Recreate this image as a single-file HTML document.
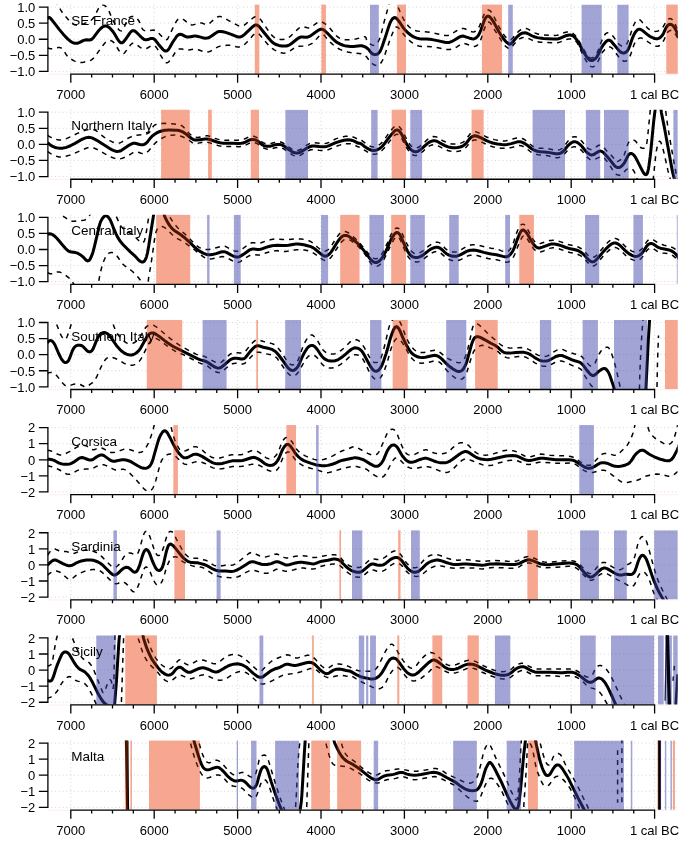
<!DOCTYPE html><html><head><meta charset="utf-8"><style>html,body{margin:0;padding:0;background:#fff}svg{display:block;will-change:transform}text{font-family:"Liberation Sans",sans-serif;font-size:13px;fill:#000}</style></head><body>
<svg width="685" height="842" viewBox="0 0 685 842">
<rect width="685" height="842" fill="#fff"/>
<g>
<g transform="translate(0 0.00)">
<clipPath id="c0"><rect x="47.6" y="4.5" width="630.2" height="69.5"/></clipPath>
<rect x="254.8" y="4.5" width="4.5" height="69.5" fill="#fbd0c3"/>
<rect x="321.4" y="4.5" width="4.5" height="69.5" fill="#fbd0c3"/>
<rect x="396.9" y="4.5" width="9.1" height="69.5" fill="#fbd0c3"/>
<rect x="481.9" y="4.5" width="20.1" height="69.5" fill="#fbd0c3"/>
<rect x="666.3" y="4.5" width="11.5" height="69.5" fill="#fbd0c3"/>
<path d="M47.6 7.07H677.8M47.6 23.15H677.8M47.6 39.23H677.8M47.6 55.31H677.8M47.6 71.39H677.8M70.80 4.5V74.0M154.20 4.5V74.0M237.60 4.5V74.0M321.00 4.5V74.0M404.40 4.5V74.0M487.80 4.5V74.0M571.20 4.5V74.0M654.60 4.5V74.0" stroke="#d3d3d3" stroke-width="1" stroke-dasharray="0.95 2.81" fill="none"/>
<g clip-path="url(#c0)">
<path d="M55.1 -0.0L60.8 10.1L62.3 12.5L63.7 14.4L65.8 16.8L69.6 21.0L71.0 22.4L71.9 23.1L72.8 23.8L73.9 24.4L74.6 24.7L75.7 24.9L77.3 25.0L78.9 24.9L80.8 24.5L83.9 23.6L87.3 22.3L89.5 21.3L90.8 20.5L92.3 19.2L93.1 18.3L93.7 17.3L95.0 15.3L98.1 9.2L98.9 7.9L99.8 6.6L100.6 5.7L101.6 5.2L102.2 4.9L103.3 5.0L104.3 5.3L105.6 6.2L106.7 7.3L107.6 8.6L108.4 10.0L109.1 11.4L112.2 18.8L114.0 22.4L116.1 25.8L117.6 28.2L118.9 29.7L119.4 30.2L120.0 30.6L121.0 30.9L121.6 30.8L122.5 30.3L123.2 29.5L123.8 28.5L124.2 27.4L126.0 22.9L126.8 21.1L127.5 19.7L128.5 18.4L129.7 17.4L131.1 16.7L131.8 16.5L132.6 16.4L133.7 16.5L134.8 16.8L135.5 17.2L136.1 17.6L137.3 18.7L138.2 20.0L139.1 21.3L139.8 22.7L141.3 26.9L141.8 27.9L142.6 29.2L143.4 30.0L144.0 30.4L144.7 30.6L146.3 30.9L147.5 30.9L149.4 30.7L153.7 30.1L154.8 30.2L155.5 30.4L156.5 31.0L157.7 32.0L162.4 37.0L164.4 38.9L165.3 39.5L165.9 39.7L166.2 39.7L166.8 39.6L167.3 39.3L167.7 38.7L168.1 38.1L170.3 33.4L173.8 26.2L175.0 23.7L176.2 21.6L177.1 20.3L177.9 19.4L178.8 18.8L179.5 18.5L180.2 18.4L181.3 18.5L182.0 18.8L183.0 19.3L184.4 20.1L185.3 20.9L188.5 23.8L189.5 24.4L190.6 24.8L191.7 24.9L193.3 24.8L194.8 24.4L198.6 23.1L199.8 22.9L200.5 22.9L201.3 22.9L202.1 23.1L204.9 24.2L205.7 24.4L206.4 24.5L207.1 24.4L207.9 24.2L209.2 23.5L210.8 22.3L214.6 18.8L216.6 17.4L217.6 16.9L218.8 16.6L219.5 16.5L220.7 16.6L222.2 17.0L224.0 17.8L228.8 20.6L237.3 25.2L239.1 25.9L240.3 26.1L241.0 26.2L241.8 26.1L242.6 25.9L243.3 25.7L244.3 25.1L245.9 23.9L249.5 20.7L253.6 17.5L254.9 16.8L255.6 16.6L256.3 16.5L257.0 16.6L258.1 17.1L259.0 17.8L260.0 18.9L261.5 20.8L269.7 32.7L270.9 34.2L272.0 35.4L273.4 36.8L274.8 37.7L276.2 38.4L278.1 39.0L280.4 39.4L282.8 39.5L284.8 39.2L286.7 38.7L288.4 37.8L290.0 36.6L291.5 35.3L298.1 28.9L299.4 27.8L300.3 27.2L301.0 26.9L301.8 26.7L302.9 26.6L304.4 26.9L307.4 27.8L308.6 27.9L309.7 27.8L310.8 27.4L311.8 26.8L315.9 23.6L317.9 22.3L318.6 22.0L319.3 21.7L320.4 21.6L321.5 21.8L323.0 22.5L324.6 23.5L326.5 25.0L328.3 26.6L329.7 28.0L334.0 33.3L335.9 35.4L337.1 36.4L338.0 37.2L339.3 38.0L340.4 38.6L342.3 39.2L344.2 39.6L346.6 39.8L349.4 39.7L352.6 39.4L355.8 38.9L358.5 38.3L363.1 37.0L364.2 36.8L364.9 36.8L365.4 37.0L365.8 37.3L366.1 37.8L366.4 39.5L366.8 40.5L367.5 41.5L368.6 42.6L370.1 43.8L371.8 44.9L372.5 45.2L373.2 45.3L374.3 45.4L375.0 45.2L375.7 44.8L376.3 44.3L377.0 43.5L378.3 41.5L379.7 38.6L380.5 36.3L381.2 34.0L383.4 24.7L384.8 19.3L389.4 3.1L390.3 0.9L391.3 -0.8L391.7 -1.4L392.3 -1.8L392.8 -2.0L393.1 -2.1L393.7 -2.0L394.2 -1.6L394.6 -1.1L395.2 -0.1L398.0 6.9L400.8 13.6L403.4 18.9L405.5 22.4L406.6 24.0L407.7 25.2L409.0 26.7L410.2 27.8L411.5 28.7L412.5 29.4L413.5 29.9L415.0 30.4L417.0 30.9L420.1 31.4L422.5 31.6L427.3 32.0L430.1 32.3L437.9 33.9L443.4 35.2L444.9 35.5L446.1 35.6L447.3 35.6L448.5 35.4L449.2 35.2L450.3 34.7L451.7 34.0L455.4 31.5L458.8 29.4L460.2 28.8L461.7 28.4L462.5 28.4L463.2 28.4L464.7 28.8L470.6 31.3L472.1 31.8L473.2 31.9L474.3 31.8L475.4 31.3L476.6 30.4L477.6 29.2L478.9 27.2L479.6 25.7L480.4 23.9L483.5 15.7L484.4 13.9L485.2 12.5L486.1 11.3L487.0 10.5L487.9 10.1L488.6 10.1L489.6 10.4L490.4 11.1L491.2 12.0L492.3 13.6L494.4 17.5L497.7 24.3L499.2 27.1L501.4 30.9L503.3 34.0L504.7 35.9L506.1 37.4L507.3 38.5L508.6 39.3L509.6 39.7L510.3 39.7L510.9 39.6L511.5 39.3L512.6 38.3L516.6 33.3L517.7 32.2L518.9 31.1L520.1 30.1L521.5 29.3L522.9 28.7L524.1 28.4L524.8 28.3L525.6 28.4L526.4 28.5L527.5 28.9L528.5 29.4L531.6 31.3L533.0 32.1L534.8 32.9L537.1 33.7L538.6 34.2L540.2 34.5L543.3 34.9L554.5 35.4L556.9 35.3L558.1 35.1L559.6 34.7L564.0 32.8L565.9 32.2L567.1 32.0L568.3 32.0L569.4 32.0L570.2 32.2L571.7 32.7L573.0 33.5L574.5 34.8L575.8 36.3L577.5 38.5L578.8 40.6L583.2 48.7L585.0 51.7L586.5 54.1L588.0 56.0L589.1 57.1L590.0 57.7L591.1 58.0L591.8 58.0L592.4 57.8L593.1 57.5L593.7 57.0L595.1 55.6L596.5 53.7L597.3 52.3L598.0 50.9L600.8 43.0L601.9 40.4L603.4 37.1L604.4 35.4L605.0 34.4L605.8 33.6L606.7 33.0L607.8 32.8L608.8 32.9L609.5 33.2L610.2 33.6L611.5 34.5L612.6 35.7L613.6 36.9L616.5 41.2L617.6 42.8L619.0 44.3L620.2 45.2L621.6 46.0L622.3 46.2L623.1 46.3L624.1 46.1L624.8 45.8L625.4 45.4L626.2 44.6L626.9 43.6L627.8 41.8L628.6 40.0L629.7 37.0L632.2 29.0L633.0 26.7L634.0 24.5L635.1 22.4L635.9 21.1L636.9 20.0L637.9 19.5L638.5 19.4L639.2 19.5L639.8 19.8L640.4 20.2L641.2 21.1L643.3 23.5L647.1 27.6L648.2 28.7L649.5 29.7L650.8 30.5L651.9 30.9L653.5 31.3L655.1 31.4L656.6 31.2L658.2 30.9L659.6 30.3L660.9 29.4L661.8 28.6L662.8 27.4L665.8 22.2L666.7 20.9L667.5 20.0L668.3 19.2L669.3 18.7L670.0 18.6L671.0 18.7L671.9 19.3L673.0 20.4L673.9 21.7L674.8 23.4L676.0 26.0L677.7 30.5L680.1 37.7" fill="none" stroke="#000" stroke-width="1.5" stroke-linejoin="round" stroke-linecap="butt" stroke-dasharray="4.9 4.9"/>
<path d="M47.5 47.7L49.4 48.5L50.5 48.7L51.3 48.8L52.8 48.7L56.7 47.8L58.3 47.6L59.9 47.6L60.6 47.8L61.3 48.1L62.3 48.7L63.3 49.8L64.2 51.1L65.7 53.9L66.9 55.5L68.0 56.7L69.5 58.0L70.8 58.9L72.5 60.0L74.2 60.9L75.7 61.6L77.2 62.1L78.4 62.3L79.5 62.5L80.7 62.5L81.9 62.4L83.5 62.2L88.6 61.1L90.4 60.4L91.1 60.1L92.1 59.4L93.6 58.1L94.9 56.6L99.8 49.7L103.1 45.2L104.3 43.7L105.4 42.5L106.4 41.8L107.7 41.0L108.8 40.6L109.9 40.5L111.0 40.7L112.1 41.1L113.3 42.1L114.1 43.0L115.0 44.2L118.6 50.0L119.9 52.0L120.7 52.9L121.3 53.3L121.9 53.7L122.5 53.8L122.9 53.8L123.5 53.6L124.1 53.3L124.6 52.8L127.4 49.3L129.9 45.7L130.6 44.8L131.7 43.7L132.7 43.3L133.7 43.2L134.4 43.3L135.1 43.6L136.4 44.4L139.2 46.7L140.5 47.6L142.2 48.5L143.8 48.8L144.9 48.9L146.4 48.5L147.5 48.0L150.2 46.4L151.3 45.9L152.4 45.5L153.5 45.5L154.2 45.6L154.8 45.9L155.4 46.4L156.2 47.2L157.5 49.2L160.2 54.6L163.7 60.4L164.4 61.3L165.2 62.2L166.1 62.7L166.7 62.8L167.4 62.7L168.0 62.4L168.6 62.0L169.4 61.1L172.5 56.9L175.2 52.5L176.1 51.2L176.8 50.3L177.4 49.8L178.1 49.4L178.8 49.1L179.9 48.9L181.0 48.9L182.2 49.1L185.3 49.9L187.2 50.1L188.8 50.0L193.5 49.1L194.7 49.1L195.9 49.1L197.1 49.3L198.2 49.7L203.8 51.7L205.4 52.0L207.0 52.1L208.5 51.9L210.4 51.3L212.1 50.3L216.2 47.8L218.0 46.9L220.2 46.1L223.0 45.6L226.6 45.3L228.6 45.2L230.2 45.3L232.5 45.7L236.4 46.8L237.5 47.0L239.1 47.1L240.2 47.0L241.0 46.8L242.1 46.3L243.1 45.7L244.3 44.7L246.6 42.5L248.6 40.5L252.4 35.9L253.5 34.8L254.7 33.8L255.4 33.4L256.1 33.2L256.8 33.1L257.8 33.3L258.5 33.7L259.4 34.4L260.4 35.6L263.6 39.6L267.9 44.4L270.5 46.9L272.6 48.7L273.9 49.6L275.3 50.4L278.2 51.8L279.7 52.4L281.2 52.8L282.4 53.1L283.5 53.2L284.7 53.1L285.9 52.9L287.0 52.5L288.1 52.0L290.5 50.6L294.7 47.6L295.8 47.1L296.9 46.6L298.0 46.3L299.2 46.2L303.2 46.1L305.1 46.0L307.5 45.4L309.0 44.9L310.1 44.4L312.2 43.3L314.0 41.8L315.4 40.3L318.5 36.7L319.9 35.3L320.5 34.9L321.2 34.5L322.2 34.4L323.2 34.6L324.1 35.2L324.9 36.1L327.6 39.5L330.2 42.1L332.8 44.5L334.7 46.0L336.6 47.5L338.3 48.5L340.4 49.6L342.7 50.5L345.3 51.4L347.6 52.0L350.4 52.5L354.3 53.1L361.5 53.8L362.7 54.0L363.4 54.3L364.4 54.8L365.6 55.8L366.9 57.3L369.8 61.1L370.9 62.3L371.8 63.1L373.4 64.3L374.7 65.0L375.8 65.4L376.9 65.6L377.7 65.5L378.4 65.2L379.0 64.9L379.9 64.1L381.2 62.6L382.6 60.2L383.4 58.4L384.5 55.8L390.3 38.8L392.5 33.2L393.7 30.2L394.6 28.5L395.3 27.6L396.1 27.1L396.8 27.0L397.4 27.2L398.0 27.5L398.8 28.2L400.6 30.4L404.0 34.8L405.0 36.1L406.9 38.1L409.5 40.6L411.4 42.1L413.0 43.3L414.7 44.3L416.5 45.2L418.7 46.0L421.1 46.5L423.0 46.6L427.4 46.5L431.4 46.8L435.0 47.3L438.1 47.8L445.6 49.4L447.1 49.6L448.7 49.6L449.9 49.5L451.5 49.2L453.0 48.7L454.5 48.1L457.0 46.8L461.0 44.2L462.0 43.7L463.2 43.5L464.3 43.5L465.4 43.7L470.3 45.5L472.2 46.1L473.3 46.3L474.5 46.4L475.2 46.3L475.9 46.0L476.9 45.5L477.8 44.7L478.8 43.5L479.7 42.2L480.4 40.7L481.4 38.1L483.9 30.1L485.1 27.2L486.2 24.6L486.8 23.6L487.5 22.7L488.3 22.2L488.9 22.1L489.4 22.2L490.0 22.6L490.9 23.7L493.1 27.5L498.4 36.0L501.9 41.4L504.0 44.3L505.2 45.9L506.7 47.2L508.0 48.1L509.0 48.5L509.7 48.6L510.4 48.5L510.7 48.4L511.2 48.0L511.9 47.2L513.2 45.2L514.4 43.7L516.6 41.3L518.4 39.7L519.7 38.8L520.7 38.2L522.2 37.7L523.3 37.4L524.9 37.3L525.7 37.4L526.8 37.7L528.3 38.3L531.5 39.9L532.9 40.5L535.2 41.3L537.5 41.8L540.3 42.2L543.1 42.4L553.9 42.9L556.7 42.8L558.6 42.5L560.5 41.9L564.9 40.0L566.5 39.6L568.4 39.1L570.0 38.9L571.2 38.8L572.3 38.9L573.4 39.3L574.5 39.8L575.3 40.5L576.4 41.7L577.5 43.4L579.1 46.6L582.1 53.2L583.5 56.0L585.4 59.5L587.1 62.3L588.5 64.2L589.9 65.7L590.4 66.2L591.1 66.6L592.1 66.9L593.1 66.8L594.1 66.3L595.2 65.3L596.4 63.8L597.5 62.1L598.5 60.4L601.8 53.5L602.6 52.1L603.6 50.9L604.9 49.4L606.4 48.1L607.8 47.3L608.8 47.0L609.9 46.9L610.6 47.1L611.2 47.5L612.1 48.2L613.6 50.0L619.1 57.4L620.5 58.9L621.7 59.9L623.0 60.8L624.0 61.2L625.1 61.2L625.8 61.1L626.5 60.8L627.4 60.1L628.2 59.2L629.0 57.9L629.8 56.5L631.0 53.6L633.7 45.6L634.4 43.8L635.2 42.3L636.2 40.7L637.3 39.5L638.5 38.6L639.6 38.1L640.3 38.0L641.0 38.0L641.8 38.1L642.8 38.5L645.2 39.9L650.5 43.5L652.6 44.7L654.4 45.6L655.5 46.0L656.3 46.2L657.4 46.3L658.2 46.2L659.2 45.8L660.2 45.2L661.3 44.1L662.5 42.5L663.9 40.1L666.5 34.2L667.1 33.2L667.7 32.2L668.5 31.4L669.5 30.8L670.5 30.5L671.2 30.5L672.2 30.9L672.9 31.3L673.4 31.8L674.5 33.0L675.9 34.9L677.1 37.0L678.0 38.8L680.1 44.0" fill="none" stroke="#000" stroke-width="1.5" stroke-linejoin="round" stroke-linecap="butt" stroke-dasharray="4.9 4.9"/>
<path d="M47.5 18.8L48.2 17.8L48.7 17.5L48.9 17.4L49.2 17.4L49.7 17.6L50.5 18.3L52.3 20.4L59.4 29.6L63.0 33.9L65.4 36.6L67.9 39.1L70.0 40.9L72.0 42.2L73.1 42.8L73.8 43.0L75.4 43.3L76.1 43.3L77.3 43.2L79.2 42.6L83.1 40.6L84.6 40.1L86.1 39.8L89.6 40.0L90.7 39.8L91.4 39.5L92.3 38.8L93.4 37.7L97.9 31.6L99.2 30.0L100.9 28.4L102.1 27.3L103.4 26.5L104.1 26.2L104.9 26.0L106.0 26.0L107.1 26.2L108.4 27.0L110.0 28.2L111.6 30.0L113.1 31.8L114.3 33.5L117.5 39.0L118.6 40.6L119.6 41.8L120.2 42.3L120.8 42.7L121.4 42.8L122.1 42.8L122.7 42.5L123.3 42.1L123.8 41.5L124.6 40.6L127.6 36.4L129.8 33.1L130.8 31.9L131.7 31.1L132.3 30.8L133.0 30.6L133.7 30.7L134.7 31.0L136.0 31.9L137.1 33.0L139.9 35.8L142.2 38.0L143.5 39.0L144.5 39.6L145.5 39.8L146.6 39.8L147.8 39.6L150.4 38.6L151.5 38.4L152.6 38.4L153.3 38.7L154.0 39.0L154.9 39.7L155.7 40.6L158.6 44.4L163.0 49.5L163.9 50.3L164.5 50.7L165.2 51.0L165.9 51.1L166.5 50.9L167.2 50.7L167.7 50.2L168.3 49.7L169.6 47.7L172.5 42.5L175.9 37.5L176.8 36.2L177.6 35.4L178.6 34.7L179.2 34.4L180.3 34.2L181.4 34.4L182.4 34.9L185.2 36.4L186.3 36.8L187.1 37.0L187.8 37.0L189.0 37.0L193.3 36.2L194.5 36.1L195.7 36.1L196.9 36.2L198.0 36.4L202.3 37.6L203.8 38.0L205.4 38.2L206.6 38.1L208.1 37.9L208.8 37.6L209.9 37.1L211.6 36.0L215.4 33.2L217.1 32.2L218.2 31.7L219.0 31.6L219.8 31.4L221.0 31.4L222.9 31.7L225.6 32.4L231.3 34.4L235.7 36.2L237.2 36.8L238.7 37.0L239.9 37.0L240.6 36.8L241.4 36.6L242.1 36.2L243.0 35.6L244.6 34.3L247.5 31.6L253.0 26.4L254.0 25.7L254.6 25.3L255.3 25.1L256.0 25.0L256.8 25.1L257.8 25.5L258.4 25.9L259.3 26.7L260.3 27.9L263.3 31.7L269.1 38.8L270.7 40.6L272.1 42.0L273.7 43.2L275.0 44.0L276.9 44.8L278.8 45.4L281.9 45.9L284.3 46.1L286.3 46.0L288.2 45.5L289.6 44.8L290.9 44.0L297.5 38.8L298.5 38.1L299.5 37.5L300.6 37.1L301.8 37.0L303.0 37.0L305.3 37.2L306.5 37.2L307.7 37.1L308.8 36.7L309.8 36.2L310.9 35.6L315.1 32.5L318.7 30.1L320.1 29.4L320.8 29.3L321.6 29.2L322.3 29.3L323.0 29.6L323.7 29.9L324.7 30.6L325.8 31.7L328.4 34.2L332.8 38.8L334.6 40.5L335.8 41.5L337.1 42.4L338.5 43.2L340.3 44.1L342.5 45.0L344.4 45.6L346.3 46.1L348.3 46.3L350.7 46.5L353.5 46.4L360.2 45.8L361.8 45.8L363.3 46.2L364.5 46.6L365.5 47.1L366.9 48.0L367.8 48.7L368.9 49.8L371.0 52.7L372.2 53.7L373.2 54.2L373.9 54.4L374.7 54.6L375.8 54.5L376.6 54.3L377.3 54.1L378.0 53.7L378.6 53.2L379.6 52.1L380.4 50.7L381.4 48.5L382.5 45.5L385.8 35.7L388.6 26.9L390.0 23.1L391.2 20.6L392.3 19.0L392.9 18.5L393.5 18.0L394.1 17.7L394.7 17.6L395.4 17.7L396.0 18.0L396.6 18.5L397.4 19.3L399.8 22.5L403.6 28.1L404.9 29.7L406.5 31.4L408.5 33.3L410.4 34.8L412.4 36.2L414.2 37.1L416.8 38.1L419.5 38.7L421.9 39.0L426.6 38.9L429.4 39.2L432.2 39.6L437.3 40.6L444.7 42.3L446.3 42.5L447.5 42.6L448.6 42.5L449.4 42.4L451.3 41.7L454.5 40.0L459.2 37.1L460.6 36.5L461.8 36.2L462.9 36.1L464.1 36.3L469.7 38.2L472.0 38.8L473.2 38.9L474.3 38.7L475.0 38.4L476.0 37.9L476.9 37.1L478.0 35.9L478.9 34.6L479.6 33.2L480.8 30.3L483.7 21.9L484.4 20.1L485.3 18.3L486.0 17.3L486.7 16.6L487.6 16.2L488.3 16.2L489.2 16.5L490.1 17.2L491.1 18.4L492.3 20.0L494.4 23.4L497.8 29.8L499.2 32.2L501.3 35.6L503.4 38.5L505.1 40.7L506.5 42.2L507.7 43.2L508.3 43.7L508.9 44.0L509.6 44.2L510.3 44.1L510.9 43.9L511.4 43.5L516.2 37.7L517.6 36.3L519.1 35.0L520.4 34.1L521.4 33.5L522.5 33.1L523.7 32.9L525.2 32.8L526.8 33.2L528.2 33.8L531.3 35.5L532.8 36.2L535.0 37.0L537.4 37.6L540.1 38.1L543.3 38.5L553.3 39.1L556.1 39.1L558.0 38.9L559.9 38.3L564.3 36.3L566.5 35.5L568.1 35.2L569.3 35.0L570.4 35.0L571.2 35.2L572.3 35.5L573.6 36.3L574.8 37.4L575.8 38.6L577.0 40.2L578.1 41.9L583.1 51.0L585.1 54.4L586.7 56.8L587.9 58.3L589.0 59.5L589.6 59.9L590.2 60.3L591.3 60.5L592.4 60.4L593.1 60.2L593.8 59.8L595.0 58.9L596.4 57.4L597.1 56.5L597.9 55.1L598.7 53.7L601.0 48.6L602.0 46.9L603.1 45.2L604.8 43.0L606.1 41.5L607.3 40.6L608.3 40.2L609.0 40.2L609.7 40.3L610.3 40.6L611.2 41.3L614.3 44.9L618.3 49.9L619.5 51.1L620.7 52.1L622.0 52.8L623.1 53.0L624.2 53.0L624.9 52.8L625.6 52.4L626.5 51.7L627.3 50.8L628.0 49.9L628.7 48.5L629.9 45.5L632.6 37.6L633.6 35.4L634.5 33.6L635.6 31.9L636.6 30.7L637.1 30.2L637.7 29.7L638.7 29.3L639.4 29.2L640.1 29.3L640.8 29.6L641.5 29.9L644.1 31.8L648.4 35.3L649.7 36.2L651.5 37.2L653.3 38.0L654.8 38.5L656.4 38.7L657.5 38.7L658.6 38.4L659.7 37.9L660.9 36.9L661.9 35.8L662.9 34.5L663.6 33.1L665.6 28.7L666.3 27.3L667.0 26.3L667.7 25.4L668.6 24.7L669.3 24.4L670.0 24.3L671.0 24.4L672.0 24.9L672.9 25.6L673.9 26.8L674.8 28.1L675.9 30.2L677.6 33.9L680.1 40.2" fill="none" stroke="#000" stroke-width="3" stroke-linejoin="round" stroke-linecap="butt"/>
<rect x="254.8" y="4.5" width="4.5" height="69.5" fill="#ee4a18" fill-opacity="0.3"/>
<rect x="321.4" y="4.5" width="4.5" height="69.5" fill="#ee4a18" fill-opacity="0.3"/>
<rect x="370.0" y="4.5" width="8.8" height="69.5" fill="#3a40a5" fill-opacity="0.48"/>
<rect x="396.9" y="4.5" width="9.1" height="69.5" fill="#ee4a18" fill-opacity="0.3"/>
<rect x="481.9" y="4.5" width="20.1" height="69.5" fill="#ee4a18" fill-opacity="0.3"/>
<rect x="508.2" y="4.5" width="4.6" height="69.5" fill="#3a40a5" fill-opacity="0.48"/>
<rect x="581.6" y="4.5" width="20.1" height="69.5" fill="#3a40a5" fill-opacity="0.48"/>
<rect x="617.3" y="4.5" width="11.3" height="69.5" fill="#3a40a5" fill-opacity="0.48"/>
<rect x="666.3" y="4.5" width="11.5" height="69.5" fill="#ee4a18" fill-opacity="0.3"/>
</g>
<path d="M47.6 74.25H677.8" stroke="#fcefec" stroke-width="1"/>
<path d="M47.9 7.07V71.39M39.5 7.07H47.9M39.5 23.15H47.9M39.5 39.23H47.9M39.5 55.31H47.9M39.5 71.39H47.9M70.80 74.10H654.60M70.80 74.10V82.10M154.20 74.10V82.10M237.60 74.10V82.10M321.00 74.10V82.10M404.40 74.10V82.10M487.80 74.10V82.10M571.20 74.10V82.10M654.60 74.10V82.10M91.65 74.10V76.90M112.50 74.10V76.90M133.35 74.10V76.90M175.05 74.10V76.90M195.90 74.10V76.90M216.75 74.10V76.90M258.45 74.10V76.90M279.30 74.10V76.90M300.15 74.10V76.90M341.85 74.10V76.90M362.70 74.10V76.90M383.55 74.10V76.90M425.25 74.10V76.90M446.10 74.10V76.90M466.95 74.10V76.90M508.65 74.10V76.90M529.50 74.10V76.90M550.35 74.10V76.90M592.05 74.10V76.90M612.90 74.10V76.90M633.75 74.10V76.90" stroke="#000" stroke-width="1.3" fill="none" stroke-linecap="square"/>
<text x="35.3" y="11.87" text-anchor="end">1.0</text>
<text x="35.3" y="27.95" text-anchor="end">0.5</text>
<text x="35.3" y="44.03" text-anchor="end">0.0</text>
<text x="35.3" y="60.11" text-anchor="end">−0.5</text>
<text x="35.3" y="76.19" text-anchor="end">−1.0</text>
<text x="70.80" y="98.70" text-anchor="middle">7000</text>
<text x="154.20" y="98.70" text-anchor="middle">6000</text>
<text x="237.60" y="98.70" text-anchor="middle">5000</text>
<text x="321.00" y="98.70" text-anchor="middle">4000</text>
<text x="404.40" y="98.70" text-anchor="middle">3000</text>
<text x="487.80" y="98.70" text-anchor="middle">2000</text>
<text x="571.20" y="98.70" text-anchor="middle">1000</text>
<text x="654.60" y="98.70" text-anchor="middle">1 cal BC</text>
<text x="71.3" y="25.1" style="font-size:13.5px">SE France</text>
</g>
<g transform="translate(0 105.14)">
<clipPath id="c1"><rect x="47.6" y="4.5" width="630.2" height="69.5"/></clipPath>
<rect x="161.1" y="4.5" width="28.6" height="69.5" fill="#fbd0c3"/>
<rect x="208.1" y="4.5" width="3.7" height="69.5" fill="#fbd0c3"/>
<rect x="250.8" y="4.5" width="8.2" height="69.5" fill="#fbd0c3"/>
<rect x="391.7" y="4.5" width="14.3" height="69.5" fill="#fbd0c3"/>
<rect x="471.6" y="4.5" width="12.0" height="69.5" fill="#fbd0c3"/>
<path d="M47.6 7.07H677.8M47.6 23.15H677.8M47.6 39.23H677.8M47.6 55.31H677.8M47.6 71.39H677.8M70.80 4.5V74.0M154.20 4.5V74.0M237.60 4.5V74.0M321.00 4.5V74.0M404.40 4.5V74.0M487.80 4.5V74.0M571.20 4.5V74.0M654.60 4.5V74.0" stroke="#d3d3d3" stroke-width="1" stroke-dasharray="0.95 2.81" fill="none"/>
<g clip-path="url(#c1)">
<path d="M47.5 30.0L49.1 31.2L50.5 32.0L52.3 32.9L54.5 33.7L56.8 34.4L58.8 34.8L60.4 34.9L61.9 34.9L63.9 34.5L66.5 33.5L72.3 30.8L78.4 27.8L81.0 26.7L83.6 25.7L85.9 25.0L88.2 24.5L90.2 24.2L92.2 24.3L93.3 24.5L94.5 24.8L95.6 25.3L96.6 25.9L98.2 27.0L102.1 30.5L104.0 31.9L106.7 33.7L109.8 35.5L112.3 36.8L114.5 37.6L116.5 38.0L118.0 38.1L119.6 37.8L121.0 37.2L122.4 36.4L125.8 34.3L127.6 33.4L130.8 31.8L133.0 30.9L134.6 30.5L136.1 30.2L141.7 29.7L144.5 29.2L146.4 28.8L147.9 28.2L148.9 27.6L150.0 26.5L150.8 25.2L152.6 22.1L153.6 20.9L154.8 19.9L156.2 19.2L158.1 18.7L160.9 18.4L164.9 18.2L168.5 18.3L172.1 18.6L177.7 19.2L179.6 19.6L181.4 20.4L182.4 21.0L183.6 22.0L184.7 23.2L187.5 26.6L188.6 27.7L190.1 29.1L191.6 30.3L193.0 31.1L194.4 31.8L195.5 32.1L197.1 32.3L198.7 32.2L200.7 31.8L205.3 30.8L206.5 30.7L207.7 30.7L209.6 31.1L215.2 33.3L217.5 34.0L219.4 34.5L221.4 34.8L223.4 35.1L225.4 35.2L228.2 35.2L238.2 35.0L241.3 34.7L242.9 34.4L244.0 34.0L245.5 33.4L248.4 32.0L249.9 31.5L251.8 31.2L253.4 31.2L254.6 31.4L255.3 31.7L256.0 32.0L257.1 32.5L258.3 33.5L260.6 35.7L261.8 36.7L263.2 37.6L264.6 38.2L266.5 38.6L267.7 38.7L268.9 38.7L270.9 38.4L274.3 37.4L276.3 37.0L278.6 36.8L280.6 36.9L282.1 37.4L283.5 38.1L289.0 42.0L291.1 43.4L292.4 44.2L293.5 44.7L294.6 45.1L295.8 45.3L296.9 45.4L298.5 45.2L299.2 44.9L300.3 44.4L301.6 43.6L304.9 41.3L307.6 39.5L309.7 38.4L311.2 37.9L312.3 37.6L313.9 37.5L322.7 38.3L324.7 38.3L326.2 38.1L327.4 37.8L328.9 37.2L334.6 34.3L336.4 33.5L338.3 32.9L341.0 32.1L343.3 31.5L345.7 31.1L347.7 31.0L350.0 31.0L352.0 31.4L353.1 31.8L354.2 32.2L358.0 34.2L358.9 34.4L360.2 34.5L360.9 34.7L361.7 35.2L364.5 37.4L366.4 38.8L369.1 40.5L370.9 41.3L372.1 41.7L373.2 41.9L374.4 41.8L375.5 41.6L377.0 41.1L378.4 40.3L380.0 39.1L381.5 37.8L383.4 35.7L388.0 29.2L393.0 22.9L394.1 21.8L395.0 21.1L396.0 20.5L397.0 20.4L398.0 20.6L398.9 21.2L399.7 22.0L400.9 23.6L403.0 27.0L406.2 33.1L407.7 35.9L409.2 38.2L410.3 39.9L411.4 41.0L412.3 41.8L413.7 42.5L414.8 42.8L415.5 42.9L416.7 42.8L417.8 42.4L418.8 41.9L420.4 40.7L422.6 39.0L424.1 37.6L426.9 34.8L428.5 33.6L429.8 32.7L430.9 32.2L432.4 31.7L433.5 31.4L435.1 31.5L436.6 31.9L438.0 32.6L441.3 34.8L443.4 35.9L446.7 37.4L449.3 38.3L452.1 38.8L454.5 38.9L457.3 38.7L460.0 38.2L461.5 37.7L462.6 37.2L463.9 36.4L464.8 35.6L466.4 33.8L469.7 29.3L470.5 28.4L471.4 27.7L472.4 27.1L473.1 26.8L474.2 26.5L475.0 26.5L476.1 26.7L477.6 27.2L485.4 31.3L487.2 32.1L489.1 32.8L491.7 33.7L494.4 34.5L496.8 35.0L499.5 35.4L503.1 35.8L504.7 35.8L505.9 35.7L508.3 35.2L513.6 33.6L516.7 32.8L518.7 32.7L519.5 32.7L520.6 32.9L521.8 33.2L522.9 33.6L525.0 34.8L526.9 36.2L530.2 39.1L531.7 40.4L533.8 41.6L536.0 42.5L537.5 42.9L539.1 43.1L540.7 43.1L544.3 43.1L546.3 43.2L548.2 43.5L554.5 44.8L556.1 45.0L557.7 45.0L558.8 44.8L560.0 44.5L561.4 43.8L562.4 43.1L563.3 42.4L564.3 41.2L566.8 37.5L567.7 36.3L568.8 35.1L570.0 34.0L571.2 33.0L572.5 32.1L573.2 31.8L574.0 31.6L575.1 31.6L576.2 31.8L577.3 32.3L578.3 32.9L579.5 33.9L581.0 35.3L582.1 36.4L585.3 40.5L586.6 42.0L588.1 43.3L589.1 43.9L589.8 44.1L590.6 44.3L591.3 44.4L592.1 44.3L593.1 43.9L594.5 43.1L597.3 40.9L598.7 40.2L599.4 40.1L600.1 40.0L600.9 40.2L601.9 40.6L602.5 41.0L603.4 41.8L607.3 46.4L612.4 51.4L613.5 53.0L614.6 55.5L615.2 56.3L615.6 56.6L615.9 56.6L616.5 56.6L617.2 56.4L618.3 56.0L620.7 54.6L621.9 53.6L622.9 52.4L623.7 51.0L624.4 49.2L625.6 45.8L627.1 40.8L628.0 38.6L628.5 37.5L629.2 36.6L630.1 35.8L630.7 35.3L631.7 34.9L632.8 34.8L633.9 35.0L634.9 35.5L635.5 36.0L636.3 36.9L638.5 40.2L639.5 41.4L640.7 42.4L641.7 42.9L642.4 43.1L643.2 43.2L643.9 43.2L644.5 43.0L645.4 42.4L645.8 41.9L646.1 41.2L646.4 40.1L646.8 38.1L647.6 32.2L650.1 6.7L651.3 -11.3L651.7 -15.7L652.2 -20.0L654.4 -35.9L655.8 -44.6L656.4 -47.3L656.8 -48.8L657.1 -49.5L657.4 -49.9L657.8 -50.2L658.0 -50.2L658.3 -50.1L658.8 -49.3L659.2 -48.3L659.6 -46.8L660.6 -41.3L661.9 -32.6L663.6 -19.9L664.1 -15.5L664.6 -9.9L665.3 1.7L665.9 7.2L666.7 14.0L668.0 22.7L672.5 49.1L678.4 80.6" fill="none" stroke="#000" stroke-width="1.5" stroke-linejoin="round" stroke-linecap="butt" stroke-dasharray="4.9 4.9"/>
<path d="M47.5 46.3L49.5 47.7L51.2 48.7L53.7 50.0L55.9 50.9L57.4 51.4L59.0 51.8L60.6 51.9L62.2 51.9L64.1 51.6L66.1 51.1L68.0 50.5L70.3 49.8L73.6 48.5L80.2 45.6L85.0 43.6L86.9 42.9L88.0 42.5L89.2 42.3L90.4 42.2L91.2 42.3L92.3 42.4L93.9 42.9L97.2 44.3L100.0 45.8L104.5 48.4L108.0 50.3L110.5 51.6L112.3 52.4L114.6 53.2L116.5 53.6L118.1 53.8L119.7 53.7L120.8 53.5L122.4 53.1L123.9 52.5L125.7 51.8L128.2 50.5L132.6 47.7L134.0 47.0L135.1 46.7L136.2 46.6L137.4 46.7L138.5 47.1L141.1 48.1L142.6 48.5L143.7 48.6L144.5 48.4L145.2 48.2L145.9 47.9L146.9 47.2L148.7 45.6L150.0 44.1L153.2 40.1L155.4 37.8L157.9 35.7L160.2 34.1L161.9 33.1L163.7 32.2L165.5 31.4L167.0 30.9L168.6 30.5L170.5 30.2L172.1 30.0L174.1 29.9L176.5 30.0L178.5 30.4L180.4 30.9L183.0 31.9L185.2 32.9L187.3 34.0L189.0 35.1L192.5 37.7L193.6 38.2L194.3 38.5L195.0 38.6L196.2 38.6L200.4 37.5L203.2 37.1L205.2 37.0L207.1 37.1L208.3 37.3L209.9 37.7L214.4 39.3L217.8 40.3L220.6 41.0L222.9 41.3L226.1 41.4L232.9 41.3L238.9 41.6L241.3 41.4L242.9 41.1L244.4 40.6L245.4 40.1L248.6 38.4L250.0 37.8L250.8 37.6L252.0 37.4L253.1 37.4L254.3 37.5L255.8 37.9L257.6 38.8L258.6 39.4L261.5 41.6L263.2 42.6L265.0 43.4L266.9 44.0L268.5 44.2L270.0 44.1L271.2 43.8L275.0 42.7L277.4 42.4L279.4 42.3L280.5 42.5L281.3 42.6L282.4 43.1L283.8 43.8L288.7 47.3L291.0 48.8L292.4 49.7L293.4 50.2L294.6 50.6L295.7 50.8L296.5 50.9L297.3 50.9L298.4 50.7L300.3 50.1L301.7 49.3L305.2 47.3L307.6 46.0L309.4 45.1L310.9 44.7L312.1 44.5L313.7 44.4L318.8 45.0L322.0 45.3L324.0 45.3L326.0 45.1L327.2 44.9L328.7 44.4L335.3 41.5L339.8 40.0L342.1 39.3L344.1 38.9L346.0 38.6L348.0 38.5L350.4 38.6L352.4 39.0L354.2 39.7L358.0 41.7L358.9 41.9L360.1 42.0L360.9 42.2L361.7 42.8L364.4 45.0L366.1 46.1L368.5 47.6L370.6 48.6L371.8 48.9L372.9 49.1L374.1 49.2L375.3 49.0L376.8 48.6L378.6 47.7L380.2 46.6L381.8 45.4L382.9 44.3L384.3 42.8L392.5 32.5L393.8 31.0L394.7 30.2L395.6 29.5L396.3 29.2L397.0 29.1L398.0 29.3L398.9 29.9L399.7 30.7L400.7 32.0L401.8 33.6L402.6 35.0L405.3 40.4L406.3 42.1L407.8 44.5L409.5 46.7L410.8 48.1L412.4 49.4L413.8 50.1L414.5 50.3L415.2 50.4L416.0 50.4L417.1 50.2L418.2 49.7L419.2 49.1L420.8 47.9L423.0 46.2L427.4 42.1L429.0 41.0L430.1 40.5L431.2 40.0L433.1 39.7L434.3 39.6L435.1 39.7L435.9 39.8L437.0 40.2L438.1 40.7L442.0 42.7L445.6 44.4L447.8 45.3L449.7 45.9L452.1 46.3L454.5 46.4L456.8 46.3L459.6 45.8L461.1 45.3L462.2 44.9L463.3 44.3L464.3 43.7L465.2 42.9L466.1 42.1L469.4 38.1L471.1 36.5L472.1 35.8L473.1 35.2L474.2 34.9L475.0 34.8L475.7 34.8L476.9 34.9L478.8 35.5L481.3 36.7L486.7 39.4L488.5 40.2L490.4 40.9L492.7 41.6L494.6 42.1L496.6 42.5L498.6 42.8L501.0 43.0L503.4 43.1L505.8 43.0L508.1 42.9L510.5 42.5L512.5 42.1L517.8 40.4L519.3 40.3L520.9 40.5L522.7 41.1L524.9 42.2L526.8 43.6L529.9 46.1L531.2 47.1L532.6 47.9L534.4 48.6L536.3 49.2L538.3 49.6L540.2 49.8L544.2 50.0L546.2 50.3L548.2 50.7L553.2 52.1L555.9 52.5L557.5 52.6L558.7 52.4L559.8 52.0L561.2 51.4L562.6 50.5L563.8 49.5L567.3 45.6L568.4 44.6L569.7 43.6L571.0 42.7L572.4 42.0L573.9 41.6L575.1 41.6L576.2 41.8L577.7 42.4L579.0 43.2L580.3 44.2L581.2 45.0L582.3 46.1L585.7 50.5L587.1 52.0L588.9 53.5L589.9 54.2L590.6 54.5L591.3 54.7L592.1 54.8L592.8 54.8L593.6 54.7L595.1 54.1L599.0 52.2L600.5 51.7L601.2 51.6L601.9 51.7L602.6 51.9L603.3 52.2L604.2 52.9L605.1 53.8L606.3 55.3L607.8 57.2L609.8 60.2L613.6 66.3L614.6 67.6L615.4 68.4L616.0 68.9L617.3 69.7L618.4 70.0L619.5 70.0L620.6 69.8L621.7 69.3L622.3 68.8L623.2 68.1L625.2 65.6L626.0 64.8L627.0 64.1L627.6 63.8L628.4 63.6L629.1 63.4L630.3 63.4L631.4 63.7L632.4 64.2L633.3 65.0L633.9 65.9L634.6 67.3L635.7 69.9L636.9 73.3L638.0 78.4L638.6 80.3L639.6 82.9L641.2 86.6L642.3 88.7L643.2 90.0L643.7 90.5L644.2 90.9L644.8 91.2L645.2 91.2L645.8 91.1L646.7 90.6L647.4 89.7L648.4 88.5L649.5 86.4L650.9 83.5L651.9 81.3L652.5 79.4L652.8 77.8L653.0 76.2L655.4 53.2L655.8 49.2L656.3 46.0L657.1 42.1L658.1 38.2L658.5 37.2L658.9 36.6L659.2 36.2L659.6 36.1L659.8 36.1L660.2 36.4L660.6 36.8L661.0 37.5L661.8 39.7L662.6 42.4L664.3 49.0L668.0 65.8L670.4 74.2L672.2 81.6" fill="none" stroke="#000" stroke-width="1.5" stroke-linejoin="round" stroke-linecap="butt" stroke-dasharray="4.9 4.9"/>
<path d="M47.5 37.5L49.7 39.3L51.3 40.5L52.7 41.3L54.5 42.1L56.4 42.6L58.8 43.0L60.8 43.1L62.8 43.0L64.3 42.7L66.3 42.2L68.2 41.5L70.4 40.6L74.0 38.8L80.5 35.0L83.0 33.8L84.9 33.0L86.4 32.5L87.6 32.3L88.7 32.2L89.9 32.3L91.1 32.5L92.5 33.0L94.4 33.9L96.8 35.2L99.9 37.1L109.3 43.1L112.1 44.7L114.0 45.5L115.8 46.1L117.4 46.3L118.6 46.2L120.1 45.9L121.5 45.2L129.8 39.6L131.2 38.9L132.3 38.4L133.4 38.2L135.0 38.2L136.1 38.4L139.6 39.3L141.6 39.6L143.1 39.5L143.9 39.4L144.6 39.1L145.6 38.5L146.8 37.5L147.8 36.3L150.5 32.8L152.1 31.0L154.3 29.3L156.3 28.0L157.7 27.2L159.2 26.6L160.7 26.1L162.6 25.6L164.6 25.2L166.2 25.0L168.2 24.9L170.2 24.9L175.7 25.1L177.7 25.2L179.7 25.6L181.6 26.2L183.7 27.3L186.0 28.8L187.6 30.1L190.3 32.4L191.6 33.4L192.9 34.2L194.0 34.6L195.2 34.8L196.8 34.8L199.9 34.5L205.1 33.9L206.3 33.8L207.5 33.9L208.7 34.1L209.8 34.4L214.7 36.1L217.8 37.1L220.1 37.6L222.5 38.0L225.6 38.2L232.8 38.1L238.8 38.3L241.2 38.2L242.8 37.9L244.3 37.4L245.4 36.9L248.6 35.3L250.1 34.7L251.2 34.5L252.4 34.4L253.6 34.4L254.4 34.5L255.9 34.9L257.3 35.6L258.6 36.5L261.3 38.9L262.6 39.8L264.0 40.5L265.9 41.0L267.9 41.2L269.9 41.1L271.4 40.7L274.8 39.7L277.6 39.3L279.6 39.3L280.7 39.5L281.5 39.7L282.6 40.1L284.0 40.9L288.2 44.0L291.9 46.4L292.9 46.9L294.0 47.4L295.1 47.7L295.9 47.8L296.7 47.9L297.9 47.8L299.0 47.5L300.1 47.1L301.5 46.4L305.2 44.0L308.0 42.4L309.8 41.6L311.3 41.1L312.5 40.9L314.1 40.8L319.2 41.3L322.8 41.5L324.8 41.5L326.4 41.3L327.5 41.0L329.0 40.5L335.2 37.8L339.8 36.2L342.1 35.6L344.1 35.1L346.0 34.9L348.0 34.7L350.4 34.8L352.3 35.3L354.2 36.0L358.0 37.9L358.9 38.2L360.1 38.2L360.6 38.4L361.7 39.0L364.1 41.0L365.7 42.1L367.1 43.0L368.8 44.0L370.2 44.6L371.7 45.2L372.9 45.4L374.1 45.4L375.6 45.2L377.5 44.5L379.2 43.6L381.1 42.2L382.3 41.1L383.6 39.6L388.2 33.5L391.9 28.8L393.5 27.0L394.6 25.9L395.6 25.2L396.6 24.9L397.3 24.9L397.9 25.0L398.9 25.6L399.7 26.4L400.9 28.0L402.0 29.7L402.7 31.1L405.1 36.1L406.2 38.3L407.7 40.6L409.1 42.5L410.7 44.3L412.3 45.5L413.7 46.3L414.4 46.5L415.1 46.7L415.9 46.7L417.0 46.5L417.7 46.2L418.8 45.6L420.1 44.7L422.3 43.0L427.0 38.7L428.6 37.5L430.0 36.7L431.1 36.2L432.2 35.9L433.4 35.7L434.5 35.6L435.3 35.7L436.8 36.1L438.2 36.8L442.1 39.0L444.9 40.4L447.5 41.5L449.8 42.2L452.6 42.6L455.0 42.7L457.7 42.4L460.1 41.9L461.6 41.4L462.7 40.9L464.0 40.1L464.9 39.3L466.6 37.6L469.5 33.8L470.3 32.9L471.2 32.1L472.2 31.5L472.9 31.2L474.0 30.8L474.7 30.7L476.3 30.9L478.2 31.4L481.1 32.8L486.4 35.5L488.3 36.3L490.1 37.0L492.8 37.8L495.1 38.4L497.5 38.9L499.9 39.2L501.8 39.4L503.8 39.5L505.4 39.5L507.0 39.4L509.0 39.0L511.3 38.5L517.4 36.7L519.0 36.5L520.5 36.6L522.4 37.2L523.5 37.7L524.9 38.5L526.9 39.8L530.0 42.4L531.6 43.6L533.6 44.7L535.9 45.6L537.4 46.1L538.9 46.4L540.5 46.6L544.5 46.8L546.5 47.0L549.7 47.5L555.6 48.6L556.7 48.7L558.3 48.7L559.4 48.4L560.5 48.0L561.9 47.2L562.9 46.5L563.7 45.7L564.8 44.5L567.5 41.0L568.6 39.9L570.1 38.6L571.4 37.6L572.8 36.9L573.5 36.7L574.3 36.6L575.4 36.7L576.5 37.0L577.5 37.5L578.5 38.2L579.8 39.2L580.9 40.2L582.0 41.4L585.5 45.8L586.9 47.2L588.4 48.5L589.4 49.1L590.1 49.5L591.2 49.8L591.9 49.8L592.7 49.7L593.4 49.5L594.8 48.7L597.8 46.8L598.8 46.2L599.5 46.0L600.2 45.9L600.9 46.0L601.6 46.2L602.3 46.6L603.2 47.3L604.1 48.1L606.8 51.1L609.9 54.7L614.4 60.3L615.2 61.2L615.8 61.6L616.9 62.2L617.6 62.4L618.7 62.4L619.4 62.3L620.1 62.0L620.7 61.6L621.7 60.9L623.1 59.4L623.8 58.5L624.7 57.2L625.6 55.4L627.7 51.1L628.3 50.1L629.1 49.2L629.9 48.6L630.6 48.4L631.2 48.3L632.2 48.7L633.2 49.3L634.0 50.1L635.0 51.4L635.8 52.7L637.1 55.2L640.5 62.0L642.5 65.9L643.5 67.6L644.2 68.5L644.7 69.0L645.3 69.4L645.8 69.5L646.3 69.4L646.6 69.2L647.0 68.8L647.5 67.8L647.9 66.3L648.4 63.9L648.9 60.8L650.2 51.3L651.0 44.1L653.6 17.0L655.0 5.5L656.2 -12.9L657.2 -25.6L657.6 -28.6L657.8 -29.4L658.0 -29.6L658.1 -29.6L658.3 -29.3L658.5 -28.5L658.8 -25.4L659.8 -13.4L660.6 0.6L661.0 4.1L661.4 7.3L662.0 10.5L664.3 21.8L671.9 63.5L672.7 67.5L674.4 74.0L676.3 84.7" fill="none" stroke="#000" stroke-width="3" stroke-linejoin="round" stroke-linecap="butt"/>
<rect x="161.1" y="4.5" width="28.6" height="69.5" fill="#ee4a18" fill-opacity="0.3"/>
<rect x="208.1" y="4.5" width="3.7" height="69.5" fill="#ee4a18" fill-opacity="0.3"/>
<rect x="250.8" y="4.5" width="8.2" height="69.5" fill="#ee4a18" fill-opacity="0.3"/>
<rect x="285.4" y="4.5" width="22.6" height="69.5" fill="#3a40a5" fill-opacity="0.48"/>
<rect x="371.2" y="4.5" width="6.4" height="69.5" fill="#3a40a5" fill-opacity="0.48"/>
<rect x="391.7" y="4.5" width="14.3" height="69.5" fill="#ee4a18" fill-opacity="0.3"/>
<rect x="410.3" y="4.5" width="11.8" height="69.5" fill="#3a40a5" fill-opacity="0.48"/>
<rect x="471.6" y="4.5" width="12.0" height="69.5" fill="#ee4a18" fill-opacity="0.3"/>
<rect x="532.6" y="4.5" width="32.4" height="69.5" fill="#3a40a5" fill-opacity="0.48"/>
<rect x="585.9" y="4.5" width="14.3" height="69.5" fill="#3a40a5" fill-opacity="0.48"/>
<rect x="604.0" y="4.5" width="24.7" height="69.5" fill="#3a40a5" fill-opacity="0.48"/>
<rect x="673.4" y="4.5" width="4.4" height="69.5" fill="#3a40a5" fill-opacity="0.48"/>
</g>
<path d="M47.6 74.25H677.8" stroke="#fcefec" stroke-width="1"/>
<path d="M47.9 7.07V71.39M39.5 7.07H47.9M39.5 23.15H47.9M39.5 39.23H47.9M39.5 55.31H47.9M39.5 71.39H47.9M70.80 74.10H654.60M70.80 74.10V82.10M154.20 74.10V82.10M237.60 74.10V82.10M321.00 74.10V82.10M404.40 74.10V82.10M487.80 74.10V82.10M571.20 74.10V82.10M654.60 74.10V82.10M91.65 74.10V76.90M112.50 74.10V76.90M133.35 74.10V76.90M175.05 74.10V76.90M195.90 74.10V76.90M216.75 74.10V76.90M258.45 74.10V76.90M279.30 74.10V76.90M300.15 74.10V76.90M341.85 74.10V76.90M362.70 74.10V76.90M383.55 74.10V76.90M425.25 74.10V76.90M446.10 74.10V76.90M466.95 74.10V76.90M508.65 74.10V76.90M529.50 74.10V76.90M550.35 74.10V76.90M592.05 74.10V76.90M612.90 74.10V76.90M633.75 74.10V76.90" stroke="#000" stroke-width="1.3" fill="none" stroke-linecap="square"/>
<text x="35.3" y="11.87" text-anchor="end">1.0</text>
<text x="35.3" y="27.95" text-anchor="end">0.5</text>
<text x="35.3" y="44.03" text-anchor="end">0.0</text>
<text x="35.3" y="60.11" text-anchor="end">−0.5</text>
<text x="35.3" y="76.19" text-anchor="end">−1.0</text>
<text x="70.80" y="98.70" text-anchor="middle">7000</text>
<text x="154.20" y="98.70" text-anchor="middle">6000</text>
<text x="237.60" y="98.70" text-anchor="middle">5000</text>
<text x="321.00" y="98.70" text-anchor="middle">4000</text>
<text x="404.40" y="98.70" text-anchor="middle">3000</text>
<text x="487.80" y="98.70" text-anchor="middle">2000</text>
<text x="571.20" y="98.70" text-anchor="middle">1000</text>
<text x="654.60" y="98.70" text-anchor="middle">1 cal BC</text>
<text x="71.3" y="25.1" style="font-size:13.5px">Northern Italy</text>
</g>
<g transform="translate(0 210.28)">
<clipPath id="c2"><rect x="47.6" y="4.5" width="630.2" height="69.5"/></clipPath>
<rect x="156.2" y="4.5" width="34.0" height="69.5" fill="#fbd0c3"/>
<rect x="340.2" y="4.5" width="19.3" height="69.5" fill="#fbd0c3"/>
<rect x="391.2" y="4.5" width="14.8" height="69.5" fill="#fbd0c3"/>
<rect x="519.3" y="4.5" width="14.6" height="69.5" fill="#fbd0c3"/>
<path d="M47.6 7.07H677.8M47.6 23.15H677.8M47.6 39.23H677.8M47.6 55.31H677.8M47.6 71.39H677.8M70.80 4.5V74.0M154.20 4.5V74.0M237.60 4.5V74.0M321.00 4.5V74.0M404.40 4.5V74.0M487.80 4.5V74.0M571.20 4.5V74.0M654.60 4.5V74.0" stroke="#d3d3d3" stroke-width="1" stroke-dasharray="0.95 2.81" fill="none"/>
<g clip-path="url(#c2)">
<path d="M58.8 -2.8L60.1 1.0L60.8 2.9L61.6 4.3L62.6 5.5L64.2 6.7L67.9 9.2L69.3 10.0L70.3 10.5L71.1 10.7L71.9 10.9L73.0 11.0L74.2 10.9L77.8 10.4L81.8 10.3L83.4 10.1L84.9 9.7L86.3 8.9L87.2 8.2L88.3 7.0L89.2 5.7L90.1 4.4L90.8 2.9L91.4 1.4L92.8 -2.8" fill="none" stroke="#000" stroke-width="1.5" stroke-linejoin="round" stroke-linecap="butt" stroke-dasharray="4.9 4.9"/>
<path d="M112.9 -2.8L114.6 2.1L115.8 5.1L118.3 10.6L119.8 14.2L120.4 15.2L121.2 16.2L123.1 18.2L125.1 20.1L126.8 21.2L130.7 23.2L132.7 24.5L134.3 25.8L135.7 27.2L139.8 31.5L140.4 32.0L141.0 32.4L142.0 32.6L142.4 32.5L143.0 32.3L143.5 31.9L144.0 31.3L144.6 29.9L145.3 27.2L146.4 21.3L148.5 8.2L149.1 3.0L149.8 -3.8" fill="none" stroke="#000" stroke-width="1.5" stroke-linejoin="round" stroke-linecap="butt" stroke-dasharray="4.9 4.9"/>
<path d="M167.9 -2.6L168.3 1.0L168.8 3.3L169.4 5.2L170.1 7.0L171.5 9.5L173.1 11.8L175.5 15.0L178.1 18.0L180.1 20.0L183.6 22.6L185.1 23.9L193.6 32.5L196.2 34.9L197.7 36.2L199.4 37.3L201.6 38.2L203.9 38.9L206.3 39.3L208.2 39.3L210.6 39.0L215.3 37.8L220.6 36.2L222.2 35.9L223.3 35.8L224.9 36.0L226.3 36.6L230.9 39.1L233.8 40.4L235.7 40.9L236.9 41.0L237.6 40.9L238.7 40.7L240.2 40.0L242.5 38.5L249.0 33.8L250.3 33.0L251.8 32.5L252.6 32.4L253.8 32.4L257.7 33.0L258.9 33.0L259.7 32.9L261.2 32.5L265.3 30.9L267.9 30.0L271.4 29.2L274.6 28.7L277.4 28.7L283.4 29.2L285.8 29.3L288.6 29.2L294.5 28.7L297.7 28.6L301.3 28.8L304.5 29.2L307.2 29.9L309.5 30.7L311.2 31.6L312.9 32.7L317.6 37.0L319.5 38.5L321.1 39.7L322.1 40.3L323.2 40.7L324.3 40.9L325.1 40.8L326.2 40.5L327.5 39.8L328.8 38.8L330.1 37.3L331.8 35.1L334.7 30.3L336.2 27.9L338.1 25.3L339.6 23.5L340.8 22.5L341.8 21.8L342.5 21.5L343.2 21.3L344.4 21.2L345.1 21.3L345.9 21.5L346.6 21.7L347.7 22.2L350.0 23.8L353.1 26.3L356.4 29.2L358.9 31.8L360.5 33.6L367.6 42.3L369.2 44.1L370.6 45.5L372.4 47.0L373.7 47.9L374.4 48.2L375.2 48.4L376.3 48.4L377.0 48.2L377.7 47.9L379.0 47.0L380.4 45.6L381.6 44.0L383.0 41.7L384.7 38.5L387.1 33.4L390.2 26.0L391.1 24.2L392.1 22.5L393.6 20.2L394.9 18.7L395.5 18.2L396.1 17.9L397.1 17.7L398.1 17.9L399.1 18.5L400.1 19.6L401.0 20.9L402.3 23.4L404.8 29.3L406.2 32.2L408.6 36.8L410.3 39.5L411.5 41.1L412.7 42.1L414.0 43.0L415.1 43.3L416.2 43.5L417.4 43.4L418.5 43.0L419.9 42.4L421.7 41.4L423.3 40.3L428.5 35.9L431.5 33.8L432.8 33.0L434.3 32.4L435.4 32.0L436.6 31.9L437.7 32.0L438.5 32.1L439.6 32.6L440.6 33.2L442.0 34.5L445.2 38.1L446.4 39.1L447.4 39.8L448.8 40.5L450.3 41.1L451.8 41.5L453.0 41.7L455.0 41.8L456.2 41.6L457.3 41.3L459.2 40.5L460.9 39.6L465.7 36.7L467.8 35.6L469.3 35.1L470.9 34.7L472.4 34.5L474.0 34.4L476.0 34.5L477.6 34.7L485.0 36.6L489.3 37.6L491.2 38.0L494.8 38.4L496.4 38.6L498.3 39.2L501.6 40.6L503.1 41.1L504.7 41.4L506.2 41.5L507.3 41.3L508.0 41.0L508.6 40.6L509.8 39.5L510.9 37.9L512.0 35.8L513.0 33.6L513.7 31.7L515.8 24.8L517.4 20.7L518.5 18.1L519.4 16.4L520.1 15.4L520.7 14.9L521.2 14.4L521.9 14.1L522.9 13.9L523.5 14.0L524.2 14.4L524.7 14.8L525.5 15.7L526.6 17.3L528.2 20.1L531.5 26.5L532.9 28.9L533.8 30.2L534.9 31.4L536.1 32.4L537.1 33.0L537.8 33.3L538.5 33.4L539.3 33.4L540.4 33.2L548.0 30.7L549.6 30.3L551.1 30.1L552.7 30.0L554.3 30.0L555.9 30.3L557.8 30.7L560.9 31.6L566.1 33.6L568.0 34.3L570.3 34.8L575.4 35.8L577.3 36.3L578.8 37.0L580.9 38.2L583.1 39.8L584.6 41.2L587.5 44.5L588.7 45.5L589.6 46.2L590.3 46.6L591.0 46.9L591.8 47.1L592.9 47.1L593.6 47.0L594.6 46.5L595.6 45.8L596.8 44.8L597.9 43.6L604.0 36.3L606.7 33.3L608.7 31.3L610.3 30.0L611.9 28.9L613.3 28.3L614.1 28.2L614.8 28.1L616.0 28.3L617.1 28.7L618.1 29.2L619.4 30.2L621.2 31.8L625.6 36.4L627.4 38.0L629.3 39.4L631.0 40.4L632.8 41.3L634.3 41.8L635.5 41.9L636.6 41.9L637.4 41.7L638.1 41.4L639.5 40.6L641.0 39.4L642.1 38.2L643.1 36.9L646.6 31.6L647.3 30.7L648.2 29.9L649.1 29.3L650.2 28.9L650.9 28.8L652.0 29.0L652.8 29.3L653.8 29.8L657.4 32.3L658.8 33.0L660.3 33.6L662.2 34.3L664.1 34.9L668.4 35.8L669.9 36.2L671.8 36.9L673.6 37.8L674.9 38.7L675.9 39.9L680.1 46.2" fill="none" stroke="#000" stroke-width="1.5" stroke-linejoin="round" stroke-linecap="butt" stroke-dasharray="4.9 4.9"/>
<path d="M47.5 62.5L50.2 63.4L51.4 63.5L52.1 63.5L52.9 63.4L53.6 63.2L56.4 61.8L57.5 61.6L58.3 61.6L59.4 61.8L60.6 62.1L63.1 63.4L65.1 64.6L67.3 66.3L69.2 67.9L70.8 69.6L72.0 71.2L73.6 73.6L75.0 76.0L76.4 78.9" fill="none" stroke="#000" stroke-width="1.5" stroke-linejoin="round" stroke-linecap="butt" stroke-dasharray="4.9 4.9"/>
<path d="M96.5 80.1L97.6 76.7L98.3 74.0L99.7 65.3L100.7 61.0L102.1 55.6L103.5 51.4L104.4 49.2L105.3 47.4L106.3 45.7L107.2 44.4L108.0 43.5L109.0 42.8L110.0 42.4L111.1 42.2L112.2 42.3L113.3 42.6L114.4 43.1L115.6 44.1L116.4 44.9L117.4 46.2L121.0 51.5L121.9 52.8L122.7 53.7L123.6 54.5L124.5 55.3L128.4 58.0L130.7 59.7L132.8 61.5L135.1 63.7L138.1 67.0L142.5 72.6L143.2 73.5L144.4 75.5L144.8 76.0L145.2 76.4L145.8 76.5L146.3 76.4L146.8 76.0L147.2 75.4L147.5 74.7L147.8 73.6L148.1 72.5L148.7 66.9L150.7 55.9L152.0 47.2L154.2 31.3L155.0 26.2L155.7 23.1L156.1 21.5L156.5 20.4L157.0 19.3L157.6 18.3L158.4 17.5L159.3 16.8L160.4 16.4L161.1 16.2L161.9 16.3L163.0 16.5L163.7 16.8L164.7 17.4L165.6 18.1L167.1 19.5L172.3 24.5L175.0 26.8L177.4 28.3L182.7 31.1L186.4 33.5L194.7 39.7L198.7 43.0L200.6 44.5L203.5 46.6L205.6 47.8L207.1 48.4L208.2 48.7L209.4 48.8L210.6 48.7L212.1 48.5L214.9 48.0L221.1 46.5L222.7 46.3L223.8 46.4L225.0 46.6L226.5 47.2L231.0 49.7L233.8 51.2L235.3 51.8L236.8 52.2L237.5 52.2L238.3 52.1L239.7 51.6L240.7 51.0L244.0 48.7L248.1 46.1L249.8 45.2L250.9 44.8L251.7 44.6L253.3 44.4L257.6 44.8L259.6 44.7L261.5 44.2L265.6 42.8L269.1 41.7L271.8 41.0L274.2 40.6L275.7 40.5L277.3 40.5L282.9 41.1L285.7 41.1L288.5 40.8L294.8 39.7L296.4 39.5L298.4 39.4L301.6 39.5L304.7 39.8L307.9 40.5L310.5 41.4L312.7 42.3L314.4 43.3L319.9 47.3L322.9 49.3L324.0 49.8L324.7 50.1L325.8 50.2L326.6 50.1L327.7 49.7L329.0 48.9L330.2 47.9L331.5 46.4L333.4 43.8L336.5 38.7L338.3 36.1L340.4 33.1L341.9 31.3L343.1 30.2L344.4 29.4L345.5 29.0L346.6 28.9L347.4 28.9L348.5 29.2L349.6 29.6L350.6 30.2L353.9 32.5L357.6 35.6L359.3 37.2L361.0 39.0L362.6 40.8L364.3 43.0L366.6 46.2L369.9 51.7L371.3 53.6L372.2 54.4L372.8 54.9L374.2 55.7L374.9 55.9L375.7 56.0L376.8 55.9L377.5 55.7L378.3 55.4L379.6 54.6L381.0 53.3L382.5 51.4L384.0 49.0L386.0 45.1L387.4 42.2L390.6 35.3L391.9 32.8L393.4 30.0L394.5 28.4L395.2 27.5L396.1 26.8L396.7 26.6L397.0 26.6L397.6 26.7L398.5 27.2L399.3 28.0L400.3 29.7L401.4 31.8L403.8 37.8L405.1 40.7L407.0 44.6L408.5 47.0L409.7 48.5L411.2 49.8L412.9 50.9L414.8 51.5L416.3 51.8L417.5 51.7L418.6 51.5L420.1 50.9L421.9 50.0L423.5 48.9L428.2 45.1L431.2 43.1L432.6 42.4L434.0 41.7L435.2 41.4L436.3 41.3L437.1 41.3L438.2 41.6L439.3 42.0L440.4 42.6L441.9 43.8L445.5 47.0L446.4 47.7L447.8 48.5L449.2 49.2L450.7 49.8L452.2 50.3L453.4 50.5L454.6 50.6L455.8 50.6L457.0 50.5L458.1 50.2L459.6 49.7L461.1 49.1L462.5 48.4L465.6 46.6L467.8 45.6L469.0 45.3L470.5 45.0L472.1 44.9L473.7 44.9L475.7 45.0L477.3 45.3L483.4 47.0L488.1 48.2L491.2 48.8L496.8 49.5L499.1 50.1L504.9 51.7L506.0 51.9L507.2 51.9L507.9 51.8L508.6 51.5L509.3 51.2L510.2 50.5L511.9 48.8L513.3 46.8L514.1 45.4L514.8 44.0L517.5 36.9L520.0 31.0L521.2 28.5L522.0 27.1L522.6 26.2L523.4 25.6L524.0 25.4L524.6 25.4L525.1 25.7L525.7 26.2L526.1 26.8L529.1 31.5L531.8 36.0L533.4 38.2L534.5 39.4L535.4 40.2L536.3 40.9L537.0 41.3L538.1 41.6L538.8 41.8L540.0 41.7L541.1 41.5L542.7 41.0L544.5 40.3L549.7 38.1L551.6 37.6L552.8 37.5L554.3 37.5L555.9 37.8L557.5 38.1L560.9 39.2L565.8 41.0L567.6 41.7L570.0 42.3L574.3 43.0L575.9 43.4L577.4 43.9L579.2 44.7L581.2 45.9L583.4 47.6L584.9 49.0L588.1 52.6L590.1 54.5L591.4 55.4L592.4 55.8L593.1 55.8L594.1 55.5L595.1 54.9L596.0 54.2L598.2 51.8L602.0 47.2L603.8 45.1L606.6 42.2L609.0 40.1L610.9 38.6L612.2 37.8L613.7 37.3L614.8 37.2L615.6 37.3L616.7 37.6L617.7 38.1L619.1 39.0L621.2 40.7L624.3 43.8L625.8 45.2L627.4 46.4L629.4 47.8L631.1 48.8L632.9 49.6L634.4 50.1L635.9 50.4L637.1 50.3L638.2 50.0L639.3 49.5L640.6 48.6L641.7 47.5L643.0 46.0L643.9 44.7L646.3 41.0L647.0 40.1L647.8 39.2L648.7 38.5L649.7 37.9L650.8 37.7L651.9 37.8L652.6 38.0L653.3 38.4L657.0 40.8L658.0 41.3L659.1 41.7L661.1 42.3L663.0 42.8L668.9 43.5L670.4 44.0L671.9 44.7L672.9 45.3L674.1 46.3L675.9 47.9L677.6 50.1L680.1 53.7" fill="none" stroke="#000" stroke-width="1.5" stroke-linejoin="round" stroke-linecap="butt" stroke-dasharray="4.9 4.9"/>
<path d="M47.5 23.6L49.5 23.5L51.0 23.7L51.8 24.0L52.8 24.5L54.4 25.7L55.9 27.0L57.3 28.5L61.9 34.0L65.6 38.2L67.0 39.6L68.2 40.6L69.3 41.2L70.4 41.5L71.5 41.8L75.5 42.3L76.6 42.6L78.1 43.2L80.2 44.4L82.4 46.1L83.6 47.2L85.7 49.5L86.6 50.2L87.5 50.6L87.8 50.6L88.4 50.5L89.0 50.2L89.5 49.7L89.9 49.1L90.5 48.1L91.8 45.2L93.1 41.4L94.4 36.4L99.0 16.9L99.8 13.8L100.6 11.5L101.3 10.1L102.1 8.7L103.0 7.4L103.8 6.5L104.6 5.8L105.3 5.6L105.9 5.5L106.6 5.6L107.5 6.2L108.3 6.9L109.3 8.2L110.2 9.5L111.3 12.1L114.4 19.9L116.0 23.6L117.2 26.1L118.4 28.1L119.7 30.2L120.9 31.8L122.7 33.9L126.9 38.2L130.3 41.6L134.8 45.6L135.9 46.7L138.0 49.1L139.1 50.2L140.1 51.0L141.1 51.5L142.1 51.8L142.8 51.8L143.4 51.5L144.3 50.9L144.7 50.3L145.3 49.3L146.0 47.9L146.5 46.3L147.5 42.5L148.7 35.8L151.7 16.4L153.6 4.6L155.0 -5.0" fill="none" stroke="#000" stroke-width="3" stroke-linejoin="round" stroke-linecap="butt"/>
<path d="M163.0 -2.6L163.5 1.0L163.9 3.3L164.4 5.2L165.1 7.1L166.9 10.7L168.9 14.1L170.3 16.1L172.1 18.2L173.6 19.6L175.1 20.8L180.5 24.3L182.4 25.7L184.3 27.2L189.1 31.5L194.8 37.1L196.6 38.7L198.2 39.9L200.9 41.6L203.7 43.1L205.9 43.9L207.1 44.2L208.3 44.4L209.5 44.5L210.7 44.4L213.4 44.0L216.1 43.3L221.0 41.7L222.6 41.4L223.8 41.4L224.9 41.6L226.4 42.1L230.9 44.6L232.7 45.5L234.2 46.1L236.1 46.7L237.2 46.7L238.0 46.7L239.5 46.3L240.9 45.6L244.3 43.4L249.2 39.9L250.5 39.2L251.7 38.9L252.4 38.7L253.6 38.7L257.5 39.2L258.7 39.3L259.9 39.1L261.4 38.8L265.9 37.1L269.0 36.2L272.1 35.4L274.5 35.1L277.2 34.9L282.8 35.3L285.6 35.3L288.4 35.0L294.3 33.9L295.9 33.8L297.5 33.7L300.3 33.9L303.8 34.5L308.5 35.7L310.0 36.1L311.5 36.7L313.3 37.6L314.9 38.7L320.8 43.6L322.7 45.0L323.7 45.5L324.4 45.8L325.1 45.9L325.9 45.8L327.0 45.5L328.3 44.7L329.5 43.6L330.8 42.1L332.6 39.5L335.7 34.4L337.2 32.0L339.3 29.1L340.9 27.3L342.0 26.2L343.4 25.4L344.5 25.1L345.6 25.1L346.3 25.2L347.5 25.5L348.5 26.0L349.6 26.6L352.5 28.7L355.9 31.5L358.5 33.9L360.9 36.6L364.9 41.6L369.2 47.4L371.0 49.6L372.5 50.9L373.8 51.7L374.5 52.0L375.2 52.2L376.4 52.2L377.1 52.0L377.8 51.7L379.1 50.9L380.0 50.1L380.8 49.2L382.3 47.3L383.9 44.6L386.0 40.7L387.3 37.8L390.3 30.8L391.2 29.0L392.4 26.9L393.7 24.9L394.9 23.4L395.5 22.9L396.1 22.5L397.0 22.2L397.3 22.3L398.0 22.5L398.8 23.1L399.6 24.0L400.4 25.3L401.6 27.8L404.1 33.7L405.6 37.0L407.6 40.9L409.1 43.3L410.3 44.8L411.5 45.8L412.9 46.6L414.4 47.1L416.0 47.3L417.1 47.2L418.7 46.9L420.2 46.4L421.6 45.6L423.3 44.6L424.5 43.6L428.3 40.6L430.9 38.8L432.3 38.1L433.8 37.5L435.3 37.1L436.5 37.0L437.7 37.0L438.4 37.2L439.5 37.6L440.5 38.2L442.1 39.4L445.2 42.5L446.5 43.4L447.5 44.1L448.9 44.8L450.4 45.3L452.0 45.8L453.1 46.0L455.1 46.0L456.3 45.9L457.4 45.6L458.9 45.1L460.8 44.3L465.7 41.6L467.5 40.7L468.6 40.4L470.2 40.0L471.7 39.9L473.3 39.8L475.3 40.0L476.9 40.2L478.8 40.7L483.8 42.1L488.5 43.2L491.3 43.7L496.4 44.4L498.4 44.9L503.0 46.1L504.9 46.5L506.1 46.5L506.9 46.4L507.6 46.2L508.3 45.9L509.2 45.2L510.6 43.8L512.3 41.6L513.2 39.8L514.2 37.7L517.2 29.4L518.9 25.3L520.0 22.7L520.8 21.4L521.5 20.5L522.3 19.9L522.9 19.7L523.5 19.8L524.1 20.1L525.0 20.8L525.8 21.6L527.0 23.2L528.3 25.2L531.6 31.2L533.1 33.5L534.1 34.8L535.2 35.9L536.1 36.7L537.1 37.3L537.8 37.5L538.5 37.7L539.3 37.7L540.4 37.5L542.3 36.9L548.7 34.5L550.2 34.1L551.4 33.8L552.6 33.7L554.1 33.8L555.7 34.0L558.1 34.5L561.1 35.4L566.0 37.2L568.3 37.9L570.3 38.4L574.2 39.2L576.1 39.7L577.6 40.2L579.1 40.9L581.5 42.3L583.3 43.8L584.7 45.2L587.6 48.6L589.0 49.9L590.6 51.0L591.3 51.4L592.0 51.5L592.8 51.6L593.8 51.4L594.8 50.8L596.0 49.8L598.2 47.5L602.3 42.6L604.4 40.2L607.2 37.3L609.2 35.4L610.8 34.2L612.2 33.3L613.6 32.8L614.7 32.7L615.5 32.7L616.6 33.0L617.7 33.5L619.0 34.4L621.1 36.2L624.5 39.6L625.9 41.0L627.8 42.5L629.7 43.9L631.5 44.9L632.9 45.6L634.4 46.0L635.6 46.2L636.7 46.1L637.8 45.8L638.9 45.3L640.2 44.5L641.4 43.4L642.7 41.9L643.9 40.3L646.2 36.6L646.9 35.6L647.7 34.7L648.6 34.0L649.6 33.4L650.7 33.2L651.8 33.3L652.5 33.5L653.2 33.8L656.8 36.3L657.8 36.9L658.9 37.4L660.4 37.9L662.0 38.3L669.0 39.7L670.9 40.4L672.6 41.3L674.6 42.7L676.0 44.1L677.4 46.0L680.1 50.0" fill="none" stroke="#000" stroke-width="3" stroke-linejoin="round" stroke-linecap="butt"/>
<rect x="156.2" y="4.5" width="34.0" height="69.5" fill="#ee4a18" fill-opacity="0.3"/>
<rect x="207.1" y="4.5" width="2.4" height="69.5" fill="#3a40a5" fill-opacity="0.48"/>
<rect x="233.9" y="4.5" width="6.8" height="69.5" fill="#3a40a5" fill-opacity="0.48"/>
<rect x="321.1" y="4.5" width="7.0" height="69.5" fill="#3a40a5" fill-opacity="0.48"/>
<rect x="340.2" y="4.5" width="19.3" height="69.5" fill="#ee4a18" fill-opacity="0.3"/>
<rect x="369.4" y="4.5" width="14.5" height="69.5" fill="#3a40a5" fill-opacity="0.48"/>
<rect x="391.2" y="4.5" width="14.8" height="69.5" fill="#ee4a18" fill-opacity="0.3"/>
<rect x="410.3" y="4.5" width="14.5" height="69.5" fill="#3a40a5" fill-opacity="0.48"/>
<rect x="449.2" y="4.5" width="9.5" height="69.5" fill="#3a40a5" fill-opacity="0.48"/>
<rect x="505.2" y="4.5" width="4.8" height="69.5" fill="#3a40a5" fill-opacity="0.48"/>
<rect x="519.3" y="4.5" width="14.6" height="69.5" fill="#ee4a18" fill-opacity="0.3"/>
<rect x="585.1" y="4.5" width="14.1" height="69.5" fill="#3a40a5" fill-opacity="0.48"/>
<rect x="633.4" y="4.5" width="9.5" height="69.5" fill="#3a40a5" fill-opacity="0.48"/>
<rect x="676.8" y="4.5" width="1.0" height="69.5" fill="#3a40a5" fill-opacity="0.48"/>
</g>
<path d="M47.6 74.25H677.8" stroke="#fcefec" stroke-width="1"/>
<path d="M47.9 7.07V71.39M39.5 7.07H47.9M39.5 23.15H47.9M39.5 39.23H47.9M39.5 55.31H47.9M39.5 71.39H47.9M70.80 74.10H654.60M70.80 74.10V82.10M154.20 74.10V82.10M237.60 74.10V82.10M321.00 74.10V82.10M404.40 74.10V82.10M487.80 74.10V82.10M571.20 74.10V82.10M654.60 74.10V82.10M91.65 74.10V76.90M112.50 74.10V76.90M133.35 74.10V76.90M175.05 74.10V76.90M195.90 74.10V76.90M216.75 74.10V76.90M258.45 74.10V76.90M279.30 74.10V76.90M300.15 74.10V76.90M341.85 74.10V76.90M362.70 74.10V76.90M383.55 74.10V76.90M425.25 74.10V76.90M446.10 74.10V76.90M466.95 74.10V76.90M508.65 74.10V76.90M529.50 74.10V76.90M550.35 74.10V76.90M592.05 74.10V76.90M612.90 74.10V76.90M633.75 74.10V76.90" stroke="#000" stroke-width="1.3" fill="none" stroke-linecap="square"/>
<text x="35.3" y="11.87" text-anchor="end">1.0</text>
<text x="35.3" y="27.95" text-anchor="end">0.5</text>
<text x="35.3" y="44.03" text-anchor="end">0.0</text>
<text x="35.3" y="60.11" text-anchor="end">−0.5</text>
<text x="35.3" y="76.19" text-anchor="end">−1.0</text>
<text x="70.80" y="98.70" text-anchor="middle">7000</text>
<text x="154.20" y="98.70" text-anchor="middle">6000</text>
<text x="237.60" y="98.70" text-anchor="middle">5000</text>
<text x="321.00" y="98.70" text-anchor="middle">4000</text>
<text x="404.40" y="98.70" text-anchor="middle">3000</text>
<text x="487.80" y="98.70" text-anchor="middle">2000</text>
<text x="571.20" y="98.70" text-anchor="middle">1000</text>
<text x="654.60" y="98.70" text-anchor="middle">1 cal BC</text>
<text x="71.3" y="25.1" style="font-size:13.5px">Central Italy</text>
</g>
<g transform="translate(0 315.42)">
<clipPath id="c3"><rect x="47.6" y="4.5" width="630.2" height="69.5"/></clipPath>
<rect x="146.8" y="4.5" width="35.4" height="69.5" fill="#fbd0c3"/>
<rect x="256.3" y="4.5" width="1.7" height="69.5" fill="#fbd0c3"/>
<rect x="392.7" y="4.5" width="15.0" height="69.5" fill="#fbd0c3"/>
<rect x="475.1" y="4.5" width="22.6" height="69.5" fill="#fbd0c3"/>
<rect x="665.0" y="4.5" width="12.8" height="69.5" fill="#fbd0c3"/>
<path d="M47.6 7.07H677.8M47.6 23.15H677.8M47.6 39.23H677.8M47.6 55.31H677.8M47.6 71.39H677.8M70.80 4.5V74.0M154.20 4.5V74.0M237.60 4.5V74.0M321.00 4.5V74.0M404.40 4.5V74.0M487.80 4.5V74.0M571.20 4.5V74.0M654.60 4.5V74.0" stroke="#d3d3d3" stroke-width="1" stroke-dasharray="0.95 2.81" fill="none"/>
<g clip-path="url(#c3)">
<path d="M54.2 -0.4L54.8 3.1L55.5 5.8L56.5 8.5L59.9 17.5L61.1 20.0L62.6 22.4L63.5 23.5L64.1 23.9L64.6 24.0L64.9 24.0L65.4 23.8L66.1 23.1L67.0 21.4L67.9 19.2L69.3 15.0L72.1 5.8L72.7 3.5L73.3 0.7" fill="none" stroke="#000" stroke-width="1.5" stroke-linejoin="round" stroke-linecap="butt" stroke-dasharray="4.9 4.9"/>
<path d="M110.7 -0.4L111.7 4.3L113.0 8.5L115.1 14.1L115.8 15.5L116.8 17.3L118.1 19.3L119.5 21.2L121.1 23.0L122.5 24.4L124.0 25.7L125.6 26.9L127.0 27.7L128.1 28.1L128.8 28.2L130.0 28.3L131.2 28.2L132.3 28.0L133.5 27.6L134.5 27.1L136.2 26.0L137.1 25.2L138.2 24.1L140.1 21.5L141.5 19.1L144.2 14.2L145.1 12.9L145.8 12.0L147.3 10.6L148.7 9.9L150.1 9.4L150.9 9.3L151.7 9.4L152.8 9.6L153.9 10.0L154.9 10.6L156.3 11.4L158.5 13.2L167.9 21.2L171.3 24.0L177.2 28.2L179.8 30.0L182.6 31.6L189.2 35.3L196.0 38.7L198.2 39.6L202.3 40.4L205.3 41.4L207.8 42.6L213.7 46.0L215.5 46.8L217.0 47.4L218.1 47.6L219.3 47.6L220.4 47.3L221.4 46.7L222.3 46.0L223.8 44.7L229.6 39.2L230.9 38.3L231.9 37.8L233.4 37.4L235.0 37.2L237.0 37.3L240.6 37.6L241.7 37.6L242.9 37.4L243.9 37.0L244.9 36.3L245.7 35.5L249.9 30.2L251.8 28.1L253.5 26.4L254.7 25.4L255.7 24.8L256.8 24.5L257.9 24.4L259.4 24.7L263.5 26.1L269.0 27.4L272.1 28.2L273.6 28.8L274.9 29.5L276.1 30.5L277.3 31.7L280.0 35.1L282.6 38.7L286.4 44.8L287.9 46.7L289.0 47.8L290.2 48.8L291.2 49.3L292.3 49.5L293.4 49.4L294.1 49.1L294.7 48.7L295.4 48.3L296.2 47.4L297.3 45.8L298.3 44.1L299.2 41.9L301.8 34.3L302.8 31.7L303.9 29.1L305.3 26.2L306.9 23.5L308.5 21.2L309.3 20.4L309.9 19.9L310.6 19.7L311.3 19.6L312.3 19.7L313.3 20.3L314.4 21.3L315.7 22.8L316.7 24.1L317.8 25.8L321.7 32.7L322.9 34.3L324.0 35.5L325.5 36.8L326.9 37.6L328.7 38.3L330.7 38.6L332.6 38.7L333.8 38.5L335.0 38.3L336.9 37.7L339.0 36.6L341.2 34.9L344.3 32.4L346.0 30.7L348.8 27.8L349.9 26.7L351.2 25.8L352.2 25.2L353.7 24.6L355.2 24.3L356.4 24.4L357.9 24.8L358.9 25.4L360.1 26.4L361.2 27.5L362.4 29.1L364.5 32.5L369.6 42.0L370.9 44.1L371.8 45.3L372.7 46.1L373.3 46.6L374.0 46.9L374.7 47.1L375.4 47.2L376.2 47.2L376.9 47.0L377.6 46.7L378.3 46.3L378.9 45.9L379.9 44.7L380.5 43.6L381.0 42.6L381.9 39.9L383.3 35.3L385.3 27.6L388.6 13.2L389.4 10.5L390.1 8.6L391.1 6.5L391.8 5.4L392.5 4.5L393.3 3.7L393.9 3.3L394.6 3.0L395.3 3.0L396.4 3.1L397.0 3.4L397.7 3.9L398.8 5.0L399.7 6.3L400.7 8.0L401.5 9.8L405.2 19.5L407.1 23.9L408.7 27.1L410.2 29.5L411.9 31.8L413.8 33.8L415.6 35.3L417.3 36.3L418.8 36.8L420.4 37.1L422.4 37.2L424.0 37.1L425.5 36.8L431.7 35.3L433.3 35.0L434.9 34.9L436.4 35.2L437.9 35.7L439.6 36.7L441.5 38.2L444.6 40.7L446.2 41.9L448.2 43.2L450.3 44.3L453.2 45.6L456.6 46.9L457.7 47.2L458.5 47.3L459.3 47.3L460.0 47.2L460.7 46.9L461.4 46.6L462.0 46.1L462.9 45.3L463.6 44.4L464.3 43.4L465.5 40.9L466.6 37.9L467.8 33.6L469.8 25.1L471.8 15.3L472.7 11.8L473.5 10.0L473.9 9.3L474.3 8.8L474.9 8.4L475.5 8.1L476.5 8.2L477.2 8.4L477.9 8.7L478.9 9.4L480.1 10.4L482.1 12.3L486.6 16.9L488.9 19.1L500.1 28.8L501.4 29.8L502.4 30.4L503.4 31.0L504.5 31.4L506.1 31.9L507.6 32.2L509.6 32.5L511.2 32.7L513.2 32.7L518.7 32.3L521.1 32.2L523.1 32.3L525.1 32.7L527.4 33.4L529.5 34.4L531.2 35.5L534.8 38.0L536.2 38.8L538.0 39.7L539.5 40.3L540.6 40.6L542.1 41.0L543.3 41.1L544.9 41.0L546.1 40.8L547.2 40.5L548.3 40.1L550.1 39.1L553.0 37.0L554.7 35.9L556.4 35.0L557.9 34.3L559.0 34.0L560.1 33.8L560.9 33.7L562.1 33.9L563.6 34.4L566.8 35.9L569.4 36.9L574.0 38.3L578.7 39.5L579.8 39.9L580.5 40.3L581.4 40.9L582.6 42.0L586.4 46.6L588.8 49.3L590.0 50.3L591.0 50.6L592.0 50.6L593.0 50.2L593.8 49.5L594.5 48.6L595.1 47.5L595.6 46.5L597.4 42.0L598.6 39.5L599.6 37.8L600.7 36.1L601.7 34.8L602.4 33.9L603.3 33.1L604.0 32.7L605.4 32.1L606.4 31.9L607.1 31.8L607.7 31.9L608.2 32.1L608.7 32.5L609.3 33.3L610.2 35.0L611.2 37.2L612.6 41.0L614.1 45.9L616.2 53.6L618.5 64.2L622.5 81.3" fill="none" stroke="#000" stroke-width="1.5" stroke-linejoin="round" stroke-linecap="butt" stroke-dasharray="4.9 4.9"/>
<path d="M639.2 83.7L639.9 57.2L640.5 42.4L641.7 21.2L642.4 11.3L643.0 3.7L643.5 -3.9" fill="none" stroke="#000" stroke-width="1.5" stroke-linejoin="round" stroke-linecap="butt" stroke-dasharray="4.9 4.9"/>
<path d="M47.0 58.0L48.1 57.5L49.2 57.2L50.8 57.0L51.5 57.1L52.7 57.4L53.4 57.7L54.4 58.2L55.7 59.2L56.8 60.3L58.3 62.2L61.4 66.3L63.3 68.4L64.7 69.7L65.4 70.1L66.1 70.4L67.2 70.6L68.0 70.6L68.7 70.5L69.9 70.2L72.5 69.2L73.6 68.9L75.6 68.6L77.2 68.5L78.7 68.7L80.2 69.1L81.7 69.8L84.1 71.1L84.8 71.4L85.9 71.5L86.5 71.4L87.2 71.1L87.9 70.7L90.0 69.0L92.6 67.2L93.5 66.4L94.5 65.2L95.6 63.5L97.0 60.7L100.9 51.9L102.7 48.3L103.9 46.2L105.1 44.6L106.1 43.4L107.0 42.6L108.0 42.0L109.1 41.7L110.2 41.6L111.7 41.8L114.8 42.8L118.1 44.2L120.2 45.3L124.2 47.9L125.3 48.4L126.8 49.0L129.1 49.6L131.1 49.8L132.3 49.8L133.1 49.7L133.8 49.5L134.9 49.1L136.4 48.4L138.0 47.2L139.3 45.8L140.5 44.2L141.6 42.5L142.9 40.0L145.0 35.7L148.0 29.6L149.0 27.9L150.1 26.2L151.4 24.7L152.6 23.8L153.3 23.4L154.0 23.1L155.1 23.0L155.8 23.0L156.9 23.4L159.0 24.5L161.3 26.1L166.1 29.7L170.1 32.4L173.1 34.4L175.5 35.9L178.0 37.1L183.2 39.2L185.7 40.4L198.8 47.2L200.7 48.0L204.5 49.2L206.0 49.8L208.0 51.0L211.8 53.9L213.8 55.3L215.9 56.4L217.0 56.8L217.7 57.0L218.9 57.1L219.6 57.1L220.4 56.9L221.4 56.4L223.4 55.0L229.5 49.9L230.8 49.0L232.3 48.4L233.8 48.0L235.8 47.9L238.2 48.0L240.9 48.5L242.1 48.6L243.2 48.5L244.3 48.1L245.3 47.5L246.4 46.5L250.2 42.4L252.7 39.8L254.2 38.4L255.1 37.7L255.8 37.3L256.9 36.9L257.6 36.8L258.4 36.8L259.6 36.9L263.4 37.9L271.7 39.5L273.6 40.1L274.9 40.9L276.1 41.9L277.7 43.7L285.5 54.8L287.8 57.6L289.2 59.0L290.4 60.0L291.1 60.4L291.8 60.6L292.9 60.8L294.0 60.6L294.7 60.3L295.3 59.9L296.5 58.9L297.6 57.7L298.6 56.4L299.4 55.1L302.9 48.8L305.0 45.4L306.3 43.3L307.2 42.1L308.3 41.0L309.3 40.3L310.3 39.8L311.5 39.5L312.6 39.5L313.7 39.8L315.1 40.5L316.3 41.4L317.4 42.6L321.5 48.0L322.6 49.2L323.8 50.3L325.4 51.4L326.8 52.1L328.3 52.5L330.3 52.7L331.9 52.6L333.8 52.2L335.7 51.6L337.9 50.6L340.6 48.9L343.5 46.8L345.7 45.0L349.1 41.7L350.7 40.5L351.7 39.9L352.8 39.5L354.0 39.3L355.6 39.3L357.5 39.5L359.0 40.0L360.4 40.8L361.5 41.8L362.7 43.4L363.9 45.5L369.4 56.6L370.6 58.7L371.7 60.3L373.2 62.2L374.4 63.2L375.0 63.6L375.7 63.9L376.5 64.1L377.2 64.1L377.9 63.9L378.6 63.7L379.3 63.3L380.1 62.5L380.9 61.6L381.6 60.6L383.0 58.2L383.8 56.4L384.8 53.8L387.0 47.7L388.1 43.9L390.5 35.0L391.3 32.7L392.1 30.5L393.6 27.2L394.9 24.8L395.7 23.9L396.2 23.4L396.8 23.1L397.4 22.9L397.7 23.0L398.3 23.2L399.2 23.8L400.3 24.9L401.6 26.4L403.2 28.7L404.7 31.0L405.9 33.1L408.5 38.1L409.9 40.5L411.1 42.1L412.5 43.6L413.9 44.9L415.2 45.9L416.9 46.9L418.4 47.4L420.0 47.7L421.9 47.8L423.9 47.7L426.3 47.4L429.1 46.8L432.9 45.8L434.5 45.5L435.7 45.5L436.4 45.6L437.2 45.7L438.3 46.1L439.7 46.9L441.2 48.2L442.5 49.7L445.0 52.8L446.5 54.6L449.0 57.2L451.6 59.7L453.5 61.3L455.1 62.4L456.8 63.4L458.3 64.0L459.4 64.2L460.2 64.2L460.9 64.0L462.0 63.6L462.9 63.0L463.8 62.2L464.5 61.3L465.4 59.9L466.3 58.1L467.0 56.3L471.1 42.9L472.2 39.5L473.5 36.5L474.1 35.5L474.7 34.5L475.5 33.6L476.7 32.5L477.9 31.6L479.0 31.0L480.1 30.5L481.2 30.1L482.3 29.9L483.5 30.0L484.7 30.2L486.2 30.7L490.2 32.5L494.3 34.0L495.7 34.7L496.7 35.3L498.0 36.2L501.2 39.3L502.7 40.5L504.4 41.5L506.7 42.2L508.7 42.5L510.2 42.6L511.3 42.4L513.5 41.8L514.7 41.6L518.3 41.2L521.4 41.0L523.0 41.1L524.2 41.3L526.1 41.9L528.6 43.2L530.6 44.4L534.9 47.4L538.1 49.1L539.5 49.7L541.0 50.3L542.6 50.6L544.2 50.8L545.4 50.9L546.5 50.8L548.5 50.4L550.3 49.6L554.5 47.3L557.1 46.2L558.2 45.8L559.4 45.6L560.5 45.5L561.3 45.6L562.5 45.8L563.6 46.2L573.1 50.4L578.7 52.5L579.7 53.1L580.4 53.5L581.0 54.0L581.8 54.9L582.6 56.2L584.7 60.1L587.0 63.9L588.4 66.2L589.8 68.2L591.0 69.8L592.1 71.0L595.2 73.5L596.3 74.6L597.6 76.5L599.7 80.0" fill="none" stroke="#000" stroke-width="1.5" stroke-linejoin="round" stroke-linecap="butt" stroke-dasharray="4.9 4.9"/>
<path d="M656.9 81.3L657.0 71.3L657.5 46.9L658.5 20.0" fill="none" stroke="#000" stroke-width="1.5" stroke-linejoin="round" stroke-linecap="butt" stroke-dasharray="4.9 4.9"/>
<path d="M47.0 27.6L47.7 26.7L48.5 25.9L49.1 25.5L49.8 25.2L50.5 25.1L51.1 25.2L51.8 25.5L52.7 26.2L53.9 27.7L55.1 29.8L58.9 38.6L60.7 42.2L61.9 44.3L62.8 45.5L63.9 46.6L64.8 47.1L65.5 47.2L65.8 47.2L66.4 47.0L67.3 46.4L67.9 45.9L68.6 44.9L69.6 42.8L71.8 36.8L72.4 35.3L73.1 33.9L73.9 32.5L74.7 31.6L75.5 30.8L76.5 30.2L77.6 29.9L78.8 29.7L79.9 29.8L81.1 30.0L82.1 30.5L83.4 31.5L84.2 32.3L86.6 34.9L87.5 35.7L88.1 36.1L89.2 36.4L89.8 36.4L90.5 36.3L91.4 35.7L92.0 35.2L92.4 34.5L93.2 33.2L96.7 24.7L97.8 22.5L98.5 21.1L99.4 19.8L100.5 18.6L101.4 17.9L102.4 17.4L103.1 17.2L103.9 17.1L104.6 17.1L105.4 17.3L106.1 17.6L107.1 18.1L108.7 19.3L109.8 20.5L110.8 21.7L115.0 28.0L116.4 30.0L120.6 34.8L122.1 36.1L124.0 37.4L126.5 38.7L127.7 39.1L128.8 39.4L130.0 39.6L130.8 39.6L131.9 39.5L132.7 39.4L133.5 39.1L134.5 38.6L136.2 37.6L138.0 36.0L139.3 34.5L140.5 32.9L145.7 23.5L147.0 21.4L147.9 20.1L149.0 18.9L150.2 18.0L150.9 17.7L151.6 17.5L152.7 17.5L153.5 17.6L154.6 18.0L156.6 19.2L159.2 21.0L164.6 25.2L167.5 27.3L171.2 29.8L174.3 31.6L197.9 43.4L200.5 44.4L204.7 45.6L206.6 46.3L208.3 47.3L211.9 49.9L213.6 50.9L215.7 52.0L217.2 52.5L218.4 52.7L219.1 52.6L220.2 52.4L221.3 51.8L222.5 50.9L229.2 45.1L230.8 44.0L232.2 43.4L234.2 42.9L236.5 42.8L238.5 43.0L241.2 43.6L242.4 43.6L243.5 43.4L244.2 43.1L245.1 42.4L245.9 41.6L250.1 36.2L252.5 33.6L253.9 32.2L254.8 31.4L255.8 30.8L256.9 30.4L258.0 30.4L259.5 30.6L263.3 31.8L268.0 32.9L270.3 33.5L271.8 34.0L272.9 34.5L274.6 35.5L275.5 36.3L276.7 37.4L279.0 40.1L282.2 44.3L286.3 50.2L288.0 52.4L289.2 53.5L290.4 54.4L291.5 54.8L292.6 55.0L293.7 54.9L294.4 54.6L295.0 54.2L296.2 53.2L297.5 51.7L298.3 50.3L299.3 48.6L301.9 42.3L302.9 40.1L304.2 37.6L305.4 35.6L306.7 33.5L307.9 32.0L309.1 31.0L309.8 30.6L310.5 30.2L311.5 30.0L312.6 30.1L313.7 30.5L314.9 31.4L316.0 32.6L317.3 34.1L320.6 39.1L321.8 40.7L323.1 42.2L324.3 43.2L326.0 44.3L327.5 44.9L329.0 45.4L330.9 45.6L332.9 45.6L334.9 45.3L336.4 44.9L338.3 44.1L340.3 42.9L343.2 40.8L345.7 38.7L349.6 35.3L351.5 33.8L352.8 33.1L353.9 32.6L355.1 32.4L356.2 32.5L357.8 32.8L359.2 33.5L360.4 34.4L361.6 35.5L362.8 37.1L364.0 39.1L369.5 49.4L370.5 51.1L371.7 52.7L372.6 54.0L373.8 55.0L374.4 55.4L375.1 55.7L376.2 55.8L376.9 55.6L377.6 55.4L378.2 55.0L379.1 54.2L379.9 53.3L380.6 52.3L381.4 50.9L382.1 49.5L383.7 45.4L386.1 38.2L387.5 33.6L390.4 22.8L392.1 17.9L393.3 14.9L394.4 12.8L394.8 12.2L395.3 11.7L395.9 11.4L396.5 11.2L397.0 11.4L397.8 12.0L398.5 12.8L399.1 13.8L400.2 16.0L402.7 21.9L404.0 24.8L406.7 30.2L408.7 33.6L409.8 35.3L411.0 36.9L412.4 38.3L413.7 39.3L415.7 40.5L417.5 41.4L419.4 41.9L421.8 42.2L423.4 42.2L425.4 41.9L432.0 40.3L433.5 40.0L434.7 39.9L435.5 40.0L437.0 40.3L437.7 40.6L438.8 41.2L440.7 42.6L442.2 44.0L446.4 48.2L448.8 50.4L451.0 52.1L452.6 53.3L454.3 54.3L455.7 55.1L457.1 55.7L458.3 56.0L459.0 56.0L459.8 56.0L460.8 55.6L461.8 55.1L462.7 54.3L463.4 53.4L464.3 52.0L465.6 49.5L466.7 46.6L471.5 29.2L472.3 26.9L473.0 25.1L473.5 24.0L474.1 23.0L474.6 22.4L475.2 21.9L475.8 21.6L476.5 21.3L477.3 21.2L478.0 21.3L479.5 21.7L481.3 22.5L484.9 24.4L490.4 27.6L495.4 30.1L496.7 31.0L497.7 31.7L500.8 34.8L502.0 35.8L503.4 36.6L504.1 36.9L505.2 37.3L507.6 37.6L509.9 37.7L515.8 37.0L521.0 36.8L523.4 36.9L525.4 37.2L527.3 37.7L529.5 38.7L531.2 39.7L535.5 42.7L537.2 43.6L538.6 44.4L540.1 45.0L541.3 45.3L542.8 45.6L544.0 45.7L545.2 45.7L546.4 45.6L547.5 45.4L548.7 45.0L550.1 44.3L554.6 41.8L556.8 40.8L558.3 40.3L559.5 40.0L560.6 40.0L561.8 40.1L562.9 40.4L567.7 42.5L572.1 44.4L574.8 45.3L578.6 46.4L579.7 46.8L580.7 47.4L581.6 48.2L582.7 49.3L586.1 53.8L589.4 57.8L590.2 58.6L591.1 59.4L591.8 59.8L592.4 60.0L593.5 60.1L594.1 59.9L594.8 59.5L595.7 58.8L597.7 56.9L598.9 55.8L600.5 54.7L602.2 53.6L603.2 53.2L603.9 53.0L604.6 53.0L605.2 53.2L605.8 53.6L606.4 54.1L607.6 55.6L608.7 57.3L609.8 59.9L612.0 66.3L613.6 71.2L614.8 75.5L616.1 81.3" fill="none" stroke="#000" stroke-width="3" stroke-linejoin="round" stroke-linecap="butt"/>
<path d="M645.4 83.7L648.3 24.9L650.2 -5.1" fill="none" stroke="#000" stroke-width="3" stroke-linejoin="round" stroke-linecap="butt"/>
<rect x="146.8" y="4.5" width="35.4" height="69.5" fill="#ee4a18" fill-opacity="0.3"/>
<rect x="202.6" y="4.5" width="24.0" height="69.5" fill="#3a40a5" fill-opacity="0.48"/>
<rect x="256.3" y="4.5" width="1.7" height="69.5" fill="#ee4a18" fill-opacity="0.3"/>
<rect x="285.2" y="4.5" width="15.8" height="69.5" fill="#3a40a5" fill-opacity="0.48"/>
<rect x="370.1" y="4.5" width="11.3" height="69.5" fill="#3a40a5" fill-opacity="0.48"/>
<rect x="392.7" y="4.5" width="15.0" height="69.5" fill="#ee4a18" fill-opacity="0.3"/>
<rect x="446.2" y="4.5" width="20.1" height="69.5" fill="#3a40a5" fill-opacity="0.48"/>
<rect x="475.1" y="4.5" width="22.6" height="69.5" fill="#ee4a18" fill-opacity="0.3"/>
<rect x="539.9" y="4.5" width="11.3" height="69.5" fill="#3a40a5" fill-opacity="0.48"/>
<rect x="582.6" y="4.5" width="15.3" height="69.5" fill="#3a40a5" fill-opacity="0.48"/>
<rect x="614.0" y="4.5" width="33.3" height="69.5" fill="#3a40a5" fill-opacity="0.48"/>
<rect x="665.0" y="4.5" width="12.8" height="69.5" fill="#ee4a18" fill-opacity="0.3"/>
</g>
<path d="M47.6 74.25H677.8" stroke="#fcefec" stroke-width="1"/>
<path d="M47.9 7.07V71.39M39.5 7.07H47.9M39.5 23.15H47.9M39.5 39.23H47.9M39.5 55.31H47.9M39.5 71.39H47.9M70.80 74.10H654.60M70.80 74.10V82.10M154.20 74.10V82.10M237.60 74.10V82.10M321.00 74.10V82.10M404.40 74.10V82.10M487.80 74.10V82.10M571.20 74.10V82.10M654.60 74.10V82.10M91.65 74.10V76.90M112.50 74.10V76.90M133.35 74.10V76.90M175.05 74.10V76.90M195.90 74.10V76.90M216.75 74.10V76.90M258.45 74.10V76.90M279.30 74.10V76.90M300.15 74.10V76.90M341.85 74.10V76.90M362.70 74.10V76.90M383.55 74.10V76.90M425.25 74.10V76.90M446.10 74.10V76.90M466.95 74.10V76.90M508.65 74.10V76.90M529.50 74.10V76.90M550.35 74.10V76.90M592.05 74.10V76.90M612.90 74.10V76.90M633.75 74.10V76.90" stroke="#000" stroke-width="1.3" fill="none" stroke-linecap="square"/>
<text x="35.3" y="11.87" text-anchor="end">1.0</text>
<text x="35.3" y="27.95" text-anchor="end">0.5</text>
<text x="35.3" y="44.03" text-anchor="end">0.0</text>
<text x="35.3" y="60.11" text-anchor="end">−0.5</text>
<text x="35.3" y="76.19" text-anchor="end">−1.0</text>
<text x="70.80" y="98.70" text-anchor="middle">7000</text>
<text x="154.20" y="98.70" text-anchor="middle">6000</text>
<text x="237.60" y="98.70" text-anchor="middle">5000</text>
<text x="321.00" y="98.70" text-anchor="middle">4000</text>
<text x="404.40" y="98.70" text-anchor="middle">3000</text>
<text x="487.80" y="98.70" text-anchor="middle">2000</text>
<text x="571.20" y="98.70" text-anchor="middle">1000</text>
<text x="654.60" y="98.70" text-anchor="middle">1 cal BC</text>
<text x="71.3" y="25.1" style="font-size:13.5px">Southern Italy</text>
</g>
<g transform="translate(0 420.56)">
<clipPath id="c4"><rect x="47.6" y="4.5" width="630.2" height="69.5"/></clipPath>
<rect x="173.4" y="4.5" width="4.5" height="69.5" fill="#fbd0c3"/>
<rect x="286.4" y="4.5" width="9.6" height="69.5" fill="#fbd0c3"/>
<path d="M47.6 7.07H677.8M47.6 23.15H677.8M47.6 39.23H677.8M47.6 55.31H677.8M47.6 71.39H677.8M70.80 4.5V74.0M154.20 4.5V74.0M237.60 4.5V74.0M321.00 4.5V74.0M404.40 4.5V74.0M487.80 4.5V74.0M571.20 4.5V74.0M654.60 4.5V74.0" stroke="#d3d3d3" stroke-width="1" stroke-dasharray="0.95 2.81" fill="none"/>
<g clip-path="url(#c4)">
<path d="M47.5 29.6L50.3 30.2L52.2 30.8L54.0 31.6L57.1 33.4L58.5 34.0L60.1 34.4L61.6 34.4L62.8 34.1L63.9 33.8L65.4 33.2L67.5 32.1L70.0 30.8L76.1 27.0L79.0 25.5L80.8 24.9L81.6 24.7L82.8 24.7L84.7 24.9L85.9 25.2L87.0 25.6L88.7 26.6L91.1 28.5L92.2 29.0L92.9 29.2L93.6 29.2L94.7 29.0L97.6 27.7L98.7 27.4L99.5 27.3L100.3 27.3L101.8 27.5L102.9 27.9L104.3 28.6L107.7 30.7L108.7 31.3L109.8 31.7L111.0 32.0L112.5 32.0L114.9 31.6L118.4 30.7L123.6 28.8L125.2 28.5L126.4 28.5L128.3 28.7L130.3 29.2L132.5 29.9L135.8 31.3L137.3 31.8L138.5 32.0L139.3 32.0L140.8 31.8L141.9 31.4L142.9 30.7L143.7 30.0L144.8 28.7L145.9 27.1L146.9 25.4L148.0 23.3L149.0 21.1L150.0 18.5L151.1 15.4L152.4 11.3L153.3 8.2L154.7 2.7L156.1 -4.3" fill="none" stroke="#000" stroke-width="1.5" stroke-linejoin="round" stroke-linecap="butt" stroke-dasharray="4.9 4.9"/>
<path d="M169.1 -3.1L170.4 3.2L171.9 9.8L173.0 14.1L174.5 18.7L175.8 22.0L177.2 24.9L178.8 27.6L179.5 28.6L180.3 29.4L181.2 30.1L182.3 30.6L183.0 30.7L184.1 30.6L185.6 30.2L187.4 29.4L189.2 28.5L192.0 26.9L193.0 26.4L193.8 26.2L194.5 26.1L195.3 26.1L196.5 26.3L198.3 26.9L199.3 27.5L200.7 28.4L202.3 29.6L206.1 33.1L208.0 34.6L209.7 35.6L211.1 36.4L212.5 37.0L213.7 37.3L215.2 37.6L217.6 37.7L220.0 37.4L228.4 35.0L230.4 34.5L232.0 34.3L234.3 34.1L239.5 34.2L240.7 34.1L241.9 33.9L243.1 33.6L244.2 33.2L250.8 30.4L252.3 29.9L253.5 29.8L254.6 29.9L255.8 30.2L256.9 30.6L258.3 31.3L260.9 33.1L264.9 36.4L265.9 37.1L266.6 37.4L268.1 37.9L269.2 38.1L270.8 38.1L271.9 37.8L273.0 37.4L274.3 36.5L275.5 35.4L276.7 33.9L277.8 32.2L278.7 30.4L281.3 23.3L282.0 21.8L282.7 20.4L283.6 19.1L284.6 17.9L285.5 17.3L286.5 17.0L287.2 17.0L288.2 17.4L289.2 18.1L290.3 19.2L291.3 20.4L292.5 22.0L295.3 26.9L296.4 28.5L298.0 30.3L300.1 32.1L301.7 33.3L303.4 34.3L305.2 35.3L307.0 36.1L309.5 37.2L312.2 38.2L314.1 38.8L316.0 39.3L318.4 39.6L320.8 39.4L323.5 38.9L326.6 38.0L329.2 37.0L332.4 35.5L334.5 34.3L338.7 31.9L340.8 30.9L343.1 30.0L348.0 28.4L352.4 26.4L353.9 26.1L354.6 26.1L355.4 26.2L356.8 26.7L364.8 31.3L367.7 32.8L369.8 33.7L371.3 34.2L372.5 34.5L373.7 34.6L374.8 34.6L375.9 34.2L376.9 33.7L378.0 32.6L378.9 31.3L379.8 29.5L380.8 27.3L383.2 21.9L386.2 14.9L387.1 13.1L387.9 11.7L388.9 10.5L390.0 9.4L391.0 8.9L392.1 8.6L393.1 8.8L393.8 9.1L394.4 9.5L395.4 10.6L396.3 12.0L397.1 13.4L397.7 14.8L400.2 21.6L401.5 24.5L403.5 28.9L404.9 31.3L405.9 32.5L407.1 33.6L408.1 34.1L409.5 34.6L410.3 34.7L411.5 34.7L412.7 34.5L413.8 34.2L415.3 33.6L419.1 31.5L421.3 30.5L423.5 29.6L424.7 29.4L425.5 29.3L426.6 29.3L427.8 29.6L428.8 30.0L431.3 31.3L432.8 32.0L434.3 32.5L436.2 32.9L438.2 33.2L440.2 33.3L442.6 33.1L444.5 32.8L445.7 32.5L446.8 32.0L447.9 31.5L448.9 30.9L450.4 29.6L452.9 27.0L454.1 26.0L456.0 24.5L457.7 23.4L459.1 22.7L460.2 22.3L461.3 22.1L462.5 22.1L463.7 22.3L464.8 22.6L465.9 23.0L466.9 23.6L468.5 24.8L471.2 27.7L473.3 29.7L474.7 31.0L476.0 32.0L477.3 32.8L478.4 33.4L479.9 33.9L481.4 34.3L483.4 34.5L485.4 34.6L487.0 34.5L489.0 34.3L490.9 33.9L493.3 33.3L499.7 31.2L503.2 30.3L505.2 29.9L506.8 29.7L508.4 29.7L510.3 29.8L513.5 30.3L515.0 30.7L516.2 31.1L517.6 31.7L521.5 33.8L524.7 35.4L526.6 36.1L528.1 36.4L529.3 36.5L530.8 36.2L538.0 33.9L539.6 33.6L540.8 33.5L542.7 33.6L547.1 34.4L549.8 34.7L555.8 35.1L564.6 35.3L568.2 35.6L570.6 36.0L572.5 36.5L574.3 37.2L575.7 38.1L579.9 41.1L582.0 42.3L583.8 43.2L585.2 43.9L586.7 44.4L587.9 44.7L589.0 44.8L590.1 44.6L590.9 44.4L591.5 44.0L592.5 43.3L593.9 41.9L599.5 35.7L600.6 34.6L601.9 33.7L603.0 33.3L604.2 33.0L605.3 32.9L606.5 33.0L608.5 33.2L610.1 33.5L614.2 34.8L615.4 34.8L616.1 34.7L617.1 34.3L618.4 33.5L621.3 30.7L624.8 27.4L626.7 25.4L627.6 24.1L628.4 22.7L630.3 19.2L632.1 15.1L633.0 12.5L633.7 9.8L636.6 -3.1" fill="none" stroke="#000" stroke-width="1.5" stroke-linejoin="round" stroke-linecap="butt" stroke-dasharray="4.9 4.9"/>
<path d="M645.7 -3.1L647.0 3.2L648.4 8.2L648.9 9.7L649.6 11.2L650.2 12.2L651.1 13.5L652.4 15.1L653.8 16.5L655.7 18.0L657.3 19.2L664.5 23.5L666.0 24.1L667.1 24.3L667.8 24.2L668.9 23.9L669.6 23.6L670.6 22.9L671.4 22.1L672.2 21.2L672.8 20.2L673.5 18.7L674.8 15.3L676.6 9.2L677.7 4.1L678.8 -1.8" fill="none" stroke="#000" stroke-width="1.5" stroke-linejoin="round" stroke-linecap="butt" stroke-dasharray="4.9 4.9"/>
<path d="M47.5 45.2L51.8 46.1L53.4 46.6L54.9 47.1L56.7 47.9L59.2 49.2L60.9 50.2L64.0 52.1L65.4 52.9L66.8 53.4L68.4 53.7L69.9 53.7L70.7 53.5L71.8 53.1L73.2 52.4L76.6 50.3L77.7 49.8L78.8 49.4L80.7 49.0L83.5 48.6L85.9 48.5L89.5 48.5L90.7 48.4L91.4 48.3L93.3 47.6L96.4 45.9L97.9 45.2L99.8 44.6L101.7 44.3L102.9 44.2L103.7 44.3L104.5 44.4L105.6 44.8L107.0 45.4L110.2 47.1L112.7 48.3L114.2 48.9L115.7 49.4L116.9 49.5L118.1 49.4L121.9 48.7L123.1 48.7L123.8 48.8L125.3 49.3L126.7 50.1L128.3 51.3L130.1 52.9L132.3 55.2L135.6 58.7L140.1 63.8L143.2 67.5L144.6 68.9L145.5 69.6L146.6 70.1L147.7 70.4L148.4 70.5L149.2 70.4L149.9 70.3L150.6 69.9L151.5 69.3L152.0 68.7L152.7 67.8L153.3 66.7L154.0 65.3L154.9 63.1L155.8 60.0L160.0 44.2L160.9 41.5L162.1 39.0L163.0 37.7L163.7 36.7L164.5 35.9L165.5 35.1L166.5 34.5L167.5 34.0L168.7 33.7L169.8 33.5L171.0 33.5L172.1 33.8L173.2 34.1L174.3 34.7L175.8 35.9L179.2 39.3L182.2 42.0L183.1 42.7L184.1 43.3L184.8 43.6L185.6 43.8L186.7 43.9L187.8 43.8L189.0 43.4L192.3 42.1L195.4 41.3L197.4 41.0L199.3 41.1L201.7 41.7L205.0 42.9L206.8 43.8L210.9 46.3L213.1 47.3L214.6 47.8L216.1 48.1L217.7 48.3L219.3 48.4L221.3 48.3L223.7 47.9L226.0 47.5L230.3 46.4L232.3 46.0L234.6 45.9L239.8 45.9L242.2 45.8L245.0 45.3L251.6 43.8L253.2 43.6L254.8 43.6L255.9 43.7L257.1 44.0L258.2 44.4L259.7 45.0L261.8 46.1L265.8 48.7L268.0 49.7L270.2 50.5L271.4 50.7L272.6 50.8L274.1 50.7L275.6 50.2L276.6 49.6L277.7 48.5L278.4 47.5L279.1 46.1L282.4 38.4L283.4 36.2L284.6 34.1L285.5 32.8L286.3 32.0L287.2 31.5L287.9 31.3L288.2 31.4L288.8 31.5L289.5 31.9L290.0 32.4L290.9 33.2L292.6 35.4L295.4 39.3L297.0 41.0L298.8 42.6L301.2 44.1L303.3 45.2L305.9 46.3L310.5 47.7L317.8 49.6L323.4 51.6L325.0 52.0L326.2 52.1L327.4 52.1L328.9 51.9L330.9 51.5L333.2 50.9L340.8 48.4L345.9 47.2L349.4 46.5L352.2 46.1L354.2 46.0L356.2 46.0L357.7 46.3L359.3 46.6L364.3 47.9L365.8 48.4L367.5 49.4L371.8 52.9L374.8 54.9L376.2 55.6L377.7 56.3L379.2 56.7L380.4 56.9L381.5 56.8L382.6 56.5L383.6 55.9L384.7 54.8L385.9 52.8L391.4 42.6L393.0 39.8L394.0 38.6L394.8 37.8L395.8 37.4L396.5 37.3L397.5 37.4L398.2 37.7L398.8 38.2L399.7 38.9L403.0 42.4L406.0 45.1L406.9 45.8L407.9 46.5L409.7 47.3L410.8 47.6L412.0 47.7L413.6 47.8L415.2 47.7L418.0 47.4L421.8 46.4L423.4 46.1L425.4 46.0L427.4 46.1L429.3 46.5L431.2 47.0L433.1 47.7L442.0 51.3L443.5 51.8L445.1 52.0L446.2 52.0L447.8 51.7L449.3 51.1L451.0 50.1L452.3 49.2L453.5 48.1L457.6 43.8L459.9 41.6L461.4 40.3L462.4 39.6L463.4 39.0L464.5 38.6L465.2 38.5L466.8 38.5L469.1 39.1L472.1 40.2L479.1 43.0L482.2 44.1L484.5 44.6L487.3 44.9L489.7 44.9L492.0 44.6L494.3 44.0L499.6 42.1L503.9 41.0L506.6 40.4L509.0 40.0L511.4 39.8L513.4 39.6L515.4 39.7L516.9 40.1L518.0 40.5L522.0 42.2L524.6 43.2L526.5 43.8L528.1 44.0L529.3 44.0L530.4 43.8L534.3 42.7L537.0 42.1L539.0 41.8L540.6 41.7L543.0 41.7L551.8 42.4L557.4 42.7L565.0 42.6L570.1 42.4L571.7 42.5L573.3 42.8L574.0 43.1L575.1 43.6L576.8 44.6L582.6 48.9L584.3 50.0L586.4 51.1L587.5 51.5L588.6 51.8L589.8 52.0L591.0 52.1L593.0 51.9L594.5 51.5L598.3 50.3L599.8 49.9L601.4 49.7L602.6 49.6L603.8 49.7L604.5 49.8L605.7 50.2L607.4 51.1L609.8 52.6L612.3 54.5L616.7 58.0L620.2 60.6L621.3 61.2L622.3 61.7L623.5 62.0L624.6 62.2L625.8 62.1L627.4 61.9L635.2 60.2L637.1 59.7L638.6 59.2L639.7 58.7L644.0 56.5L646.2 55.5L647.7 55.1L649.6 54.6L653.6 53.9L656.8 53.5L659.5 53.6L661.1 53.8L662.7 54.1L667.3 55.4L668.5 55.7L669.6 55.7L670.8 55.6L671.5 55.4L672.6 54.9L673.6 54.3L674.9 53.4L676.4 52.1L680.1 48.4" fill="none" stroke="#000" stroke-width="1.5" stroke-linejoin="round" stroke-linecap="butt" stroke-dasharray="4.9 4.9"/>
<path d="M47.5 38.4L51.1 39.0L53.4 39.6L55.2 40.4L59.1 42.5L60.2 42.9L61.3 43.3L62.5 43.5L64.1 43.7L65.7 43.8L67.2 43.8L69.6 43.4L70.7 43.1L71.8 42.6L73.6 41.6L78.8 38.0L79.8 37.4L80.9 37.1L82.0 36.9L83.2 37.1L84.3 37.5L87.2 38.7L88.7 39.2L89.9 39.4L91.0 39.4L92.1 39.2L93.2 38.7L96.8 36.2L98.9 35.1L100.4 34.5L101.1 34.4L101.9 34.4L103.0 34.6L104.0 35.1L109.8 39.3L111.2 40.1L112.3 40.5L113.4 40.7L114.9 40.7L119.6 39.6L122.0 39.3L124.0 39.2L125.9 39.5L128.6 40.2L130.8 41.1L132.6 42.1L137.7 45.2L139.8 46.3L141.3 47.0L142.8 47.5L143.9 47.7L145.1 47.8L146.3 47.6L147.0 47.4L147.7 47.1L149.0 46.2L149.6 45.7L150.3 44.8L151.3 43.1L152.1 41.3L153.0 38.6L157.9 21.3L158.8 18.6L159.5 16.8L160.7 14.3L161.6 12.9L162.2 11.9L163.0 11.1L163.6 10.6L164.2 10.3L164.8 10.2L165.4 10.4L166.2 11.0L167.0 11.8L167.7 12.8L169.8 16.6L173.0 23.1L174.3 25.5L176.1 28.6L177.9 31.3L179.6 33.5L181.5 35.5L182.7 36.5L183.4 36.9L184.1 37.2L184.8 37.3L185.6 37.3L186.3 37.2L187.1 37.0L188.9 36.2L192.4 34.4L193.9 33.8L195.0 33.6L196.6 33.7L197.7 34.0L198.8 34.4L202.5 36.1L204.5 37.3L209.9 40.7L212.4 42.0L213.9 42.6L215.4 43.0L217.0 43.2L218.6 43.3L220.2 43.2L222.1 42.9L225.3 42.1L229.9 40.8L232.2 40.3L234.6 40.1L240.2 40.2L242.5 39.9L245.2 39.2L251.3 37.2L252.8 36.9L254.0 36.8L254.8 37.0L255.9 37.3L258.1 38.3L260.8 40.0L264.6 42.9L266.3 43.9L268.1 44.6L269.3 44.8L270.1 44.9L271.3 44.8L272.0 44.7L273.5 44.2L274.8 43.3L276.2 41.9L277.4 40.3L278.6 38.3L279.6 36.1L282.0 30.2L282.9 28.4L283.8 27.0L284.7 25.7L285.7 24.6L286.7 24.0L287.6 23.8L288.3 23.9L289.0 24.2L289.5 24.7L290.4 25.5L292.3 28.0L295.1 32.4L296.3 34.0L298.2 36.0L299.4 37.1L300.7 38.1L303.4 39.8L306.3 41.1L311.2 42.8L315.4 44.1L318.9 44.8L322.1 45.1L324.9 45.2L327.7 44.8L330.4 44.2L333.1 43.4L334.9 42.7L339.7 40.6L342.7 39.6L352.1 37.6L354.0 37.3L355.6 37.2L357.2 37.4L358.8 37.7L360.7 38.3L362.6 38.9L364.7 39.9L370.2 43.3L373.0 44.8L374.1 45.3L375.2 45.7L376.3 45.8L377.1 45.7L378.1 45.4L379.1 44.8L380.3 43.8L381.4 42.6L382.3 41.3L383.3 39.6L384.1 37.8L386.7 31.5L387.6 29.7L388.5 28.4L389.9 26.4L391.0 25.3L391.6 24.9L392.3 24.6L393.4 24.4L394.1 24.4L395.1 24.8L396.0 25.5L397.1 26.6L398.5 28.6L401.0 33.1L402.0 34.8L403.5 36.8L405.0 38.5L406.5 39.9L407.8 40.8L409.2 41.5L410.3 41.7L411.9 41.7L413.8 41.3L416.5 40.4L420.2 38.9L422.1 38.3L424.0 37.8L425.6 37.7L426.7 37.8L427.9 38.1L433.8 40.4L436.5 41.3L438.4 41.8L440.4 42.1L442.4 42.3L444.4 42.3L445.9 42.1L447.1 41.8L448.2 41.4L449.3 40.9L450.3 40.3L452.3 39.0L459.4 33.7L461.4 32.4L462.8 31.7L463.9 31.3L465.0 31.0L465.8 31.0L466.9 31.2L468.4 31.7L474.0 35.5L475.7 36.5L477.5 37.3L479.0 37.9L481.0 38.4L482.9 38.8L484.9 39.0L487.7 39.1L491.3 38.7L494.8 38.0L502.6 36.2L506.1 35.5L509.3 35.1L512.5 34.9L514.9 35.1L516.8 35.5L518.3 36.1L525.2 39.2L527.1 39.8L528.6 40.0L529.8 40.0L531.4 39.8L538.8 38.0L540.3 37.8L541.5 37.7L543.5 37.8L549.5 38.5L555.8 39.1L559.0 39.2L568.6 39.2L571.4 39.4L573.3 39.8L575.2 40.6L576.5 41.4L582.9 45.5L585.0 46.7L586.1 47.1L587.2 47.5L588.4 47.7L589.6 47.7L591.1 47.5L592.6 46.9L594.7 45.8L598.4 43.5L599.5 42.9L600.9 42.4L602.1 42.1L603.3 42.1L604.4 42.2L606.8 42.6L608.7 43.3L613.1 45.2L614.6 45.6L616.2 45.8L618.1 45.9L620.5 45.6L622.9 45.2L625.6 44.4L627.0 43.8L628.1 43.3L629.1 42.6L629.9 41.8L631.2 40.3L634.4 35.3L635.7 33.7L637.1 32.3L638.3 31.3L639.6 30.4L640.7 29.9L641.8 29.6L642.9 29.7L643.6 29.9L644.3 30.2L645.3 30.8L648.2 33.0L650.2 34.2L654.2 36.2L658.2 37.9L661.6 39.0L665.1 39.9L667.5 40.2L668.6 40.2L669.4 40.1L670.4 39.6L671.1 39.2L671.7 38.7L672.7 37.5L674.0 35.5L675.3 33.1L677.1 29.5L678.5 26.2L680.1 22.1" fill="none" stroke="#000" stroke-width="3" stroke-linejoin="round" stroke-linecap="butt"/>
<rect x="173.4" y="4.5" width="4.5" height="69.5" fill="#ee4a18" fill-opacity="0.3"/>
<rect x="286.4" y="4.5" width="9.6" height="69.5" fill="#ee4a18" fill-opacity="0.3"/>
<rect x="316.1" y="4.5" width="2.5" height="69.5" fill="#3a40a5" fill-opacity="0.48"/>
<rect x="579.3" y="4.5" width="14.6" height="69.5" fill="#3a40a5" fill-opacity="0.48"/>
</g>
<path d="M47.6 74.25H677.8" stroke="#fcefec" stroke-width="1"/>
<path d="M47.9 7.07V71.39M39.5 7.07H47.9M39.5 23.15H47.9M39.5 39.23H47.9M39.5 55.31H47.9M39.5 71.39H47.9M70.80 74.10H654.60M70.80 74.10V82.10M154.20 74.10V82.10M237.60 74.10V82.10M321.00 74.10V82.10M404.40 74.10V82.10M487.80 74.10V82.10M571.20 74.10V82.10M654.60 74.10V82.10M91.65 74.10V76.90M112.50 74.10V76.90M133.35 74.10V76.90M175.05 74.10V76.90M195.90 74.10V76.90M216.75 74.10V76.90M258.45 74.10V76.90M279.30 74.10V76.90M300.15 74.10V76.90M341.85 74.10V76.90M362.70 74.10V76.90M383.55 74.10V76.90M425.25 74.10V76.90M446.10 74.10V76.90M466.95 74.10V76.90M508.65 74.10V76.90M529.50 74.10V76.90M550.35 74.10V76.90M592.05 74.10V76.90M612.90 74.10V76.90M633.75 74.10V76.90" stroke="#000" stroke-width="1.3" fill="none" stroke-linecap="square"/>
<text x="35.3" y="11.87" text-anchor="end">2</text>
<text x="35.3" y="27.95" text-anchor="end">1</text>
<text x="35.3" y="44.03" text-anchor="end">0</text>
<text x="35.3" y="60.11" text-anchor="end">−1</text>
<text x="35.3" y="76.19" text-anchor="end">−2</text>
<text x="70.80" y="98.70" text-anchor="middle">7000</text>
<text x="154.20" y="98.70" text-anchor="middle">6000</text>
<text x="237.60" y="98.70" text-anchor="middle">5000</text>
<text x="321.00" y="98.70" text-anchor="middle">4000</text>
<text x="404.40" y="98.70" text-anchor="middle">3000</text>
<text x="487.80" y="98.70" text-anchor="middle">2000</text>
<text x="571.20" y="98.70" text-anchor="middle">1000</text>
<text x="654.60" y="98.70" text-anchor="middle">1 cal BC</text>
<text x="71.3" y="25.1" style="font-size:13.5px">Corsica</text>
</g>
<g transform="translate(0 525.70)">
<clipPath id="c5"><rect x="47.6" y="4.5" width="630.2" height="69.5"/></clipPath>
<rect x="174.4" y="4.5" width="10.6" height="69.5" fill="#fbd0c3"/>
<rect x="339.4" y="4.5" width="1.6" height="69.5" fill="#fbd0c3"/>
<rect x="398.2" y="4.5" width="2.3" height="69.5" fill="#fbd0c3"/>
<rect x="527.4" y="4.5" width="10.5" height="69.5" fill="#fbd0c3"/>
<path d="M47.6 7.07H677.8M47.6 23.15H677.8M47.6 39.23H677.8M47.6 55.31H677.8M47.6 71.39H677.8M70.80 4.5V74.0M154.20 4.5V74.0M237.60 4.5V74.0M321.00 4.5V74.0M404.40 4.5V74.0M487.80 4.5V74.0M571.20 4.5V74.0M654.60 4.5V74.0" stroke="#d3d3d3" stroke-width="1" stroke-dasharray="0.95 2.81" fill="none"/>
<g clip-path="url(#c5)">
<path d="M47.5 29.5L49.6 26.5L50.9 25.0L51.8 24.3L52.5 23.9L53.2 23.6L53.9 23.5L54.7 23.4L55.8 23.6L56.8 24.1L59.0 25.1L60.5 25.5L62.0 25.7L64.8 25.7L66.4 25.9L67.9 26.3L70.8 27.6L71.9 27.9L72.7 27.9L73.4 27.9L74.6 27.6L77.9 26.2L79.4 25.6L80.9 25.2L82.9 24.8L84.8 24.6L86.8 24.5L88.8 24.6L90.8 24.9L92.7 25.3L94.6 26.0L96.4 26.8L98.4 28.1L100.4 29.6L102.1 31.2L109.4 38.6L111.1 40.3L112.1 41.0L113.1 41.5L114.1 41.8L114.8 41.8L115.5 41.6L116.5 41.1L117.7 40.0L118.8 38.9L120.1 37.3L121.0 36.0L123.9 31.2L124.8 29.9L125.8 28.7L127.1 27.8L127.8 27.5L128.5 27.3L129.2 27.2L130.0 27.3L131.5 27.6L134.4 28.9L135.4 29.2L136.0 29.1L136.3 29.0L136.9 28.7L137.4 28.2L138.0 27.2L138.5 26.2L139.8 22.4L140.7 19.3L142.4 12.7L143.5 9.3L144.1 7.8L144.6 6.8L145.3 6.0L145.8 5.7L146.1 5.6L146.6 5.6L147.4 6.1L148.1 7.0L149.0 8.7L150.2 11.7L152.4 18.6L153.6 22.0L155.0 25.7L156.0 27.8L156.9 29.1L157.7 29.7L158.3 29.8L158.7 29.8L159.6 29.5L160.4 28.7L161.1 27.8L161.8 26.4L162.4 24.9L163.7 21.2L166.1 12.7L166.9 10.4L167.7 8.6L168.4 7.2L169.1 6.3L170.0 5.7L170.6 5.6L171.2 5.7L172.2 6.2L172.7 6.7L173.4 7.6L174.4 9.3L176.5 13.6L180.1 20.3L182.3 24.2L183.6 26.2L185.1 28.0L186.4 29.5L187.9 30.8L188.9 31.5L189.6 31.8L191.1 32.3L192.3 32.4L195.8 32.5L197.4 32.6L199.0 32.9L202.8 34.0L205.8 34.6L206.5 34.9L207.5 35.4L210.7 37.8L212.8 39.0L214.2 39.7L215.3 40.0L216.5 40.3L217.7 40.5L218.9 40.6L220.0 40.5L223.9 39.8L225.5 39.6L226.7 39.6L229.9 39.7L231.1 39.6L232.6 39.3L233.8 39.0L234.8 38.5L235.9 37.9L238.8 35.8L248.8 27.8L249.8 27.3L250.5 27.0L251.3 26.8L252.0 26.8L252.8 26.9L253.8 27.2L257.3 29.1L259.5 30.1L261.4 30.8L262.9 31.2L264.5 31.3L266.4 31.1L268.8 30.4L274.1 28.7L275.2 28.5L276.4 28.4L277.5 28.6L278.6 29.0L282.1 30.9L283.9 31.7L285.4 32.1L286.6 32.3L287.8 32.2L289.0 32.0L293.2 31.0L295.6 30.5L298.4 30.2L301.1 30.0L303.1 30.1L305.1 30.3L307.9 30.7L312.6 31.7L313.8 31.8L314.9 31.8L316.9 31.6L320.8 30.7L323.6 30.2L329.1 29.3L332.7 29.0L333.9 29.0L335.1 29.1L336.2 29.4L337.4 29.7L338.4 30.2L339.4 30.9L340.8 32.2L343.4 35.3L344.8 36.7L347.0 38.5L349.3 40.0L351.5 41.0L353.4 41.5L355.8 41.9L358.1 41.9L359.3 41.8L360.1 41.6L361.2 41.1L362.2 40.5L364.1 39.1L368.6 35.1L369.9 34.2L370.9 33.6L372.0 33.3L373.1 33.1L374.3 33.3L377.0 33.8L378.6 33.8L380.1 33.6L382.1 33.1L383.5 32.5L385.2 31.5L389.5 27.9L391.8 26.3L392.9 25.8L393.6 25.5L394.3 25.3L395.1 25.2L396.2 25.4L397.2 25.8L398.5 26.7L399.7 27.8L400.5 28.7L401.5 29.9L404.1 34.0L405.4 35.9L407.0 37.8L408.4 39.2L409.6 40.2L411.0 41.0L412.4 41.6L413.9 42.0L415.1 42.0L416.2 41.8L417.3 41.4L418.2 40.7L419.6 39.3L424.8 33.2L426.0 32.1L427.2 31.2L428.6 30.4L430.1 29.8L432.0 29.2L433.6 29.0L434.7 28.9L435.9 28.9L437.1 29.1L438.7 29.4L441.0 30.1L445.0 31.8L447.3 32.6L450.7 33.6L453.9 34.2L455.9 34.4L457.4 34.5L463.4 34.1L466.6 34.1L470.2 34.4L480.1 35.5L482.5 35.7L484.9 35.6L490.5 35.0L494.9 34.9L501.3 35.0L507.7 35.6L510.1 35.7L512.5 35.7L514.9 35.5L516.4 35.3L517.9 34.9L519.0 34.4L521.7 32.8L524.6 31.6L526.9 31.0L528.1 30.9L528.9 30.9L530.8 31.2L533.1 32.0L535.3 33.0L538.8 34.9L540.2 35.5L542.1 36.0L544.1 36.3L546.9 36.5L550.1 36.4L562.8 35.2L568.4 34.9L570.0 34.9L571.6 35.0L573.2 35.3L574.4 35.5L575.5 35.9L576.6 36.4L577.6 37.0L578.6 37.7L580.3 39.3L586.1 45.4L587.2 46.5L588.1 47.3L588.8 47.6L589.5 47.8L590.2 47.9L590.9 47.7L591.5 47.4L592.1 47.0L593.0 46.2L594.9 44.2L598.1 40.1L599.5 38.6L600.4 37.9L601.0 37.5L602.5 36.9L603.6 36.7L604.4 36.7L605.1 36.9L605.9 37.1L607.2 37.8L611.9 40.9L614.7 42.5L616.1 43.2L617.2 43.6L618.3 43.9L619.1 44.0L619.9 44.0L620.6 43.8L621.7 43.4L622.6 42.8L624.9 40.6L626.2 39.6L627.2 39.0L629.3 38.0L630.3 37.4L631.5 36.3L632.8 34.8L633.8 33.1L634.6 31.3L635.5 28.2L637.0 21.6L637.6 19.2L638.4 16.6L639.5 14.0L640.3 12.6L640.9 11.7L641.8 11.1L642.4 10.9L642.7 10.9L643.3 11.1L643.9 11.4L644.4 11.9L644.9 12.5L645.9 14.3L646.8 16.5L647.7 19.5L649.5 25.7L652.7 37.7L654.9 45.4L656.6 50.7L658.2 55.2L659.8 58.9L662.4 64.3L667.8 75.0L671.3 82.2" fill="none" stroke="#000" stroke-width="1.5" stroke-linejoin="round" stroke-linecap="butt" stroke-dasharray="4.9 4.9"/>
<path d="M47.5 49.6L50.3 47.2L51.3 46.6L52.3 46.1L53.4 45.7L55.0 45.4L56.2 45.4L57.3 45.5L58.8 46.0L59.5 46.3L60.6 46.9L61.8 47.9L66.6 52.1L67.9 53.0L68.6 53.4L69.3 53.6L70.3 53.6L71.0 53.5L72.1 53.0L75.8 50.0L78.2 48.6L81.4 46.9L84.3 45.7L86.2 45.1L87.8 44.7L90.9 44.1L92.9 43.9L94.5 43.9L96.1 44.0L97.3 44.2L98.4 44.5L99.5 44.9L100.6 45.5L101.9 46.4L105.4 49.6L110.8 55.0L112.6 56.5L114.3 57.5L115.0 57.8L115.8 58.0L116.9 58.0L118.0 57.7L120.4 56.5L121.1 56.3L121.9 56.2L122.6 56.2L123.3 56.4L124.8 57.0L126.0 57.9L127.5 59.3L128.4 60.6L130.5 63.5L131.8 65.0L132.4 65.5L132.9 65.9L133.5 66.1L133.9 66.1L134.2 66.0L134.8 65.8L135.6 65.1L136.5 63.8L137.4 62.1L138.8 58.7L141.4 50.8L143.8 44.0L144.3 42.9L144.9 42.0L145.4 41.6L145.9 41.3L146.5 41.4L147.3 41.8L148.0 42.6L148.9 43.9L150.2 46.4L152.3 51.6L153.3 53.8L154.8 56.6L155.9 58.2L156.4 58.8L157.0 59.3L157.8 59.7L158.1 59.7L158.8 59.6L159.6 59.0L160.4 58.2L161.3 56.9L162.3 55.1L163.1 53.3L164.1 50.3L165.8 44.1L166.7 41.5L167.8 38.5L169.0 35.9L170.2 33.9L171.6 32.5L172.5 31.8L173.2 31.4L173.9 31.2L174.7 31.0L175.8 31.1L176.5 31.3L177.2 31.6L178.1 32.3L180.9 34.6L183.2 36.1L186.0 37.7L188.9 39.0L191.6 39.9L193.9 40.6L196.2 40.9L200.6 41.4L202.1 41.7L203.2 42.1L205.0 43.1L209.9 46.5L211.9 47.8L214.0 49.0L216.2 49.9L218.9 50.7L221.2 51.2L228.4 51.9L231.2 52.0L233.2 52.0L234.8 51.8L236.7 51.4L238.2 51.0L240.4 50.0L244.5 47.5L247.0 46.2L249.2 45.2L251.1 44.8L252.6 44.7L254.6 44.9L257.3 45.6L261.5 46.9L263.4 47.4L265.4 47.6L267.4 47.5L269.0 47.3L270.5 46.8L271.9 46.1L275.3 44.0L276.3 43.6L277.1 43.5L277.9 43.5L279.0 43.7L284.3 45.3L285.5 45.6L286.6 45.6L288.2 45.5L289.8 45.2L294.0 44.1L299.0 42.6L300.2 42.3L301.4 42.2L302.5 42.2L303.7 42.3L307.2 43.1L309.2 43.3L311.2 43.4L312.8 43.4L314.3 43.1L315.5 42.8L320.3 40.9L323.4 40.0L328.9 38.9L331.2 38.5L332.8 38.4L334.8 38.3L336.4 38.5L337.9 38.9L339.0 39.4L340.0 40.0L340.9 40.7L344.5 44.0L346.9 46.1L349.1 47.8L350.7 49.0L352.8 50.1L354.7 50.8L356.6 51.4L358.5 51.6L359.7 51.5L360.5 51.3L361.2 51.1L362.3 50.6L363.9 49.5L367.6 46.4L368.9 45.5L370.3 44.7L371.3 44.3L372.1 44.2L373.2 44.2L374.3 44.5L376.9 45.5L377.7 45.6L378.9 45.8L380.1 45.8L381.2 45.7L383.1 45.2L384.2 44.7L385.2 44.1L386.2 43.3L389.2 40.8L391.9 39.0L393.3 38.2L394.3 37.7L395.5 37.4L396.2 37.3L397.4 37.3L398.5 37.6L399.5 38.1L400.8 39.0L402.5 40.7L405.2 44.2L406.5 45.7L408.2 47.3L409.8 48.5L411.2 49.3L413.1 50.1L415.0 50.5L416.5 50.7L417.7 50.6L418.9 50.4L420.0 50.0L421.0 49.4L423.3 47.8L427.6 44.3L429.3 43.2L431.0 42.2L432.4 41.5L433.9 40.9L435.5 40.5L437.0 40.2L439.0 40.0L441.0 40.2L442.6 40.5L446.0 41.3L448.4 41.8L452.0 42.2L455.2 42.5L458.0 42.4L464.3 42.1L467.5 42.1L474.3 42.4L480.3 43.1L482.3 43.2L484.7 43.0L490.2 42.1L493.4 41.9L500.6 42.0L509.8 42.5L513.4 42.5L516.1 42.3L517.6 41.9L519.0 41.3L520.9 40.0L521.9 39.3L524.0 38.3L525.5 37.7L526.7 37.4L527.8 37.2L528.6 37.2L529.8 37.3L531.3 37.7L537.9 40.5L539.4 41.1L541.3 41.6L543.3 41.8L546.9 42.0L550.9 41.9L556.9 41.5L564.5 40.9L568.5 40.6L570.8 40.7L572.0 40.9L573.2 41.1L574.7 41.6L575.8 42.1L576.8 42.7L577.8 43.4L579.6 45.0L583.4 49.1L587.1 52.7L588.7 53.9L589.7 54.3L590.5 54.5L591.2 54.5L592.3 54.3L593.1 54.0L594.1 53.5L595.8 52.4L599.4 49.3L600.8 48.5L601.8 47.9L602.9 47.5L603.7 47.4L604.4 47.3L605.6 47.5L606.7 47.8L607.7 48.4L616.7 53.6L624.9 57.8L626.3 58.6L629.2 60.6L630.2 61.0L630.9 61.2L631.6 61.1L632.6 60.7L633.5 60.0L634.5 58.8L635.1 57.8L635.8 56.3L637.4 52.2L638.2 50.4L639.0 49.1L640.0 47.8L640.8 47.0L641.7 46.4L642.8 46.2L643.8 46.4L644.8 47.0L645.9 48.1L647.0 49.7L648.1 51.8L649.3 54.3L650.3 56.9L652.8 64.6L653.9 67.5L654.9 69.7L657.9 75.4L661.2 82.2" fill="none" stroke="#000" stroke-width="1.5" stroke-linejoin="round" stroke-linecap="butt" stroke-dasharray="4.9 4.9"/>
<path d="M47.5 39.5L49.8 37.2L51.6 35.6L52.9 34.8L53.6 34.5L54.3 34.3L55.4 34.3L56.2 34.5L56.9 34.8L62.9 37.9L65.8 39.2L67.7 39.8L68.9 40.0L69.7 40.0L70.8 39.9L72.3 39.5L73.4 39.0L76.1 37.3L77.6 36.6L79.4 35.9L81.3 35.3L83.7 34.8L86.4 34.4L88.8 34.2L90.8 34.3L93.2 34.6L95.5 35.3L98.1 36.3L100.2 37.5L101.8 38.7L103.3 40.0L110.6 47.3L112.2 48.5L112.8 48.9L113.6 49.2L114.3 49.3L115.0 49.3L115.7 49.1L116.4 48.7L118.0 47.6L121.8 44.0L123.3 42.8L124.6 42.0L125.4 41.8L126.1 41.6L127.2 41.7L128.0 41.8L128.7 42.1L129.9 43.0L132.6 45.4L133.5 46.1L134.5 46.5L135.1 46.5L135.7 46.3L136.6 45.7L137.3 44.8L138.0 43.4L139.0 41.2L139.8 39.0L142.3 30.5L143.5 27.1L144.3 25.4L145.0 24.5L145.8 23.9L146.3 23.9L146.9 24.0L147.7 24.6L148.4 25.5L149.2 26.9L150.3 29.5L152.2 34.7L153.1 37.0L154.6 40.2L155.7 42.3L156.7 43.6L157.5 44.3L158.5 44.8L159.1 44.8L159.4 44.8L160.4 44.4L161.1 43.6L161.8 42.6L162.5 41.2L163.0 39.7L163.6 37.8L166.0 27.3L166.7 24.6L167.5 22.3L168.2 20.4L168.8 19.4L169.5 18.7L170.1 18.5L170.4 18.4L171.0 18.5L171.6 18.8L172.2 19.2L173.1 19.9L174.7 21.7L180.5 28.9L182.3 31.0L183.7 32.4L185.2 33.7L186.5 34.7L187.8 35.6L189.2 36.2L190.8 36.7L192.3 36.8L195.9 37.0L197.5 37.1L199.8 37.7L204.1 38.8L205.6 39.4L206.6 39.8L211.5 42.6L214.0 43.8L215.5 44.4L217.0 44.8L218.6 45.2L219.8 45.3L225.4 45.4L230.9 45.8L232.5 45.7L234.1 45.4L235.2 45.0L236.7 44.4L240.2 42.5L244.3 40.0L249.3 36.8L250.8 36.2L251.9 36.0L253.0 36.0L254.2 36.2L258.4 37.6L261.4 38.5L263.4 38.8L265.0 38.9L267.0 38.8L269.3 38.4L271.2 37.9L274.2 36.6L275.3 36.2L276.4 36.0L277.6 36.0L278.7 36.3L279.8 36.7L283.8 38.5L284.9 39.0L286.0 39.2L287.2 39.3L289.1 39.0L293.0 37.9L295.3 37.3L298.0 36.8L300.4 36.6L302.0 36.6L303.6 36.7L310.3 37.9L311.9 38.1L313.1 38.2L314.2 38.1L315.8 37.7L319.5 36.2L321.7 35.5L328.0 34.5L332.3 33.5L333.5 33.4L334.7 33.3L336.3 33.5L337.4 33.7L338.5 34.2L339.6 34.7L341.1 36.0L344.2 39.1L346.8 41.6L349.0 43.3L351.0 44.6L352.8 45.4L355.1 46.1L357.1 46.5L359.0 46.6L360.2 46.4L360.9 46.2L361.6 45.8L362.7 45.2L364.2 44.0L368.7 40.1L370.0 39.1L371.0 38.6L372.1 38.3L373.3 38.3L374.4 38.5L377.1 39.3L379.0 39.5L381.0 39.5L382.6 39.3L383.7 38.9L385.1 38.1L386.0 37.4L389.4 34.6L391.7 33.1L393.2 32.4L394.3 32.0L395.4 31.8L396.2 31.7L397.3 31.9L398.4 32.2L399.7 33.0L400.9 34.1L402.5 35.9L405.2 39.8L406.5 41.4L407.8 42.9L409.3 44.2L410.6 45.1L411.6 45.7L413.1 46.3L414.2 46.5L415.4 46.5L416.2 46.4L417.3 46.1L418.4 45.6L419.7 44.7L421.2 43.5L422.4 42.4L425.5 39.3L426.7 38.2L428.0 37.3L429.8 36.3L431.6 35.5L433.5 34.9L435.4 34.5L436.6 34.4L437.8 34.4L439.0 34.6L440.2 34.8L441.7 35.2L446.2 36.8L449.3 37.7L452.4 38.5L454.7 38.9L457.5 38.9L463.5 38.4L466.7 38.3L469.9 38.5L479.5 39.3L481.8 39.5L484.6 39.3L490.1 38.3L493.3 38.2L496.5 38.1L500.5 38.3L510.1 38.9L512.5 38.9L514.9 38.7L516.9 38.4L518.4 38.0L519.5 37.6L523.4 35.6L525.2 34.9L527.1 34.3L528.7 34.1L530.2 34.3L531.8 34.7L534.4 35.7L538.4 37.4L539.9 38.0L542.3 38.5L544.6 38.8L547.4 39.0L550.2 38.9L562.6 37.7L568.2 37.4L569.8 37.4L571.3 37.5L572.9 37.7L574.5 38.1L575.6 38.4L576.7 38.9L577.7 39.6L578.6 40.3L580.0 41.7L582.3 44.5L584.1 46.6L586.0 48.6L587.5 50.0L588.5 50.7L589.1 51.0L589.8 51.3L590.6 51.3L591.3 51.3L592.0 51.1L593.1 50.6L594.1 49.9L595.9 48.4L599.3 45.0L601.2 43.5L602.2 43.0L602.9 42.7L603.6 42.4L604.4 42.3L605.5 42.4L607.0 42.9L608.4 43.7L613.5 46.8L615.2 47.8L617.0 48.6L618.9 49.2L620.1 49.4L621.3 49.4L622.4 49.2L625.1 48.6L626.3 48.5L630.2 48.9L631.3 48.7L632.0 48.5L633.0 47.9L633.8 47.1L634.5 46.1L635.1 45.1L635.9 42.9L638.1 36.0L639.0 33.8L639.9 32.0L640.5 31.0L641.2 30.2L642.1 29.7L642.7 29.6L643.0 29.6L643.6 29.9L644.4 30.6L645.3 31.8L646.5 33.9L647.4 36.2L648.5 39.2L653.2 53.2L654.4 56.2L655.8 59.5L657.4 63.1L658.8 66.0L660.2 68.5L663.8 74.7L665.3 77.5L667.5 82.2" fill="none" stroke="#000" stroke-width="3" stroke-linejoin="round" stroke-linecap="butt"/>
<rect x="113.4" y="4.5" width="3.5" height="69.5" fill="#3a40a5" fill-opacity="0.48"/>
<rect x="174.4" y="4.5" width="10.6" height="69.5" fill="#ee4a18" fill-opacity="0.3"/>
<rect x="216.6" y="4.5" width="4.0" height="69.5" fill="#3a40a5" fill-opacity="0.48"/>
<rect x="339.4" y="4.5" width="1.6" height="69.5" fill="#ee4a18" fill-opacity="0.3"/>
<rect x="352.0" y="4.5" width="10.3" height="69.5" fill="#3a40a5" fill-opacity="0.48"/>
<rect x="398.2" y="4.5" width="2.3" height="69.5" fill="#ee4a18" fill-opacity="0.3"/>
<rect x="411.0" y="4.5" width="8.8" height="69.5" fill="#3a40a5" fill-opacity="0.48"/>
<rect x="527.4" y="4.5" width="10.5" height="69.5" fill="#ee4a18" fill-opacity="0.3"/>
<rect x="580.1" y="4.5" width="18.8" height="69.5" fill="#3a40a5" fill-opacity="0.48"/>
<rect x="614.0" y="4.5" width="12.8" height="69.5" fill="#3a40a5" fill-opacity="0.48"/>
<rect x="654.2" y="4.5" width="23.6" height="69.5" fill="#3a40a5" fill-opacity="0.48"/>
</g>
<path d="M47.6 74.25H677.8" stroke="#fcefec" stroke-width="1"/>
<path d="M47.9 7.07V71.39M39.5 7.07H47.9M39.5 23.15H47.9M39.5 39.23H47.9M39.5 55.31H47.9M39.5 71.39H47.9M70.80 74.10H654.60M70.80 74.10V82.10M154.20 74.10V82.10M237.60 74.10V82.10M321.00 74.10V82.10M404.40 74.10V82.10M487.80 74.10V82.10M571.20 74.10V82.10M654.60 74.10V82.10M91.65 74.10V76.90M112.50 74.10V76.90M133.35 74.10V76.90M175.05 74.10V76.90M195.90 74.10V76.90M216.75 74.10V76.90M258.45 74.10V76.90M279.30 74.10V76.90M300.15 74.10V76.90M341.85 74.10V76.90M362.70 74.10V76.90M383.55 74.10V76.90M425.25 74.10V76.90M446.10 74.10V76.90M466.95 74.10V76.90M508.65 74.10V76.90M529.50 74.10V76.90M550.35 74.10V76.90M592.05 74.10V76.90M612.90 74.10V76.90M633.75 74.10V76.90" stroke="#000" stroke-width="1.3" fill="none" stroke-linecap="square"/>
<text x="35.3" y="11.87" text-anchor="end">2</text>
<text x="35.3" y="27.95" text-anchor="end">1</text>
<text x="35.3" y="44.03" text-anchor="end">0</text>
<text x="35.3" y="60.11" text-anchor="end">−1</text>
<text x="35.3" y="76.19" text-anchor="end">−2</text>
<text x="70.80" y="98.70" text-anchor="middle">7000</text>
<text x="154.20" y="98.70" text-anchor="middle">6000</text>
<text x="237.60" y="98.70" text-anchor="middle">5000</text>
<text x="321.00" y="98.70" text-anchor="middle">4000</text>
<text x="404.40" y="98.70" text-anchor="middle">3000</text>
<text x="487.80" y="98.70" text-anchor="middle">2000</text>
<text x="571.20" y="98.70" text-anchor="middle">1000</text>
<text x="654.60" y="98.70" text-anchor="middle">1 cal BC</text>
<text x="71.3" y="25.1" style="font-size:13.5px">Sardinia</text>
</g>
<g transform="translate(0 630.84)">
<clipPath id="c6"><rect x="47.6" y="4.5" width="630.2" height="69.5"/></clipPath>
<rect x="125.3" y="4.5" width="31.6" height="69.5" fill="#fbd0c3"/>
<rect x="312.1" y="4.5" width="1.7" height="69.5" fill="#fbd0c3"/>
<rect x="397.3" y="4.5" width="2.0" height="69.5" fill="#fbd0c3"/>
<rect x="432.4" y="4.5" width="9.8" height="69.5" fill="#fbd0c3"/>
<rect x="467.5" y="4.5" width="11.3" height="69.5" fill="#fbd0c3"/>
<path d="M47.6 7.07H677.8M47.6 23.15H677.8M47.6 39.23H677.8M47.6 55.31H677.8M47.6 71.39H677.8M70.80 4.5V74.0M154.20 4.5V74.0M237.60 4.5V74.0M321.00 4.5V74.0M404.40 4.5V74.0M487.80 4.5V74.0M571.20 4.5V74.0M654.60 4.5V74.0" stroke="#d3d3d3" stroke-width="1" stroke-dasharray="0.95 2.81" fill="none"/>
<g clip-path="url(#c6)">
<path d="M47.0 35.4L49.6 34.6L50.6 34.1L51.2 33.6L51.6 33.1L51.9 32.4L52.2 31.7L52.7 29.3L54.7 17.1L55.4 13.1L56.4 8.4L57.7 3.5L58.5 -2.0" fill="none" stroke="#000" stroke-width="1.5" stroke-linejoin="round" stroke-linecap="butt" stroke-dasharray="4.9 4.9"/>
<path d="M70.6 -2.0L71.2 3.2L71.6 4.7L71.9 5.9L75.3 14.4L77.0 18.1L78.3 21.0L79.5 23.1L80.5 24.8L81.4 26.1L82.4 27.3L83.3 28.1L83.9 28.6L86.7 30.0L88.3 31.1L89.2 32.0L90.2 33.2L91.2 34.4L92.0 35.8L93.0 37.5L94.0 39.7L97.2 47.9L100.7 56.5L102.0 59.8L102.6 61.1L103.2 61.8L103.6 61.8L104.1 61.7L104.6 60.9L105.2 59.5L106.8 54.6L108.1 51.3L109.0 49.6L109.4 49.1L109.9 48.9L110.3 48.9L110.7 49.2L111.0 49.7L111.3 50.4L112.0 53.0L113.0 58.1" fill="none" stroke="#000" stroke-width="1.5" stroke-linejoin="round" stroke-linecap="butt" stroke-dasharray="4.9 4.9"/>
<path d="M113.1 58.1L113.6 54.2L113.9 50.2L114.5 16.9L115.3 -3.2" fill="none" stroke="#000" stroke-width="1.5" stroke-linejoin="round" stroke-linecap="butt" stroke-dasharray="4.9 4.9"/>
<path d="M145.8 -2.0L146.3 2.0L146.6 4.3L147.1 6.3L147.7 8.6L149.8 14.7L151.0 18.0L152.6 21.7L154.3 24.9L155.7 27.3L157.2 29.2L159.3 31.6L161.5 33.9L163.4 35.4L165.4 36.7L167.1 37.6L168.6 38.0L169.7 38.0L170.4 37.8L171.1 37.4L172.1 36.8L172.9 36.0L174.0 34.8L177.8 30.2L178.6 29.4L179.6 29.0L180.2 29.0L181.2 29.3L182.1 30.0L184.1 31.8L185.3 32.8L186.4 33.4L187.1 33.7L187.8 33.9L188.6 34.1L189.7 34.0L190.4 33.8L191.1 33.5L192.2 32.9L195.5 30.8L197.7 29.7L199.2 29.2L200.7 29.0L202.3 29.1L203.8 29.4L207.6 30.6L212.9 32.6L214.4 32.9L215.6 32.9L216.3 32.8L217.1 32.6L218.4 31.9L219.7 30.9L222.1 28.8L223.3 27.8L225.3 26.5L227.4 25.3L229.2 24.5L231.1 23.9L233.1 23.6L234.7 23.6L236.7 23.8L238.6 24.3L240.4 25.0L242.1 26.1L244.4 27.7L247.2 30.0L253.0 35.4L256.9 38.9L257.9 39.5L258.6 39.9L259.6 40.2L260.4 40.2L261.4 39.9L262.0 39.5L262.6 39.0L265.9 35.5L269.4 32.2L271.5 30.4L273.1 29.2L274.2 28.7L275.6 28.0L280.5 26.2L284.2 24.7L285.7 24.2L287.2 24.0L288.4 24.1L289.5 24.4L290.6 24.9L293.7 26.6L294.9 26.9L296.0 27.1L297.2 27.1L298.7 26.8L304.5 25.1L307.2 24.5L308.4 24.4L309.1 24.5L310.6 24.9L311.4 25.2L312.4 25.8L314.2 27.3L315.9 29.0L319.3 33.0L320.4 34.1L321.9 35.4L323.2 36.4L324.2 37.0L325.2 37.5L325.9 37.7L327.0 37.7L327.8 37.6L328.5 37.3L329.4 36.6L332.3 34.5L333.3 33.9L334.1 33.7L335.2 33.3L336.4 33.2L337.6 33.1L339.2 33.1L340.8 33.3L342.7 33.7L345.0 34.3L346.9 34.9L349.1 35.8L352.6 37.8L354.0 38.5L355.9 39.2L357.8 39.7L359.8 40.1L361.8 40.3L366.2 40.3L369.8 40.5L371.3 40.4L372.9 40.1L374.3 39.4L374.9 39.0L375.8 38.2L377.1 36.7L378.0 35.4L379.0 33.6L384.6 22.1L386.3 19.0L387.5 16.9L388.6 15.2L389.7 14.1L390.6 13.6L391.6 13.4L392.3 13.5L393.2 14.1L394.0 14.9L394.8 15.8L396.0 17.8L399.3 23.8L400.7 26.2L403.0 29.5L405.7 33.0L407.3 34.8L408.7 36.1L410.1 36.9L410.8 37.2L411.5 37.3L412.2 37.3L413.3 37.1L414.0 36.8L415.0 36.1L416.4 34.7L419.0 31.2L420.8 29.1L422.7 27.0L424.4 25.3L426.5 23.5L428.1 22.4L428.8 22.0L429.5 21.8L430.6 21.7L431.8 21.8L432.9 22.2L434.3 22.8L435.7 23.7L437.3 24.9L439.3 26.8L440.7 28.2L443.1 30.9L444.6 32.3L446.2 33.4L447.3 33.9L448.4 34.3L449.9 34.6L451.1 34.7L452.3 34.7L453.5 34.5L455.0 34.1L456.5 33.6L463.6 30.8L466.3 29.9L467.4 29.7L468.6 29.5L469.8 29.4L471.4 29.5L473.7 30.0L476.0 30.8L477.7 31.7L481.9 34.1L484.0 35.2L487.3 36.7L491.4 38.4L494.4 39.5L496.3 40.1L498.2 40.5L500.2 40.8L502.2 40.8L504.6 40.7L506.5 40.4L508.5 39.9L509.9 39.2L510.9 38.6L511.8 37.9L514.5 35.4L515.4 34.7L516.4 34.1L517.9 33.4L519.8 32.8L521.3 32.5L522.5 32.5L523.6 32.6L525.1 33.2L529.6 35.7L532.5 37.1L534.4 37.7L536.4 38.1L538.7 38.2L544.3 38.1L566.3 38.1L570.3 38.2L573.1 38.6L574.3 38.9L575.4 39.3L577.5 40.4L580.6 42.2L584.2 44.8L585.5 45.6L587.0 46.1L588.1 46.2L589.2 46.0L590.3 45.6L591.3 45.0L592.1 44.1L592.6 43.5L593.2 42.5L595.4 37.8L596.1 36.9L596.9 36.0L597.8 35.3L598.8 34.8L599.5 34.7L600.6 34.7L601.7 35.0L603.1 35.8L604.4 36.7L605.6 37.8L606.7 38.9L607.9 40.5L609.1 42.1L610.3 44.2L611.8 47.0L614.1 51.7L620.0 64.8L624.8 74.5L626.3 77.8L628.6 83.3" fill="none" stroke="#000" stroke-width="1.5" stroke-linejoin="round" stroke-linecap="butt" stroke-dasharray="4.9 4.9"/>
<path d="M47.0 67.5L50.0 66.5L51.1 66.1L52.5 65.3L53.7 64.2L55.6 62.2L57.1 60.4L58.2 58.7L60.3 54.8L61.3 53.1L62.7 51.1L64.2 49.2L65.9 47.5L67.5 46.4L68.2 46.0L68.9 45.8L69.6 45.7L70.3 45.8L71.0 46.1L71.7 46.4L74.4 48.7L75.4 49.4L76.1 49.7L77.6 50.3L81.8 51.3L83.7 52.1L84.3 52.5L85.3 53.3L86.6 54.7L87.8 56.3L89.4 59.1L91.3 62.6L93.3 66.6L94.9 70.3L96.1 73.2L96.9 75.5L97.8 78.6" fill="none" stroke="#000" stroke-width="1.5" stroke-linejoin="round" stroke-linecap="butt" stroke-dasharray="4.9 4.9"/>
<path d="M121.1 80.9L123.9 -2.0" fill="none" stroke="#000" stroke-width="1.5" stroke-linejoin="round" stroke-linecap="butt" stroke-dasharray="4.9 4.9"/>
<path d="M136.4 -2.0L137.0 2.8L137.6 5.5L138.1 7.4L139.8 12.3L141.6 18.5L142.6 21.1L143.7 23.7L144.9 26.2L146.2 28.7L148.0 31.3L150.0 33.8L151.9 35.8L154.9 38.5L156.4 39.9L160.4 44.8L162.5 47.2L164.0 48.6L165.2 49.6L166.6 50.3L167.7 50.7L168.4 50.8L169.2 50.8L169.9 50.6L171.0 50.1L172.6 49.0L176.0 46.3L177.3 45.4L178.7 44.7L179.8 44.5L180.6 44.5L181.7 44.7L183.2 45.3L188.3 47.5L189.4 47.8L190.6 47.9L191.7 47.8L192.8 47.5L197.3 45.6L200.7 44.5L202.6 44.1L203.8 44.0L204.6 44.1L206.1 44.4L207.6 45.0L213.4 47.7L216.0 48.7L217.5 49.1L219.1 49.3L220.7 49.3L221.9 49.2L223.8 48.8L225.6 48.0L227.0 47.2L230.4 45.0L232.8 43.6L235.2 42.2L236.6 41.5L237.7 41.1L238.9 40.8L240.1 40.6L241.2 40.6L242.4 40.7L244.0 41.0L245.5 41.5L246.9 42.2L247.9 42.9L249.2 43.8L256.4 50.2L258.6 51.9L259.9 52.7L261.1 53.0L262.2 53.2L263.4 53.1L264.5 52.9L266.1 52.5L269.4 51.2L271.6 50.2L280.1 45.7L281.5 45.0L283.0 44.4L285.7 43.8L294.0 42.6L297.6 41.9L301.0 40.9L309.3 38.0L310.9 37.6L312.0 37.6L312.8 37.6L313.9 37.9L315.7 38.8L317.7 40.1L320.6 42.8L322.5 44.3L323.9 45.1L325.3 45.8L326.4 46.3L327.5 46.6L329.1 46.8L330.7 46.6L337.2 45.0L338.8 44.7L340.0 44.5L341.2 44.5L342.4 44.6L345.9 45.2L347.0 45.3L348.1 45.2L350.0 44.8L351.0 44.9L352.3 45.5L356.3 48.1L359.8 50.1L362.2 51.4L365.4 53.0L374.9 57.4L376.8 57.9L378.3 58.0L379.5 57.9L380.9 57.3L382.2 56.5L383.4 55.4L384.3 54.1L385.2 52.7L388.9 45.2L390.1 43.1L391.2 41.5L392.6 39.6L394.0 38.2L395.3 37.2L396.0 36.9L396.7 36.8L397.4 36.7L398.4 37.0L399.1 37.4L399.9 38.2L401.3 39.6L403.9 43.2L405.7 45.3L407.0 46.8L408.2 47.8L409.5 48.8L410.9 49.5L412.4 49.9L413.6 50.1L415.2 50.0L417.1 49.5L418.9 48.8L421.0 47.5L424.2 45.1L427.9 42.1L429.6 40.4L431.9 37.7L432.7 36.8L433.4 36.4L434.0 36.0L435.1 35.8L435.8 35.8L436.6 35.9L438.4 36.6L440.5 37.7L444.3 40.0L446.8 41.1L448.3 41.7L449.5 42.0L450.7 42.2L451.9 42.3L453.1 42.3L454.6 42.1L456.2 41.8L458.1 41.3L460.8 40.3L466.6 37.8L468.1 37.2L468.9 37.1L470.0 37.0L472.0 37.2L474.0 37.6L476.2 38.4L478.0 39.3L482.3 41.4L484.5 42.4L488.2 44.0L494.2 46.2L496.5 46.9L498.8 47.5L501.2 47.9L503.5 48.1L505.1 48.1L506.3 48.0L507.5 47.7L509.0 47.2L510.1 46.7L511.1 46.1L515.1 42.9L517.9 41.2L519.3 40.5L520.8 39.9L521.9 39.7L523.1 39.6L524.2 39.8L525.3 40.2L529.5 42.4L532.8 43.9L534.7 44.6L536.2 44.9L538.6 45.0L544.6 44.9L550.6 44.9L553.4 45.0L558.6 45.5L560.6 45.6L562.6 45.5L567.4 45.0L570.2 45.0L572.1 45.2L573.7 45.5L575.2 45.9L577.1 46.7L579.2 47.9L581.1 49.2L582.6 50.5L586.0 53.9L587.9 55.4L589.3 56.2L591.1 57.0L592.6 57.5L595.3 58.3L596.4 58.7L597.1 59.1L598.0 59.8L599.5 61.1L601.0 63.0L602.4 64.9L603.7 66.9L605.3 69.7L606.8 72.5L608.0 75.1L611.0 82.1" fill="none" stroke="#000" stroke-width="1.5" stroke-linejoin="round" stroke-linecap="butt" stroke-dasharray="4.9 4.9"/>
<path d="M47.0 49.4L48.8 50.1L49.9 50.3L50.5 50.2L50.8 50.0L51.4 49.7L51.9 49.1L52.6 47.8L53.5 45.6L55.9 37.9L57.4 33.8L59.5 28.6L61.5 24.2L62.1 23.2L62.8 22.3L63.4 21.8L64.0 21.4L64.7 21.2L65.4 21.1L66.1 21.2L66.8 21.4L67.5 21.8L68.1 22.2L68.6 22.8L69.4 23.7L74.7 32.6L76.1 34.6L77.7 36.4L78.8 37.5L80.0 38.5L81.1 39.1L83.9 40.5L85.2 41.4L86.9 43.1L88.7 45.2L90.3 47.6L91.9 50.3L97.2 61.1L99.3 65.0L101.2 68.1L103.0 70.7L104.3 72.2L105.8 73.4L107.2 74.2L110.1 75.7" fill="none" stroke="#000" stroke-width="3" stroke-linejoin="round" stroke-linecap="butt"/>
<path d="M114.0 83.2L114.6 74.0L116.4 50.8L118.7 14.0L119.0 9.6L119.6 4.0L120.1 -3.2" fill="none" stroke="#000" stroke-width="3" stroke-linejoin="round" stroke-linecap="butt"/>
<path d="M142.0 -2.0L142.5 2.0L143.0 4.7L143.6 7.5L144.6 10.9L146.2 15.8L147.7 19.6L149.3 23.2L151.1 26.8L152.7 29.6L154.3 31.9L158.2 37.0L160.2 39.4L161.9 41.1L163.9 42.5L165.6 43.5L166.7 43.9L167.4 44.1L168.6 44.3L169.3 44.2L170.5 43.9L171.5 43.4L172.4 42.7L173.2 41.9L175.4 39.0L176.5 37.9L177.7 37.0L178.4 36.6L179.1 36.4L180.2 36.4L181.2 36.8L182.2 37.4L184.3 39.2L186.0 40.3L187.3 41.1L188.1 41.4L188.8 41.5L189.9 41.5L191.4 41.1L195.7 39.0L197.5 38.2L199.0 37.6L200.9 37.1L202.5 37.0L203.3 37.0L204.4 37.2L206.4 37.7L208.2 38.4L212.2 40.2L213.7 40.8L215.3 41.1L216.4 41.1L217.6 40.9L219.0 40.4L224.5 37.1L227.7 35.4L229.9 34.4L231.8 33.8L233.7 33.3L235.7 33.1L237.3 33.0L238.8 33.2L240.8 33.6L242.7 34.3L244.8 35.4L246.5 36.4L247.7 37.4L253.0 42.3L254.6 43.5L256.5 44.9L257.9 45.8L258.9 46.3L260.1 46.5L261.2 46.5L262.3 46.2L263.3 45.7L269.3 41.1L271.0 40.0L272.4 39.2L274.5 38.2L278.7 36.9L280.2 36.3L281.6 35.6L284.1 34.2L285.5 33.6L286.6 33.3L288.2 33.4L289.3 33.6L292.8 34.5L293.9 34.7L295.5 34.6L297.9 34.2L306.3 31.9L307.9 31.6L309.5 31.5L310.7 31.6L311.8 31.9L312.9 32.3L313.9 32.9L314.9 33.6L315.7 34.4L319.4 38.2L321.7 40.3L324.0 41.9L325.0 42.4L325.8 42.7L326.9 42.8L327.6 42.7L328.3 42.5L329.4 41.9L332.7 39.8L333.8 39.2L334.9 38.8L336.4 38.4L337.6 38.3L338.8 38.2L340.4 38.3L342.3 38.6L346.2 39.6L349.3 40.1L350.4 40.4L351.5 41.0L354.9 43.0L357.3 44.4L359.5 45.4L361.7 46.2L364.5 46.9L369.2 47.8L371.5 48.1L373.1 48.1L374.7 47.8L375.4 47.6L376.5 47.1L378.2 46.0L379.9 44.4L381.2 42.9L382.3 41.3L384.6 37.5L387.4 32.2L389.0 29.9L390.0 28.7L391.3 27.8L392.3 27.4L393.4 27.2L394.2 27.3L395.3 27.6L396.3 28.2L397.1 29.0L398.6 30.8L403.8 38.0L405.3 39.8L406.7 41.2L408.2 42.5L409.6 43.4L411.0 44.0L412.1 44.2L413.3 44.2L414.4 44.0L415.5 43.5L416.8 42.7L418.1 41.7L419.9 40.1L426.2 34.0L428.9 31.6L430.2 30.6L431.5 29.8L432.6 29.3L433.7 29.1L434.4 29.2L435.1 29.4L435.8 29.7L436.9 30.2L439.5 32.1L443.8 35.6L445.4 36.8L447.6 37.8L448.7 38.2L449.9 38.5L451.0 38.7L452.2 38.7L453.4 38.6L455.0 38.3L456.5 37.9L458.4 37.2L463.4 34.8L466.0 33.8L467.2 33.5L468.3 33.3L469.5 33.2L471.1 33.3L473.5 33.7L476.1 34.6L477.9 35.4L482.6 37.8L485.4 39.2L489.5 40.9L493.6 42.5L495.9 43.2L497.8 43.7L499.8 44.1L501.8 44.3L503.7 44.4L505.3 44.3L506.9 44.0L508.4 43.6L509.5 43.0L510.8 42.2L511.8 41.5L514.8 38.9L515.8 38.2L517.2 37.4L519.0 36.6L520.5 36.1L522.0 35.8L523.2 35.8L524.3 36.1L525.4 36.5L529.5 38.9L532.4 40.3L534.7 41.1L536.6 41.4L538.6 41.5L544.2 41.4L550.6 41.4L560.6 41.8L562.6 41.8L567.4 41.4L570.2 41.4L572.2 41.5L573.7 41.8L574.9 42.1L576.0 42.6L578.4 44.0L581.0 45.8L585.0 49.1L586.7 50.3L588.1 51.0L589.6 51.4L590.3 51.4L591.1 51.4L591.8 51.2L592.5 51.0L593.9 50.1L596.3 48.2L597.7 47.4L598.4 47.2L599.1 47.2L599.9 47.3L600.9 47.7L601.6 48.1L602.5 48.8L604.1 50.6L605.7 52.8L607.3 55.6L609.1 59.2L612.5 66.4L619.8 83.3" fill="none" stroke="#000" stroke-width="3" stroke-linejoin="round" stroke-linecap="butt"/>
<rect x="96.3" y="4.5" width="19.5" height="69.5" fill="#3a40a5" fill-opacity="0.48"/>
<rect x="125.3" y="4.5" width="31.6" height="69.5" fill="#ee4a18" fill-opacity="0.3"/>
<rect x="259.5" y="4.5" width="3.8" height="69.5" fill="#3a40a5" fill-opacity="0.48"/>
<rect x="312.1" y="4.5" width="1.7" height="69.5" fill="#ee4a18" fill-opacity="0.3"/>
<rect x="358.8" y="4.5" width="5.4" height="69.5" fill="#3a40a5" fill-opacity="0.48"/>
<rect x="366.1" y="4.5" width="2.2" height="69.5" fill="#3a40a5" fill-opacity="0.48"/>
<rect x="370.1" y="4.5" width="5.8" height="69.5" fill="#3a40a5" fill-opacity="0.48"/>
<rect x="397.3" y="4.5" width="2.0" height="69.5" fill="#ee4a18" fill-opacity="0.3"/>
<rect x="432.4" y="4.5" width="9.8" height="69.5" fill="#ee4a18" fill-opacity="0.3"/>
<rect x="467.5" y="4.5" width="11.3" height="69.5" fill="#ee4a18" fill-opacity="0.3"/>
<rect x="494.9" y="4.5" width="15.4" height="69.5" fill="#3a40a5" fill-opacity="0.48"/>
<rect x="580.1" y="4.5" width="15.6" height="69.5" fill="#3a40a5" fill-opacity="0.48"/>
<rect x="611.0" y="4.5" width="43.1" height="69.5" fill="#3a40a5" fill-opacity="0.48"/>
<rect x="658.0" y="4.5" width="5.7" height="69.5" fill="#3a40a5" fill-opacity="0.48"/>
<rect x="665.2" y="4.5" width="6.7" height="69.5" fill="#3a40a5" fill-opacity="0.48"/>
<rect x="673.2" y="4.5" width="4.6" height="69.5" fill="#3a40a5" fill-opacity="0.48"/>
<path d="M665.1 70.0L666.5 3.9" stroke="#1c1f4f" stroke-width="1.3" fill="none"/>
<path d="M667.4 3.9L669.4 75.2" stroke="#05050f" stroke-width="3.3" fill="none"/>
<path d="M675.7 75.2L677.6 43.4" stroke="#1c1f4f" stroke-width="2.6" fill="none"/>
<path d="M673.0 50.0L673.4 45.5" stroke="#1c1f4f" stroke-width="1.5" fill="none"/>
<path d="M674.0 39.6L674.4 35.1" stroke="#1c1f4f" stroke-width="1.5" fill="none"/>
</g>
<path d="M47.6 74.25H677.8" stroke="#fcefec" stroke-width="1"/>
<path d="M47.9 7.07V71.39M39.5 7.07H47.9M39.5 23.15H47.9M39.5 39.23H47.9M39.5 55.31H47.9M39.5 71.39H47.9M70.80 74.10H654.60M70.80 74.10V82.10M154.20 74.10V82.10M237.60 74.10V82.10M321.00 74.10V82.10M404.40 74.10V82.10M487.80 74.10V82.10M571.20 74.10V82.10M654.60 74.10V82.10M91.65 74.10V76.90M112.50 74.10V76.90M133.35 74.10V76.90M175.05 74.10V76.90M195.90 74.10V76.90M216.75 74.10V76.90M258.45 74.10V76.90M279.30 74.10V76.90M300.15 74.10V76.90M341.85 74.10V76.90M362.70 74.10V76.90M383.55 74.10V76.90M425.25 74.10V76.90M446.10 74.10V76.90M466.95 74.10V76.90M508.65 74.10V76.90M529.50 74.10V76.90M550.35 74.10V76.90M592.05 74.10V76.90M612.90 74.10V76.90M633.75 74.10V76.90" stroke="#000" stroke-width="1.3" fill="none" stroke-linecap="square"/>
<text x="35.3" y="11.87" text-anchor="end">2</text>
<text x="35.3" y="27.95" text-anchor="end">1</text>
<text x="35.3" y="44.03" text-anchor="end">0</text>
<text x="35.3" y="60.11" text-anchor="end">−1</text>
<text x="35.3" y="76.19" text-anchor="end">−2</text>
<text x="70.80" y="98.70" text-anchor="middle">7000</text>
<text x="154.20" y="98.70" text-anchor="middle">6000</text>
<text x="237.60" y="98.70" text-anchor="middle">5000</text>
<text x="321.00" y="98.70" text-anchor="middle">4000</text>
<text x="404.40" y="98.70" text-anchor="middle">3000</text>
<text x="487.80" y="98.70" text-anchor="middle">2000</text>
<text x="571.20" y="98.70" text-anchor="middle">1000</text>
<text x="654.60" y="98.70" text-anchor="middle">1 cal BC</text>
<text x="71.3" y="25.1" style="font-size:13.5px">Sicily</text>
</g>
<g transform="translate(0 735.98)">
<clipPath id="c7"><rect x="47.6" y="4.5" width="630.2" height="69.5"/></clipPath>
<rect x="124.9" y="4.5" width="3.3" height="69.5" fill="#fbd0c3"/>
<rect x="130.4" y="4.5" width="1.6" height="69.5" fill="#fbd0c3"/>
<rect x="149.0" y="4.5" width="50.9" height="69.5" fill="#fbd0c3"/>
<rect x="311.3" y="4.5" width="18.6" height="69.5" fill="#fbd0c3"/>
<rect x="337.2" y="4.5" width="23.9" height="69.5" fill="#fbd0c3"/>
<rect x="528.0" y="4.5" width="9.9" height="69.5" fill="#fbd0c3"/>
<rect x="657.7" y="4.5" width="1.2" height="69.5" fill="#fbd0c3"/>
<rect x="672.9" y="4.5" width="2.1" height="69.5" fill="#fbd0c3"/>
<path d="M47.6 7.07H677.8M47.6 23.15H677.8M47.6 39.23H677.8M47.6 55.31H677.8M47.6 71.39H677.8M70.80 4.5V74.0M154.20 4.5V74.0M237.60 4.5V74.0M321.00 4.5V74.0M404.40 4.5V74.0M487.80 4.5V74.0M571.20 4.5V74.0M654.60 4.5V74.0" stroke="#d3d3d3" stroke-width="1" stroke-dasharray="0.95 2.81" fill="none"/>
<g clip-path="url(#c7)">
<path d="M197.5 -2.1L198.2 2.6L198.8 5.8L199.7 9.3L200.8 13.1L202.3 17.7L203.8 21.4L204.9 23.5L206.0 25.1L206.8 25.9L207.4 26.4L208.5 26.7L209.2 26.8L209.9 26.7L210.6 26.4L213.8 24.8L215.2 24.3L216.0 24.2L216.8 24.3L217.5 24.4L218.6 24.9L219.6 25.5L220.5 26.2L222.6 28.1L224.5 30.2L228.5 34.7L230.4 36.7L232.0 37.9L233.0 38.5L233.7 38.7L234.8 38.9L236.0 38.8L237.0 38.5L239.5 37.2L240.6 36.7L241.7 36.5L242.8 36.5L243.9 36.7L245.4 37.4L246.3 38.1L249.2 40.2L250.6 40.9L251.3 41.1L252.0 41.2L252.7 41.1L253.4 40.9L254.2 40.2L254.9 39.3L255.4 38.2L256.0 36.7L256.8 34.0L257.6 30.9L259.1 23.9L259.4 22.7L259.9 21.7L260.4 21.1L261.2 20.2L262.1 19.6L263.2 19.2L264.3 19.0L264.9 19.2L265.6 19.5L266.1 19.9L266.6 20.5L267.2 21.5L267.7 22.6L268.4 24.4L269.6 28.3L272.2 37.1L278.3 56.6L280.8 63.8L284.8 74.2L285.6 76.5L286.8 80.8" fill="none" stroke="#000" stroke-width="1.5" stroke-linejoin="round" stroke-linecap="butt" stroke-dasharray="4.9 4.9"/>
<path d="M295.1 80.8L295.3 75.2L296.2 61.5L297.5 35.5L298.0 26.7L298.9 14.3L300.1 4.3L300.7 -3.3" fill="none" stroke="#000" stroke-width="1.5" stroke-linejoin="round" stroke-linecap="butt" stroke-dasharray="4.9 4.9"/>
<path d="M340.1 -2.1L340.6 1.8L341.0 4.6L341.5 7.3L342.2 10.0L343.1 12.7L344.2 15.3L345.2 17.4L346.4 19.1L347.7 20.5L349.2 21.8L350.8 23.0L353.5 24.7L355.1 25.9L361.2 31.1L363.7 33.1L366.3 34.9L369.3 36.9L371.4 38.1L373.2 39.0L374.3 39.3L375.1 39.3L375.8 39.3L376.5 39.1L378.0 38.5L382.5 35.9L383.5 35.4L384.7 35.1L386.2 34.8L391.4 34.2L396.1 33.2L397.6 32.9L399.6 32.9L401.6 33.0L403.2 33.4L410.2 35.1L412.1 35.3L413.7 35.4L416.5 35.2L425.6 34.0L428.0 33.6L432.7 32.7L434.3 32.5L435.9 32.6L438.2 33.0L440.1 33.7L441.2 34.2L442.2 34.8L446.1 37.5L448.2 38.7L455.6 41.9L464.9 46.5L466.7 47.1L468.3 47.3L469.5 47.3L470.6 47.1L471.7 46.7L473.1 45.9L474.3 44.9L475.2 44.1L475.9 43.1L476.7 41.8L477.8 39.2L479.0 35.4L481.1 27.3L483.2 17.9L484.2 14.4L485.3 11.9L486.1 10.5L486.9 9.1L487.3 8.6L487.8 8.1L488.3 7.9L488.8 8.0L489.3 8.2L490.0 9.0L491.3 11.4L492.4 14.0L494.9 19.9L497.0 24.6L505.4 41.5L507.1 45.5L511.1 55.1L513.0 59.1L514.1 61.2L515.0 62.9L515.6 63.7L516.0 63.9L516.2 64.0L516.6 63.8L516.9 63.4L517.3 62.5L517.5 61.3L518.1 56.6L518.8 49.0L519.7 35.4L520.6 16.3L521.8 -3.3" fill="none" stroke="#000" stroke-width="1.5" stroke-linejoin="round" stroke-linecap="butt" stroke-dasharray="4.9 4.9"/>
<path d="M538.8 -2.1L539.3 2.6L539.7 5.4L542.2 15.1L543.3 19.0L544.6 22.8L545.9 26.1L546.8 27.8L547.5 28.6L548.0 29.0L548.3 29.0L548.6 29.0L549.1 28.9L549.9 28.2L550.5 27.3L551.2 25.9L552.9 21.8L553.6 20.4L554.5 19.1L555.1 18.6L555.7 18.2L556.4 17.9L557.1 17.7L558.2 17.6L558.9 17.8L559.6 18.1L560.2 18.5L560.7 19.1L561.4 20.0L562.0 21.1L564.8 27.3L566.6 30.8L574.5 44.3L576.8 48.5L579.0 52.8L583.1 61.5L586.7 68.7L588.0 71.6L589.4 75.4L590.9 80.8" fill="none" stroke="#000" stroke-width="1.5" stroke-linejoin="round" stroke-linecap="butt" stroke-dasharray="4.9 4.9"/>
<path d="M617.6 14.2L617.6 66.8" fill="none" stroke="#000" stroke-width="1.5" stroke-linejoin="round" stroke-linecap="butt" stroke-dasharray="4.9 4.9"/>
<path d="M189.1 -2.1L189.6 3.0L190.3 6.6L192.9 16.2L194.5 21.6L197.1 28.8L198.5 32.1L199.4 34.3L200.5 36.4L201.6 38.1L202.5 39.4L203.6 40.6L204.5 41.3L205.5 41.8L206.2 42.0L207.4 42.0L208.1 41.9L209.3 41.6L214.1 39.6L216.0 39.0L217.1 38.9L218.3 38.9L219.1 39.1L220.2 39.5L221.5 40.3L222.7 41.3L224.2 42.7L227.6 46.6L228.8 47.6L230.1 48.6L231.4 49.4L232.9 50.0L234.4 50.3L237.2 50.5L238.4 50.7L239.9 51.2L241.3 51.9L243.0 53.0L244.2 54.0L245.3 55.2L247.4 57.5L249.2 59.2L252.4 61.5L253.4 62.0L254.1 62.1L254.7 62.0L255.2 61.7L255.7 61.2L256.3 60.3L257.5 57.3L260.2 49.3L261.1 47.1L261.8 45.7L262.7 44.5L263.6 43.9L264.2 43.7L264.5 43.7L264.8 43.8L265.4 44.1L266.0 44.5L266.5 45.1L267.3 46.4L268.2 48.2L269.4 51.2L271.5 57.2L274.4 66.4L275.1 68.2L276.8 72.3L277.5 74.2L278.3 76.9L279.2 80.8" fill="none" stroke="#000" stroke-width="1.5" stroke-linejoin="round" stroke-linecap="butt" stroke-dasharray="4.9 4.9"/>
<path d="M306.4 80.8L309.2 -3.3" fill="none" stroke="#000" stroke-width="1.5" stroke-linejoin="round" stroke-linecap="butt" stroke-dasharray="4.9 4.9"/>
<path d="M324.3 -2.1L325.0 3.0L325.6 6.2L326.3 8.9L328.9 18.5L330.1 22.4L331.1 25.0L332.0 26.7L333.0 28.0L334.2 28.9L334.9 29.3L336.0 29.6L337.5 29.9L342.7 30.3L345.5 30.6L347.8 31.2L349.7 31.9L354.3 34.4L359.8 37.6L361.7 39.0L365.8 42.3L368.4 44.1L371.2 45.6L372.7 46.2L374.2 46.7L375.4 46.9L376.6 47.1L377.8 47.0L378.9 46.8L380.4 46.4L384.0 44.7L385.9 44.0L387.9 43.6L392.2 43.2L393.8 42.9L395.7 42.4L399.5 41.1L400.6 40.8L401.4 40.7L402.6 40.7L403.8 40.9L405.3 41.3L410.9 43.3L412.5 43.6L414.1 43.7L416.9 43.5L422.8 42.6L427.1 41.8L431.1 41.0L432.6 40.7L434.2 40.6L435.8 40.8L438.1 41.4L441.1 42.6L446.8 45.5L451.4 47.8L453.2 48.7L454.9 49.8L456.4 51.0L464.9 58.9L466.5 60.3L468.0 61.5L470.4 63.0L473.2 64.5L474.7 65.1L475.4 65.3L476.2 65.3L477.3 65.2L478.2 64.7L479.1 63.9L479.7 62.9L480.5 61.1L482.6 55.5L485.0 49.6L486.3 47.1L487.7 44.7L488.7 43.5L489.3 42.9L489.9 42.5L490.9 42.2L491.5 42.3L492.2 42.5L493.1 43.1L494.0 43.9L496.1 46.3L498.8 50.3L501.3 54.4L502.9 57.6L508.1 68.9L510.8 74.3L511.6 76.5L512.8 80.8" fill="none" stroke="#000" stroke-width="1.5" stroke-linejoin="round" stroke-linecap="butt" stroke-dasharray="4.9 4.9"/>
<path d="M523.5 80.8L523.7 73.6L523.9 68.3L526.4 31.5L527.1 16.7L528.0 -2.1" fill="none" stroke="#000" stroke-width="1.5" stroke-linejoin="round" stroke-linecap="butt" stroke-dasharray="4.9 4.9"/>
<path d="M528.0 -2.1L528.6 3.0L529.1 5.4L529.7 6.8L530.9 8.8L531.4 9.9L532.0 11.4L532.4 12.9L533.5 18.0L535.7 29.8L536.7 33.7L537.6 36.4L540.8 44.2L541.6 46.0L542.6 47.8L543.3 48.7L543.8 49.3L544.4 49.7L545.0 50.1L545.7 50.2L546.5 50.3L547.2 50.1L547.9 49.8L548.8 49.2L549.6 48.3L552.7 43.7L554.0 42.1L555.1 41.1L555.8 40.7L556.5 40.4L557.6 40.3L558.3 40.4L559.0 40.6L560.4 41.4L562.0 42.6L563.4 43.9L564.8 45.4L566.4 47.2L567.9 49.1L569.9 52.1L572.4 56.7L574.7 61.3L579.8 73.1L580.9 76.1L582.2 80.8" fill="none" stroke="#000" stroke-width="1.5" stroke-linejoin="round" stroke-linecap="butt" stroke-dasharray="4.9 4.9"/>
<path d="M621.9 2.5L621.9 70.3" fill="none" stroke="#000" stroke-width="1.5" stroke-linejoin="round" stroke-linecap="butt" stroke-dasharray="4.9 4.9"/>
<path d="M126.2 -4.8L127.8 82.6" fill="none" stroke="#000" stroke-width="3" stroke-linejoin="round" stroke-linecap="butt"/>
<path d="M192.6 -3.3L193.6 3.0L194.5 6.9L198.1 18.8L200.0 24.5L201.3 27.9L202.5 30.4L203.2 31.4L204.0 32.3L204.8 33.0L205.5 33.4L206.2 33.7L206.9 33.8L207.7 33.9L208.5 33.8L210.0 33.4L214.1 31.9L215.6 31.5L217.2 31.3L217.9 31.4L218.7 31.6L220.0 32.4L221.6 33.6L223.6 35.6L227.0 39.5L228.4 40.9L230.2 42.5L232.2 43.8L234.0 44.7L235.5 45.0L237.1 45.0L239.8 44.4L240.9 44.3L242.1 44.4L242.8 44.6L243.8 45.1L245.1 46.0L246.3 47.1L249.0 50.0L250.5 51.3L251.9 52.0L252.5 52.2L253.2 52.2L254.2 51.9L255.0 51.2L255.7 50.3L256.5 48.9L257.3 46.7L258.9 40.5L260.3 35.9L261.0 34.0L261.7 32.6L262.6 31.4L263.5 30.8L264.1 30.6L264.4 30.6L265.0 30.7L265.6 31.1L266.1 31.6L266.7 32.6L267.3 33.6L267.9 35.1L271.2 45.8L275.6 58.7L277.4 63.6L279.1 68.1L280.3 71.0L282.3 75.4L282.9 77.3L283.9 80.8" fill="none" stroke="#000" stroke-width="3" stroke-linejoin="round" stroke-linecap="butt"/>
<path d="M299.5 83.1L299.7 78.3L300.0 75.1L301.3 65.6L301.9 58.4L302.7 45.2L304.4 16.3L305.8 -4.5" fill="none" stroke="#000" stroke-width="3" stroke-linejoin="round" stroke-linecap="butt"/>
<path d="M332.6 -3.3L333.3 1.4L333.8 3.8L334.3 5.7L334.9 7.6L337.3 12.7L339.1 16.2L341.2 19.6L342.9 21.8L344.6 23.5L346.5 25.0L348.2 26.0L352.8 28.4L354.9 29.7L357.2 31.3L360.7 33.9L368.2 39.9L370.4 41.5L371.8 42.4L372.9 42.9L374.0 43.4L375.1 43.7L375.8 43.8L376.6 43.7L377.4 43.6L378.1 43.3L379.2 42.8L382.9 40.6L384.4 40.0L385.5 39.6L387.0 39.2L391.0 38.8L393.4 38.4L395.3 37.9L398.7 36.8L400.3 36.5L401.8 36.5L403.0 36.6L407.1 38.1L409.8 38.8L412.2 39.1L414.2 39.2L417.4 39.0L420.9 38.6L431.9 36.4L433.5 36.3L435.1 36.4L436.3 36.6L437.8 37.0L440.4 38.0L442.2 39.0L447.0 41.8L453.0 44.9L455.8 46.6L459.6 49.4L462.3 51.2L464.3 52.5L465.7 53.2L467.5 54.0L469.9 54.5L472.2 54.7L474.2 54.6L475.4 54.4L476.1 54.1L476.8 53.8L477.4 53.3L478.5 52.3L479.6 50.6L480.7 48.5L482.0 45.1L482.8 42.4L484.8 35.5L485.4 33.6L486.0 32.1L487.3 29.6L488.7 27.3L489.1 26.8L489.5 26.5L489.9 26.4L490.1 26.4L490.6 26.7L491.0 27.2L492.2 28.7L493.5 30.7L494.7 32.8L502.2 47.8L507.9 60.6L510.0 64.9L511.9 68.4L513.1 70.5L514.3 72.1L514.8 72.6L515.3 73.0L515.9 73.2L516.2 73.2L516.7 73.0L517.2 72.6L517.6 72.0L518.0 71.0L518.7 68.7L519.3 64.7L520.8 51.2L523.7 18.9L525.4 4.6L526.2 -3.3" fill="none" stroke="#000" stroke-width="3" stroke-linejoin="round" stroke-linecap="butt"/>
<path d="M534.6 -3.3L535.2 2.7L535.8 6.2L539.3 22.3L540.6 26.9L542.1 31.5L543.4 34.8L544.7 37.3L545.6 38.6L546.1 39.1L546.7 39.4L547.4 39.6L547.7 39.6L548.6 39.3L549.5 38.7L550.3 37.8L553.5 32.3L554.7 30.7L555.8 29.6L556.4 29.2L557.1 28.9L558.1 28.9L559.1 29.2L560.3 30.2L561.6 31.7L563.2 34.0L566.6 39.4L568.6 42.9L578.0 61.9L584.0 73.2L585.1 75.8L586.3 79.6" fill="none" stroke="#000" stroke-width="3" stroke-linejoin="round" stroke-linecap="butt"/>
<path d="M659.4 -2.9L659.4 84.5" fill="none" stroke="#000" stroke-width="3" stroke-linejoin="round" stroke-linecap="butt"/>
<rect x="124.9" y="4.5" width="3.3" height="69.5" fill="#ee4a18" fill-opacity="0.3"/>
<rect x="130.4" y="4.5" width="1.6" height="69.5" fill="#ee4a18" fill-opacity="0.3"/>
<rect x="149.0" y="4.5" width="50.9" height="69.5" fill="#ee4a18" fill-opacity="0.3"/>
<rect x="236.7" y="4.5" width="1.3" height="69.5" fill="#3a40a5" fill-opacity="0.48"/>
<rect x="251.1" y="4.5" width="5.4" height="69.5" fill="#3a40a5" fill-opacity="0.48"/>
<rect x="275.1" y="4.5" width="23.9" height="69.5" fill="#3a40a5" fill-opacity="0.48"/>
<rect x="311.3" y="4.5" width="18.6" height="69.5" fill="#ee4a18" fill-opacity="0.3"/>
<rect x="337.2" y="4.5" width="23.9" height="69.5" fill="#ee4a18" fill-opacity="0.3"/>
<rect x="373.7" y="4.5" width="4.4" height="69.5" fill="#3a40a5" fill-opacity="0.48"/>
<rect x="453.2" y="4.5" width="23.6" height="69.5" fill="#3a40a5" fill-opacity="0.48"/>
<rect x="506.7" y="4.5" width="14.2" height="69.5" fill="#3a40a5" fill-opacity="0.48"/>
<rect x="528.0" y="4.5" width="9.9" height="69.5" fill="#ee4a18" fill-opacity="0.3"/>
<rect x="574.2" y="4.5" width="49.7" height="69.5" fill="#3a40a5" fill-opacity="0.48"/>
<rect x="630.8" y="4.5" width="1.5" height="69.5" fill="#3a40a5" fill-opacity="0.48"/>
<rect x="657.7" y="4.5" width="1.2" height="69.5" fill="#ee4a18" fill-opacity="0.3"/>
<rect x="660.2" y="4.5" width="0.9" height="69.5" fill="#3a40a5" fill-opacity="0.48"/>
<rect x="664.9" y="4.5" width="1.4" height="69.5" fill="#3a40a5" fill-opacity="0.48"/>
<rect x="670.4" y="4.5" width="1.5" height="69.5" fill="#3a40a5" fill-opacity="0.48"/>
<rect x="672.9" y="4.5" width="2.1" height="69.5" fill="#ee4a18" fill-opacity="0.3"/>
<path d="M128.3 4.5V74.0" stroke="#000" stroke-width="0.6"/>
</g>
<path d="M47.6 74.25H677.8" stroke="#fcefec" stroke-width="1"/>
<path d="M47.9 7.07V71.39M39.5 7.07H47.9M39.5 23.15H47.9M39.5 39.23H47.9M39.5 55.31H47.9M39.5 71.39H47.9M70.80 74.10H654.60M70.80 74.10V82.10M154.20 74.10V82.10M237.60 74.10V82.10M321.00 74.10V82.10M404.40 74.10V82.10M487.80 74.10V82.10M571.20 74.10V82.10M654.60 74.10V82.10M91.65 74.10V76.90M112.50 74.10V76.90M133.35 74.10V76.90M175.05 74.10V76.90M195.90 74.10V76.90M216.75 74.10V76.90M258.45 74.10V76.90M279.30 74.10V76.90M300.15 74.10V76.90M341.85 74.10V76.90M362.70 74.10V76.90M383.55 74.10V76.90M425.25 74.10V76.90M446.10 74.10V76.90M466.95 74.10V76.90M508.65 74.10V76.90M529.50 74.10V76.90M550.35 74.10V76.90M592.05 74.10V76.90M612.90 74.10V76.90M633.75 74.10V76.90" stroke="#000" stroke-width="1.3" fill="none" stroke-linecap="square"/>
<text x="35.3" y="11.87" text-anchor="end">2</text>
<text x="35.3" y="27.95" text-anchor="end">1</text>
<text x="35.3" y="44.03" text-anchor="end">0</text>
<text x="35.3" y="60.11" text-anchor="end">−1</text>
<text x="35.3" y="76.19" text-anchor="end">−2</text>
<text x="70.80" y="98.70" text-anchor="middle">7000</text>
<text x="154.20" y="98.70" text-anchor="middle">6000</text>
<text x="237.60" y="98.70" text-anchor="middle">5000</text>
<text x="321.00" y="98.70" text-anchor="middle">4000</text>
<text x="404.40" y="98.70" text-anchor="middle">3000</text>
<text x="487.80" y="98.70" text-anchor="middle">2000</text>
<text x="571.20" y="98.70" text-anchor="middle">1000</text>
<text x="654.60" y="98.70" text-anchor="middle">1 cal BC</text>
<text x="71.3" y="25.1" style="font-size:13.5px">Malta</text>
</g>
</g></svg></body></html>
